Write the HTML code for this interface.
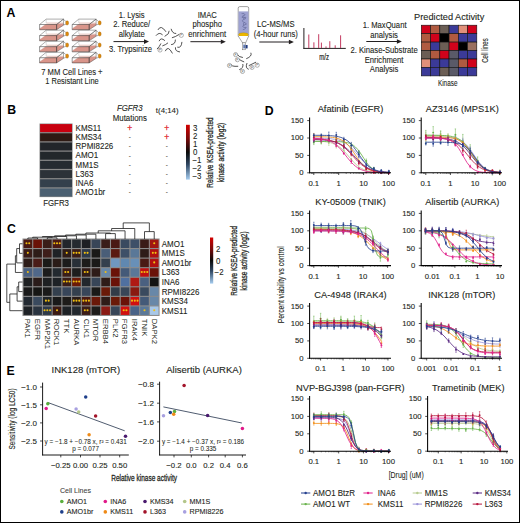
<!DOCTYPE html>
<html><head><meta charset="utf-8"><title>Figure</title>
<style>
html,body{margin:0;padding:0;background:#fff;}
body{width:520px;height:523px;overflow:hidden;font-family:"Liberation Sans", sans-serif;}
svg{display:block;}
text{font-family:"Liberation Sans", sans-serif;}
</style></head><body>
<svg width="520" height="523" viewBox="0 0 520 523" font-family='&quot;Liberation Sans&quot;, sans-serif' fill="#231f20">
<rect x="0.5" y="0.5" width="519" height="522" fill="#fff" stroke="#000" stroke-width="1"/>
<text x="6.60" y="16.80" font-size="12.3" fill="#000" font-weight="bold">A</text>
<text x="7.30" y="114.30" font-size="12.3" fill="#000" font-weight="bold">B</text>
<text x="6.90" y="233.10" font-size="12.3" fill="#000" font-weight="bold">C</text>
<text x="264.80" y="114.50" font-size="12.3" fill="#000" font-weight="bold">D</text>
<text x="6.40" y="374.60" font-size="12.3" fill="#000" font-weight="bold">E</text>
<defs><g id="flask"><path d="M0.3,4.0 L6.0,0 L23.9,-1.0 L23.9,0.7 L17,5.2 L0,5.2 Z" fill="#d9958a"/><path d="M0.3,4.0 L6.0,0 L17,0" fill="none" stroke="#c98074" stroke-width="0.3"/><path d="M6.8,-1.4 L23.6,-1.4" stroke="#c98074" stroke-width="0.5"/><path d="M0,0 L6.6,-5.4 L23.9,-5.4 L17,0 Z M17,0 L23.9,-5.4 L23.9,0.7 L17,5.2 Z" fill="none" stroke="#4a4a4a" stroke-width="0.45" stroke-linejoin="round"/><path d="M0,0 V5.2 H17 V0" fill="none" stroke="#333" stroke-width="0.5"/><path d="M0,0 H17" fill="none" stroke="#666" stroke-width="0.35"/><path d="M6.6,-5.4 V-1.4" stroke="#999" stroke-width="0.35"/><path d="M23.9,-5.0 L26.3,-3.1 M23.9,0.4 L26.3,-0.2" stroke="#4a4a4a" stroke-width="0.45"/><ellipse cx="27.5" cy="-1.6" rx="1.5" ry="2.1" fill="#dd8a0c" stroke="#9a5a00" stroke-width="0.35"/></g></defs>
<use href="#flask" x="39.60" y="24.50"/>
<use href="#flask" x="39.60" y="35.57"/>
<use href="#flask" x="39.60" y="46.64"/>
<use href="#flask" x="39.60" y="57.71"/>
<use href="#flask" x="72.20" y="24.50"/>
<use href="#flask" x="72.20" y="35.57"/>
<use href="#flask" x="72.20" y="46.64"/>
<use href="#flask" x="72.20" y="57.71"/>
<text x="71.90" y="75.10" font-size="8.66" textLength="61.40" lengthAdjust="spacingAndGlyphs" stroke="#231f20" stroke-width="0.1" text-anchor="middle">7 MM Cell Lines +</text>
<text x="72.00" y="84.20" font-size="8.66" textLength="53.40" lengthAdjust="spacingAndGlyphs" stroke="#231f20" stroke-width="0.1" text-anchor="middle">1 Resistant Line</text>
<text x="131.70" y="17.60" font-size="8.43" textLength="25.68" lengthAdjust="spacingAndGlyphs" stroke="#231f20" stroke-width="0.1" text-anchor="middle">1. Lysis</text>
<text x="131.70" y="27.20" font-size="8.43" textLength="37.04" lengthAdjust="spacingAndGlyphs" stroke="#231f20" stroke-width="0.1" text-anchor="middle">2. Reduce/</text>
<text x="131.70" y="36.70" font-size="8.43" textLength="25.97" lengthAdjust="spacingAndGlyphs" stroke="#231f20" stroke-width="0.1" text-anchor="middle">alkylate</text>
<line x1="113.50" y1="41.60" x2="145.00" y2="41.60" stroke="#231f20" stroke-width="1.0" />
<path d="M144.00,39.30 L149.00,41.60 L144.00,43.90 Z" fill="#231f20"/>
<text x="130.60" y="51.60" font-size="8.43" textLength="43.00" lengthAdjust="spacingAndGlyphs" stroke="#231f20" stroke-width="0.1" text-anchor="middle">3. Trypsinize</text>
<path d="M158.10,29.60 Q160.78,24.18 165.80,31.50 M156.20,35.40 Q159.12,31.62 162.30,34.60 M165.00,36.20 Q169.70,33.96 169.20,31.20 M171.20,29.20 Q172.46,33.82 175.80,33.50 M172.30,37.70 Q175.16,37.06 178.80,34.60 M159.20,40.80 Q160.86,36.96 164.60,40.40 M162.70,45.80 Q165.72,44.84 167.70,43.10 M171.50,44.60 Q175.40,44.38 175.40,40.00 M177.70,47.30 Q181.36,48.44 181.90,42.30 M157.30,48.80 Q159.44,46.82 160.80,43.80 M165.40,50.80 Q167.94,44.80 172.30,53.10 M175.40,47.70 Q174.90,51.36 179.60,51.90" fill="none" stroke="#333" stroke-width="0.85" stroke-linecap="round"/>
<circle cx="181.3" cy="35.3" r="2.1" fill="#fff" stroke="#666" stroke-width="0.5"/>
<text x="181.3" y="36.4" font-size="3.1" text-anchor="middle" fill="#666">P</text>
<circle cx="160.0" cy="50.0" r="2.1" fill="#fff" stroke="#666" stroke-width="0.5"/>
<text x="160.0" y="51.1" font-size="3.1" text-anchor="middle" fill="#666">P</text>
<text x="207.30" y="17.80" font-size="8.43" textLength="19.15" lengthAdjust="spacingAndGlyphs" stroke="#231f20" stroke-width="0.1" text-anchor="middle">IMAC</text>
<text x="207.30" y="27.30" font-size="8.43" textLength="29.39" lengthAdjust="spacingAndGlyphs" stroke="#231f20" stroke-width="0.1" text-anchor="middle">phospho</text>
<text x="207.30" y="36.80" font-size="8.43" textLength="37.89" lengthAdjust="spacingAndGlyphs" stroke="#231f20" stroke-width="0.1" text-anchor="middle">enrichment</text>
<line x1="190.40" y1="41.70" x2="221.80" y2="41.70" stroke="#231f20" stroke-width="1.0" />
<path d="M220.80,39.40 L225.80,41.70 L220.80,44.00 Z" fill="#231f20"/>
<path d="M238.2,36.4 V8.2 q0,-1.6 1.6,-1.6 h7.3 q1.6,0 1.6,1.6 V36.4" fill="#fff" stroke="#555" stroke-width="0.55"/>
<rect x="238.5" y="11.4" width="10.0" height="22.6" fill="#9ea2d1"/>
<path d="M241.6,13.6 q3.2,-0.6 3.6,1.4 q-3.5,0.6 -3.2,2.4 q2.2,1 3.8,-0.2 q0.6,1.8 -2.6,2.6 q-2,0.8 0.2,2.4 q2.6,0.4 3,2 q-2.8,0.6 -3.8,2.2 q1,1.6 3.6,1 q-0.4,1.8 -3.4,2.4 M243.6,16.2 q1.6,1.6 -0.4,3.2 M244.2,22.6 q-1.8,1.2 -0.2,2.8" fill="none" stroke="#565c8c" stroke-width="0.55"/>
<ellipse cx="243.45" cy="34.7" rx="4.9" ry="1.9" fill="#ecb800" stroke="#a88000" stroke-width="0.35"/>
<path d="M238.2,36.0 L242.6,42.9 L245.6,42.9 L248.7,36.0" fill="#fff" stroke="#555" stroke-width="0.5"/>
<rect x="242.6" y="42.9" width="3.0" height="6.9" fill="#fff" stroke="#555" stroke-width="0.45"/>
<rect x="245.6" y="45.0" width="2.0" height="3.4" fill="#1f3a80"/>
<rect x="243.4" y="44.6" width="1.4" height="3.8" fill="#3a5aa0"/>
<path d="M237.10,54.20 Q238.50,57.28 242.50,57.50 M251.00,53.10 Q252.44,56.24 246.60,58.60 M238.80,59.00 Q240.52,60.66 243.80,61.80 M230.80,64.40 Q230.92,66.78 237.80,66.30 M242.90,64.40 Q243.72,68.04 239.60,69.60 M246.90,63.40 Q244.92,68.12 248.40,69.20 M249.10,65.50 Q253.44,63.38 255.70,62.30" fill="none" stroke="#333" stroke-width="0.85" stroke-linecap="round"/>
<circle cx="235.6" cy="54.6" r="2.1" fill="#fff" stroke="#666" stroke-width="0.5"/>
<text x="235.6" y="55.7" font-size="3.1" text-anchor="middle" fill="#666">P</text>
<circle cx="237.4" cy="59.7" r="2.1" fill="#fff" stroke="#666" stroke-width="0.5"/>
<text x="237.4" y="60.800000000000004" font-size="3.1" text-anchor="middle" fill="#666">P</text>
<circle cx="229.5" cy="65.5" r="2.1" fill="#fff" stroke="#666" stroke-width="0.5"/>
<text x="229.5" y="66.6" font-size="3.1" text-anchor="middle" fill="#666">P</text>
<circle cx="242.5" cy="71.4" r="2.1" fill="#fff" stroke="#666" stroke-width="0.5"/>
<text x="242.5" y="72.5" font-size="3.1" text-anchor="middle" fill="#666">P</text>
<circle cx="252.0" cy="67.4" r="2.1" fill="#fff" stroke="#666" stroke-width="0.5"/>
<text x="252.0" y="68.5" font-size="3.1" text-anchor="middle" fill="#666">P</text>
<circle cx="257.2" cy="65.2" r="2.1" fill="#fff" stroke="#666" stroke-width="0.5"/>
<text x="257.2" y="66.3" font-size="3.1" text-anchor="middle" fill="#666">P</text>
<text x="275.80" y="27.30" font-size="8.43" textLength="37.45" lengthAdjust="spacingAndGlyphs" stroke="#231f20" stroke-width="0.1" text-anchor="middle">LC-MS/MS</text>
<text x="275.80" y="37.20" font-size="8.43" textLength="44.27" lengthAdjust="spacingAndGlyphs" stroke="#231f20" stroke-width="0.1" text-anchor="middle">(4-hour runs)</text>
<line x1="259.30" y1="42.00" x2="289.90" y2="42.00" stroke="#231f20" stroke-width="1.0" />
<path d="M288.90,39.70 L293.90,42.00 L288.90,44.30 Z" fill="#231f20"/>
<line x1="303.90" y1="28.00" x2="303.90" y2="48.80" stroke="#231f20" stroke-width="1.0" />
<line x1="303.40" y1="48.40" x2="345.80" y2="48.40" stroke="#231f20" stroke-width="1.0" />
<line x1="308.80" y1="34.50" x2="308.80" y2="48.00" stroke="#c43c62" stroke-width="1.0" />
<line x1="313.90" y1="42.30" x2="313.90" y2="48.00" stroke="#c43c62" stroke-width="1.0" />
<line x1="318.70" y1="34.20" x2="318.70" y2="48.00" stroke="#c43c62" stroke-width="1.0" />
<line x1="321.40" y1="42.60" x2="321.40" y2="48.00" stroke="#c43c62" stroke-width="1.0" />
<line x1="326.00" y1="46.40" x2="326.00" y2="48.00" stroke="#c43c62" stroke-width="1.0" />
<line x1="329.80" y1="41.20" x2="329.80" y2="48.00" stroke="#c43c62" stroke-width="1.0" />
<line x1="335.20" y1="45.30" x2="335.20" y2="48.00" stroke="#c43c62" stroke-width="1.0" />
<line x1="340.60" y1="35.30" x2="340.60" y2="48.00" stroke="#c43c62" stroke-width="1.0" />
<text x="324.20" y="59.50" font-size="8.3" text-anchor="middle" textLength="9.8" lengthAdjust="spacingAndGlyphs" stroke="#231f20" stroke-width="0.2">m/z</text>
<text x="384.60" y="28.20" font-size="8.43" textLength="43.85" lengthAdjust="spacingAndGlyphs" stroke="#231f20" stroke-width="0.1" text-anchor="middle">1. MaxQuant</text>
<text x="384.10" y="37.70" font-size="8.43" textLength="27.67" lengthAdjust="spacingAndGlyphs" stroke="#231f20" stroke-width="0.1" text-anchor="middle">analysis</text>
<line x1="366.30" y1="41.50" x2="397.90" y2="41.50" stroke="#231f20" stroke-width="1.0" />
<path d="M396.90,39.20 L401.90,41.50 L396.90,43.80 Z" fill="#231f20"/>
<text x="384.10" y="53.30" font-size="8.43" textLength="67.27" lengthAdjust="spacingAndGlyphs" stroke="#231f20" stroke-width="0.1" text-anchor="middle">2. Kinase-Substrate</text>
<text x="384.10" y="62.80" font-size="8.43" textLength="38.74" lengthAdjust="spacingAndGlyphs" stroke="#231f20" stroke-width="0.1" text-anchor="middle">Enrichment</text>
<text x="384.10" y="72.30" font-size="8.43" textLength="28.52" lengthAdjust="spacingAndGlyphs" stroke="#231f20" stroke-width="0.1" text-anchor="middle">Analysis</text>
<text x="449.20" y="20.20" font-size="8.75" textLength="70.13" lengthAdjust="spacingAndGlyphs" stroke="#231f20" stroke-width="0.1" text-anchor="middle">Predicted Activity</text>
<rect x="421.30" y="25.20" width="9.25" height="8.45" fill="#d0021b" stroke="#111" stroke-width="0.6"/>
<rect x="430.55" y="25.20" width="9.25" height="8.45" fill="#b05a40" stroke="#111" stroke-width="0.6"/>
<rect x="439.80" y="25.20" width="9.25" height="8.45" fill="#6b5e55" stroke="#111" stroke-width="0.6"/>
<rect x="449.05" y="25.20" width="9.25" height="8.45" fill="#3b3a98" stroke="#111" stroke-width="0.6"/>
<rect x="458.30" y="25.20" width="9.25" height="8.45" fill="#e0907a" stroke="#111" stroke-width="0.6"/>
<rect x="467.55" y="25.20" width="9.25" height="8.45" fill="#d0021b" stroke="#111" stroke-width="0.6"/>
<rect x="421.30" y="33.65" width="9.25" height="8.45" fill="#b05a40" stroke="#111" stroke-width="0.6"/>
<rect x="430.55" y="33.65" width="9.25" height="8.45" fill="#d0021b" stroke="#111" stroke-width="0.6"/>
<rect x="439.80" y="33.65" width="9.25" height="8.45" fill="#000" stroke="#111" stroke-width="0.6"/>
<rect x="449.05" y="33.65" width="9.25" height="8.45" fill="#b05a40" stroke="#111" stroke-width="0.6"/>
<rect x="458.30" y="33.65" width="9.25" height="8.45" fill="#3b3a98" stroke="#111" stroke-width="0.6"/>
<rect x="467.55" y="33.65" width="9.25" height="8.45" fill="#3b3a98" stroke="#111" stroke-width="0.6"/>
<rect x="421.30" y="42.10" width="9.25" height="8.45" fill="#b05a40" stroke="#111" stroke-width="0.6"/>
<rect x="430.55" y="42.10" width="9.25" height="8.45" fill="#3b3a98" stroke="#111" stroke-width="0.6"/>
<rect x="439.80" y="42.10" width="9.25" height="8.45" fill="#6b5e55" stroke="#111" stroke-width="0.6"/>
<rect x="449.05" y="42.10" width="9.25" height="8.45" fill="#d0021b" stroke="#111" stroke-width="0.6"/>
<rect x="458.30" y="42.10" width="9.25" height="8.45" fill="#000" stroke="#111" stroke-width="0.6"/>
<rect x="467.55" y="42.10" width="9.25" height="8.45" fill="#9a7060" stroke="#111" stroke-width="0.6"/>
<rect x="421.30" y="50.55" width="9.25" height="8.45" fill="#6b5e55" stroke="#111" stroke-width="0.6"/>
<rect x="430.55" y="50.55" width="9.25" height="8.45" fill="#b05a40" stroke="#111" stroke-width="0.6"/>
<rect x="439.80" y="50.55" width="9.25" height="8.45" fill="#d0021b" stroke="#111" stroke-width="0.6"/>
<rect x="449.05" y="50.55" width="9.25" height="8.45" fill="#5a5a68" stroke="#111" stroke-width="0.6"/>
<rect x="458.30" y="50.55" width="9.25" height="8.45" fill="#3b3a98" stroke="#111" stroke-width="0.6"/>
<rect x="467.55" y="50.55" width="9.25" height="8.45" fill="#3b3a98" stroke="#111" stroke-width="0.6"/>
<rect x="421.30" y="59.00" width="9.25" height="8.45" fill="#e0907a" stroke="#111" stroke-width="0.6"/>
<rect x="430.55" y="59.00" width="9.25" height="8.45" fill="#3b3a98" stroke="#111" stroke-width="0.6"/>
<rect x="439.80" y="59.00" width="9.25" height="8.45" fill="#3b3a98" stroke="#111" stroke-width="0.6"/>
<rect x="449.05" y="59.00" width="9.25" height="8.45" fill="#5a5a68" stroke="#111" stroke-width="0.6"/>
<rect x="458.30" y="59.00" width="9.25" height="8.45" fill="#b05a40" stroke="#111" stroke-width="0.6"/>
<rect x="467.55" y="59.00" width="9.25" height="8.45" fill="#d0021b" stroke="#111" stroke-width="0.6"/>
<rect x="421.30" y="67.45" width="9.25" height="8.45" fill="#3b3a98" stroke="#111" stroke-width="0.6"/>
<rect x="430.55" y="67.45" width="9.25" height="8.45" fill="#3b3a98" stroke="#111" stroke-width="0.6"/>
<rect x="439.80" y="67.45" width="9.25" height="8.45" fill="#6b5e55" stroke="#111" stroke-width="0.6"/>
<rect x="449.05" y="67.45" width="9.25" height="8.45" fill="#5a5a68" stroke="#111" stroke-width="0.6"/>
<rect x="458.30" y="67.45" width="9.25" height="8.45" fill="#3b3a98" stroke="#111" stroke-width="0.6"/>
<rect x="467.55" y="67.45" width="9.25" height="8.45" fill="#3b3a98" stroke="#111" stroke-width="0.6"/>
<text x="447.70" y="86.00" font-size="9.0" text-anchor="middle" textLength="19.5" lengthAdjust="spacingAndGlyphs" stroke="#231f20" stroke-width="0.1">Kinase</text>
<text x="487.60" y="50.50" font-size="9.0" text-anchor="middle" textLength="24.5" lengthAdjust="spacingAndGlyphs" stroke="#231f20" stroke-width="0.1" transform="rotate(-90 487.60 50.50)">Cell lines</text>
<rect x="39.50" y="123.50" width="33.10" height="73.60" fill="#8a8a8a" />
<rect x="40.10" y="124.10" width="31.90" height="8.00" fill="#c8000f" />
<rect x="40.10" y="133.30" width="31.90" height="8.00" fill="#2e1a14" />
<rect x="40.10" y="142.50" width="31.90" height="8.00" fill="#22252a" />
<rect x="40.10" y="151.70" width="31.90" height="8.00" fill="#22272b" />
<rect x="40.10" y="160.90" width="31.90" height="8.00" fill="#252b31" />
<rect x="40.10" y="170.10" width="31.90" height="8.00" fill="#2c3238" />
<rect x="40.10" y="179.30" width="31.90" height="8.00" fill="#34404c" />
<rect x="40.10" y="188.50" width="31.90" height="8.00" fill="#4b6072" />
<text x="75.60" y="130.80" font-size="8.61" textLength="25.54" lengthAdjust="spacingAndGlyphs" stroke="#231f20" stroke-width="0.1">KMS11</text>
<text x="129.80" y="130.70" font-size="8.49" stroke="#e0202a" stroke-width="0.25" text-anchor="middle" fill="#e0202a">+</text>
<text x="166.80" y="130.70" font-size="8.49" stroke="#e0202a" stroke-width="0.25" text-anchor="middle" fill="#e0202a">+</text>
<text x="75.60" y="140.00" font-size="8.61" textLength="26.14" lengthAdjust="spacingAndGlyphs" stroke="#231f20" stroke-width="0.1">KMS34</text>
<text x="129.80" y="139.20" font-size="6.71" textLength="2.07" lengthAdjust="spacingAndGlyphs" stroke="#333" stroke-width="0.1" text-anchor="middle" fill="#333">-</text>
<text x="166.80" y="139.90" font-size="8.49" stroke="#e0202a" stroke-width="0.25" text-anchor="middle" fill="#e0202a">+</text>
<text x="75.60" y="149.20" font-size="8.61" textLength="37.65" lengthAdjust="spacingAndGlyphs" stroke="#231f20" stroke-width="0.1">RPMI8226</text>
<text x="129.80" y="148.40" font-size="6.71" textLength="2.07" lengthAdjust="spacingAndGlyphs" stroke="#333" stroke-width="0.1" text-anchor="middle" fill="#333">-</text>
<text x="166.80" y="148.40" font-size="6.71" textLength="2.07" lengthAdjust="spacingAndGlyphs" stroke="#333" stroke-width="0.1" text-anchor="middle" fill="#333">-</text>
<text x="75.60" y="158.40" font-size="8.61" textLength="22.59" lengthAdjust="spacingAndGlyphs" stroke="#231f20" stroke-width="0.1">AMO1</text>
<text x="129.80" y="157.60" font-size="6.71" textLength="2.07" lengthAdjust="spacingAndGlyphs" stroke="#333" stroke-width="0.1" text-anchor="middle" fill="#333">-</text>
<text x="166.80" y="157.60" font-size="6.71" textLength="2.07" lengthAdjust="spacingAndGlyphs" stroke="#333" stroke-width="0.1" text-anchor="middle" fill="#333">-</text>
<text x="75.60" y="167.60" font-size="8.61" textLength="23.03" lengthAdjust="spacingAndGlyphs" stroke="#231f20" stroke-width="0.1">MM1S</text>
<text x="129.80" y="166.80" font-size="6.71" textLength="2.07" lengthAdjust="spacingAndGlyphs" stroke="#333" stroke-width="0.1" text-anchor="middle" fill="#333">-</text>
<text x="166.80" y="166.80" font-size="6.71" textLength="2.07" lengthAdjust="spacingAndGlyphs" stroke="#333" stroke-width="0.1" text-anchor="middle" fill="#333">-</text>
<text x="75.60" y="176.80" font-size="8.61" textLength="17.73" lengthAdjust="spacingAndGlyphs" stroke="#231f20" stroke-width="0.1">L363</text>
<text x="129.80" y="176.00" font-size="6.71" textLength="2.07" lengthAdjust="spacingAndGlyphs" stroke="#333" stroke-width="0.1" text-anchor="middle" fill="#333">-</text>
<text x="166.80" y="176.00" font-size="6.71" textLength="2.07" lengthAdjust="spacingAndGlyphs" stroke="#333" stroke-width="0.1" text-anchor="middle" fill="#333">-</text>
<text x="75.60" y="186.00" font-size="8.61" textLength="17.72" lengthAdjust="spacingAndGlyphs" stroke="#231f20" stroke-width="0.1">INA6</text>
<text x="129.80" y="185.20" font-size="6.71" textLength="2.07" lengthAdjust="spacingAndGlyphs" stroke="#333" stroke-width="0.1" text-anchor="middle" fill="#333">-</text>
<text x="166.80" y="185.20" font-size="6.71" textLength="2.07" lengthAdjust="spacingAndGlyphs" stroke="#333" stroke-width="0.1" text-anchor="middle" fill="#333">-</text>
<text x="75.60" y="195.20" font-size="8.61" textLength="29.67" lengthAdjust="spacingAndGlyphs" stroke="#231f20" stroke-width="0.1">AMO1br</text>
<text x="129.80" y="194.40" font-size="6.71" textLength="2.07" lengthAdjust="spacingAndGlyphs" stroke="#333" stroke-width="0.1" text-anchor="middle" fill="#333">-</text>
<text x="166.80" y="194.40" font-size="6.71" textLength="2.07" lengthAdjust="spacingAndGlyphs" stroke="#333" stroke-width="0.1" text-anchor="middle" fill="#333">-</text>
<text x="56.10" y="206.40" font-size="8.50" textLength="25.80" lengthAdjust="spacingAndGlyphs" stroke="#231f20" stroke-width="0.1" text-anchor="middle">FGFR3</text>
<text x="129.80" y="111.00" font-size="8.50" textLength="25.80" lengthAdjust="spacingAndGlyphs" stroke="#231f20" stroke-width="0.1" text-anchor="middle" font-style="italic">FGFR3</text>
<text x="129.80" y="120.60" font-size="8.50" textLength="34.12" lengthAdjust="spacingAndGlyphs" stroke="#231f20" stroke-width="0.1" text-anchor="middle">Mutations</text>
<text x="167.20" y="113.40" font-size="7.48" textLength="22.74" lengthAdjust="spacingAndGlyphs" stroke="#231f20" stroke-width="0.1" text-anchor="middle">t(4;14)</text>
<defs><linearGradient id="cb" x1="0" y1="0" x2="0" y2="1"><stop offset="0" stop-color="#d40000"/><stop offset="0.25" stop-color="#7a0a0a"/><stop offset="0.5" stop-color="#0a0a0a"/><stop offset="0.72" stop-color="#2e4560"/><stop offset="1" stop-color="#a6cdf0"/></linearGradient></defs>
<rect x="186.00" y="124.80" width="3.80" height="54.80" fill="url(#cb)" />
<text x="193.00" y="131.30" font-size="8.50" textLength="4.38" lengthAdjust="spacingAndGlyphs" stroke="#231f20" stroke-width="0.1">3</text>
<text x="193.00" y="139.32" font-size="8.50" textLength="4.38" lengthAdjust="spacingAndGlyphs" stroke="#231f20" stroke-width="0.1">2</text>
<text x="193.00" y="147.34" font-size="8.50" textLength="4.38" lengthAdjust="spacingAndGlyphs" stroke="#231f20" stroke-width="0.1">1</text>
<text x="193.00" y="155.36" font-size="8.50" textLength="4.38" lengthAdjust="spacingAndGlyphs" stroke="#231f20" stroke-width="0.1">0</text>
<text x="192.40" y="163.38" font-size="8.50" textLength="8.97" lengthAdjust="spacingAndGlyphs" stroke="#231f20" stroke-width="0.1">&#8722;1</text>
<text x="192.40" y="171.40" font-size="8.50" textLength="8.97" lengthAdjust="spacingAndGlyphs" stroke="#231f20" stroke-width="0.1">&#8722;2</text>
<text x="192.40" y="179.42" font-size="8.50" textLength="8.97" lengthAdjust="spacingAndGlyphs" stroke="#231f20" stroke-width="0.1">&#8722;3</text>
<text x="212.60" y="152.50" font-size="8.6" text-anchor="middle" textLength="70.3" lengthAdjust="spacingAndGlyphs" stroke="#231f20" stroke-width="0.28" transform="rotate(-90 212.60 152.50)">Relative KSEA-predicted</text>
<text x="223.60" y="152.50" font-size="8.6" text-anchor="middle" textLength="59.5" lengthAdjust="spacingAndGlyphs" stroke="#231f20" stroke-width="0.28" transform="rotate(-90 223.60 152.50)">kinase activity (log2)</text>
<rect x="22.50" y="238.50" width="137.08" height="77.48" fill="#8c8c8c" />
<rect x="23.55" y="239.55" width="8.62" height="8.46" fill="#4a1a14" />
<circle cx="26.48" cy="243.28" r="1.05" fill="#f0be10"/>
<circle cx="29.23" cy="243.28" r="1.05" fill="#f0be10"/>
<rect x="33.27" y="239.55" width="8.62" height="8.46" fill="#6a1208" />
<rect x="42.99" y="239.55" width="8.62" height="8.46" fill="#3a1e18" />
<rect x="52.71" y="239.55" width="8.62" height="8.46" fill="#4a1a14" />
<circle cx="54.27" cy="243.28" r="1.05" fill="#f0be10"/>
<circle cx="57.02" cy="243.28" r="1.05" fill="#f0be10"/>
<circle cx="59.77" cy="243.28" r="1.05" fill="#f0be10"/>
<rect x="62.43" y="239.55" width="8.62" height="8.46" fill="#22262c" />
<rect x="72.15" y="239.55" width="8.62" height="8.46" fill="#252a30" />
<rect x="81.87" y="239.55" width="8.62" height="8.46" fill="#1e2024" />
<rect x="91.59" y="239.55" width="8.62" height="8.46" fill="#384658" />
<rect x="101.31" y="239.55" width="8.62" height="8.46" fill="#3a1e18" />
<rect x="111.03" y="239.55" width="8.62" height="8.46" fill="#4a1a14" />
<rect x="120.75" y="239.55" width="8.62" height="8.46" fill="#3a4a60" />
<rect x="130.47" y="239.55" width="8.62" height="8.46" fill="#3e5068" />
<rect x="140.19" y="239.55" width="8.62" height="8.46" fill="#3a1c18" />
<rect x="149.91" y="239.55" width="8.62" height="8.46" fill="#a01810" />
<circle cx="154.22" cy="243.28" r="1.05" fill="#f0be10"/>
<rect x="23.55" y="249.11" width="8.62" height="8.46" fill="#3a1c18" />
<circle cx="27.86" cy="252.84" r="1.05" fill="#f0be10"/>
<rect x="33.27" y="249.11" width="8.62" height="8.46" fill="#2e1c18" />
<rect x="42.99" y="249.11" width="8.62" height="8.46" fill="#3e1e1a" />
<rect x="52.71" y="249.11" width="8.62" height="8.46" fill="#1f2226" />
<rect x="62.43" y="249.11" width="8.62" height="8.46" fill="#2e1c18" />
<circle cx="66.74" cy="252.84" r="1.05" fill="#f0be10"/>
<rect x="72.15" y="249.11" width="8.62" height="8.46" fill="#3a1e18" />
<circle cx="73.71" cy="252.84" r="1.05" fill="#f0be10"/>
<circle cx="76.46" cy="252.84" r="1.05" fill="#f0be10"/>
<circle cx="79.21" cy="252.84" r="1.05" fill="#f0be10"/>
<rect x="81.87" y="249.11" width="8.62" height="8.46" fill="#2e3a4a" />
<circle cx="84.81" cy="252.84" r="1.05" fill="#f0be10"/>
<circle cx="87.56" cy="252.84" r="1.05" fill="#f0be10"/>
<rect x="91.59" y="249.11" width="8.62" height="8.46" fill="#1a1a18" />
<rect x="101.31" y="249.11" width="8.62" height="8.46" fill="#4a5e78" />
<rect x="111.03" y="249.11" width="8.62" height="8.46" fill="#5a1a10" />
<rect x="120.75" y="249.11" width="8.62" height="8.46" fill="#3e5068" />
<rect x="130.47" y="249.11" width="8.62" height="8.46" fill="#5a7898" />
<rect x="140.19" y="249.11" width="8.62" height="8.46" fill="#2e1c18" />
<rect x="149.91" y="249.11" width="8.62" height="8.46" fill="#b01010" />
<circle cx="152.85" cy="252.84" r="1.05" fill="#f0be10"/>
<circle cx="155.60" cy="252.84" r="1.05" fill="#f0be10"/>
<rect x="23.55" y="258.67" width="8.62" height="8.46" fill="#2e1c18" />
<rect x="33.27" y="258.67" width="8.62" height="8.46" fill="#4a1c18" />
<rect x="42.99" y="258.67" width="8.62" height="8.46" fill="#1a1a18" />
<rect x="52.71" y="258.67" width="8.62" height="8.46" fill="#2a1c18" />
<rect x="62.43" y="258.67" width="8.62" height="8.46" fill="#1c1c1c" />
<rect x="72.15" y="258.67" width="8.62" height="8.46" fill="#283038" />
<rect x="81.87" y="258.67" width="8.62" height="8.46" fill="#1c1c1a" />
<rect x="91.59" y="258.67" width="8.62" height="8.46" fill="#1a1a18" />
<rect x="101.31" y="258.67" width="8.62" height="8.46" fill="#34404e" />
<rect x="111.03" y="258.67" width="8.62" height="8.46" fill="#7098c0" />
<rect x="120.75" y="258.67" width="8.62" height="8.46" fill="#6088b0" />
<rect x="130.47" y="258.67" width="8.62" height="8.46" fill="#6890b8" />
<rect x="140.19" y="258.67" width="8.62" height="8.46" fill="#4a1a14" />
<rect x="149.91" y="258.67" width="8.62" height="8.46" fill="#b01010" />
<circle cx="154.22" cy="262.40" r="1.05" fill="#f0be10"/>
<rect x="23.55" y="268.23" width="8.62" height="8.46" fill="#4a6080" />
<circle cx="27.86" cy="271.96" r="1.05" fill="#f0be10"/>
<rect x="33.27" y="268.23" width="8.62" height="8.46" fill="#50688a" />
<rect x="42.99" y="268.23" width="8.62" height="8.46" fill="#1c1c1c" />
<rect x="52.71" y="268.23" width="8.62" height="8.46" fill="#232a30" />
<rect x="62.43" y="268.23" width="8.62" height="8.46" fill="#3a1e18" />
<circle cx="65.37" cy="271.96" r="1.05" fill="#f0be10"/>
<circle cx="68.12" cy="271.96" r="1.05" fill="#f0be10"/>
<rect x="72.15" y="268.23" width="8.62" height="8.46" fill="#1e1e1e" />
<rect x="81.87" y="268.23" width="8.62" height="8.46" fill="#321c18" />
<circle cx="84.81" cy="271.96" r="1.05" fill="#f0be10"/>
<circle cx="87.56" cy="271.96" r="1.05" fill="#f0be10"/>
<rect x="91.59" y="268.23" width="8.62" height="8.46" fill="#2e1c18" />
<rect x="101.31" y="268.23" width="8.62" height="8.46" fill="#6888a8" />
<circle cx="105.62" cy="271.96" r="1.05" fill="#f0be10"/>
<rect x="111.03" y="268.23" width="8.62" height="8.46" fill="#6a1208" />
<rect x="120.75" y="268.23" width="8.62" height="8.46" fill="#445a78" />
<rect x="130.47" y="268.23" width="8.62" height="8.46" fill="#5a7898" />
<rect x="140.19" y="268.23" width="8.62" height="8.46" fill="#c01010" />
<circle cx="141.75" cy="271.96" r="1.05" fill="#f0be10"/>
<circle cx="144.50" cy="271.96" r="1.05" fill="#f0be10"/>
<circle cx="147.25" cy="271.96" r="1.05" fill="#f0be10"/>
<rect x="149.91" y="268.23" width="8.62" height="8.46" fill="#6a1208" />
<rect x="23.55" y="277.79" width="8.62" height="8.46" fill="#1e2022" />
<rect x="33.27" y="277.79" width="8.62" height="8.46" fill="#2a1c1a" />
<rect x="42.99" y="277.79" width="8.62" height="8.46" fill="#1e2022" />
<rect x="52.71" y="277.79" width="8.62" height="8.46" fill="#1e2226" />
<rect x="62.43" y="277.79" width="8.62" height="8.46" fill="#3a1e18" />
<circle cx="63.99" cy="281.52" r="1.05" fill="#f0be10"/>
<circle cx="66.74" cy="281.52" r="1.05" fill="#f0be10"/>
<circle cx="69.49" cy="281.52" r="1.05" fill="#f0be10"/>
<rect x="72.15" y="277.79" width="8.62" height="8.46" fill="#6a1a08" />
<circle cx="73.71" cy="281.52" r="1.05" fill="#f0be10"/>
<circle cx="76.46" cy="281.52" r="1.05" fill="#f0be10"/>
<circle cx="79.21" cy="281.52" r="1.05" fill="#f0be10"/>
<rect x="81.87" y="277.79" width="8.62" height="8.46" fill="#22262c" />
<rect x="91.59" y="277.79" width="8.62" height="8.46" fill="#384658" />
<rect x="101.31" y="277.79" width="8.62" height="8.46" fill="#2e1c18" />
<rect x="111.03" y="277.79" width="8.62" height="8.46" fill="#6a1208" />
<rect x="120.75" y="277.79" width="8.62" height="8.46" fill="#5070a0" />
<rect x="130.47" y="277.79" width="8.62" height="8.46" fill="#b01a14" />
<rect x="140.19" y="277.79" width="8.62" height="8.46" fill="#4a6080" />
<rect x="149.91" y="277.79" width="8.62" height="8.46" fill="#141412" />
<rect x="23.55" y="287.35" width="8.62" height="8.46" fill="#1a1a1a" />
<rect x="33.27" y="287.35" width="8.62" height="8.46" fill="#161614" />
<rect x="42.99" y="287.35" width="8.62" height="8.46" fill="#1a1a1a" />
<rect x="52.71" y="287.35" width="8.62" height="8.46" fill="#34404e" />
<rect x="62.43" y="287.35" width="8.62" height="8.46" fill="#38465a" />
<rect x="72.15" y="287.35" width="8.62" height="8.46" fill="#34404e" />
<rect x="81.87" y="287.35" width="8.62" height="8.46" fill="#38465a" />
<rect x="91.59" y="287.35" width="8.62" height="8.46" fill="#1a1a18" />
<rect x="101.31" y="287.35" width="8.62" height="8.46" fill="#6a1a08" />
<rect x="111.03" y="287.35" width="8.62" height="8.46" fill="#323c48" />
<rect x="120.75" y="287.35" width="8.62" height="8.46" fill="#384658" />
<rect x="130.47" y="287.35" width="8.62" height="8.46" fill="#8a1a10" />
<rect x="140.19" y="287.35" width="8.62" height="8.46" fill="#3a4a5e" />
<rect x="149.91" y="287.35" width="8.62" height="8.46" fill="#6888a8" />
<rect x="23.55" y="296.91" width="8.62" height="8.46" fill="#232a32" />
<rect x="33.27" y="296.91" width="8.62" height="8.46" fill="#3a4a5e" />
<rect x="42.99" y="296.91" width="8.62" height="8.46" fill="#202428" />
<circle cx="45.92" cy="300.64" r="1.05" fill="#f0be10"/>
<circle cx="48.67" cy="300.64" r="1.05" fill="#f0be10"/>
<rect x="52.71" y="296.91" width="8.62" height="8.46" fill="#1a1a1a" />
<rect x="62.43" y="296.91" width="8.62" height="8.46" fill="#1e1c1a" />
<rect x="72.15" y="296.91" width="8.62" height="8.46" fill="#2a1c18" />
<circle cx="73.71" cy="300.64" r="1.05" fill="#f0be10"/>
<circle cx="76.46" cy="300.64" r="1.05" fill="#f0be10"/>
<circle cx="79.21" cy="300.64" r="1.05" fill="#f0be10"/>
<rect x="81.87" y="296.91" width="8.62" height="8.46" fill="#4a1a14" />
<circle cx="83.43" cy="300.64" r="1.05" fill="#f0be10"/>
<circle cx="86.18" cy="300.64" r="1.05" fill="#f0be10"/>
<circle cx="88.93" cy="300.64" r="1.05" fill="#f0be10"/>
<rect x="91.59" y="296.91" width="8.62" height="8.46" fill="#6a1808" />
<rect x="101.31" y="296.91" width="8.62" height="8.46" fill="#2e1c18" />
<rect x="111.03" y="296.91" width="8.62" height="8.46" fill="#6a1a08" />
<rect x="120.75" y="296.91" width="8.62" height="8.46" fill="#6a1208" />
<rect x="130.47" y="296.91" width="8.62" height="8.46" fill="#d01010" />
<circle cx="132.03" cy="300.64" r="1.05" fill="#f0be10"/>
<circle cx="134.78" cy="300.64" r="1.05" fill="#f0be10"/>
<circle cx="137.53" cy="300.64" r="1.05" fill="#f0be10"/>
<rect x="140.19" y="296.91" width="8.62" height="8.46" fill="#445a78" />
<rect x="149.91" y="296.91" width="8.62" height="8.46" fill="#6888a8" />
<rect x="23.55" y="306.47" width="8.62" height="8.46" fill="#1e2226" />
<rect x="33.27" y="306.47" width="8.62" height="8.46" fill="#2a3440" />
<rect x="42.99" y="306.47" width="8.62" height="8.46" fill="#2e3a4a" />
<circle cx="44.55" cy="310.20" r="1.05" fill="#f0be10"/>
<circle cx="47.30" cy="310.20" r="1.05" fill="#f0be10"/>
<circle cx="50.05" cy="310.20" r="1.05" fill="#f0be10"/>
<rect x="52.71" y="306.47" width="8.62" height="8.46" fill="#3a1a14" />
<circle cx="57.02" cy="310.20" r="1.05" fill="#f0be10"/>
<rect x="62.43" y="306.47" width="8.62" height="8.46" fill="#1e2226" />
<rect x="72.15" y="306.47" width="8.62" height="8.46" fill="#22282e" />
<rect x="81.87" y="306.47" width="8.62" height="8.46" fill="#3a1c18" />
<circle cx="84.81" cy="310.20" r="1.05" fill="#f0be10"/>
<circle cx="87.56" cy="310.20" r="1.05" fill="#f0be10"/>
<rect x="91.59" y="306.47" width="8.62" height="8.46" fill="#1e1c1a" />
<rect x="101.31" y="306.47" width="8.62" height="8.46" fill="#8a1a14" />
<rect x="111.03" y="306.47" width="8.62" height="8.46" fill="#384658" />
<rect x="120.75" y="306.47" width="8.62" height="8.46" fill="#d01010" />
<circle cx="123.69" cy="310.20" r="1.05" fill="#f0be10"/>
<circle cx="126.44" cy="310.20" r="1.05" fill="#f0be10"/>
<rect x="130.47" y="306.47" width="8.62" height="8.46" fill="#4a6488" />
<rect x="140.19" y="306.47" width="8.62" height="8.46" fill="#5a7898" />
<circle cx="144.50" cy="310.20" r="1.05" fill="#f0be10"/>
<rect x="149.91" y="306.47" width="8.62" height="8.46" fill="#a8c8e8" />
<circle cx="154.22" cy="310.20" r="1.05" fill="#f0be10"/>
<text x="161.80" y="246.78" font-size="8.61" textLength="22.59" lengthAdjust="spacingAndGlyphs" stroke="#231f20" stroke-width="0.1">AMO1</text>
<text x="161.80" y="256.34" font-size="8.61" textLength="23.03" lengthAdjust="spacingAndGlyphs" stroke="#231f20" stroke-width="0.1">MM1S</text>
<text x="161.80" y="265.90" font-size="8.61" textLength="29.67" lengthAdjust="spacingAndGlyphs" stroke="#231f20" stroke-width="0.1">AMO1br</text>
<text x="161.80" y="275.46" font-size="8.61" textLength="17.73" lengthAdjust="spacingAndGlyphs" stroke="#231f20" stroke-width="0.1">L363</text>
<text x="161.80" y="285.02" font-size="8.61" textLength="17.72" lengthAdjust="spacingAndGlyphs" stroke="#231f20" stroke-width="0.1">INA6</text>
<text x="161.80" y="294.58" font-size="8.61" textLength="37.65" lengthAdjust="spacingAndGlyphs" stroke="#231f20" stroke-width="0.1">RPMI8226</text>
<text x="161.80" y="304.14" font-size="8.61" textLength="26.14" lengthAdjust="spacingAndGlyphs" stroke="#231f20" stroke-width="0.1">KMS34</text>
<text x="161.80" y="313.70" font-size="8.61" textLength="25.54" lengthAdjust="spacingAndGlyphs" stroke="#231f20" stroke-width="0.1">KMS11</text>
<text x="25.26" y="318.80" font-size="7.7" transform="rotate(90 25.26 318.80)">PAK1</text>
<text x="34.98" y="318.80" font-size="7.7" transform="rotate(90 34.98 318.80)">EGFR</text>
<text x="44.70" y="318.80" font-size="7.7" transform="rotate(90 44.70 318.80)">MAP2K1</text>
<text x="54.42" y="318.80" font-size="7.7" transform="rotate(90 54.42 318.80)">ROCK1</text>
<text x="64.14" y="318.80" font-size="7.7" transform="rotate(90 64.14 318.80)">TTK</text>
<text x="73.86" y="318.80" font-size="7.7" transform="rotate(90 73.86 318.80)">AURKA</text>
<text x="83.58" y="318.80" font-size="7.7" transform="rotate(90 83.58 318.80)">CLK1</text>
<text x="93.30" y="318.80" font-size="7.7" transform="rotate(90 93.30 318.80)">MTOR</text>
<text x="103.02" y="318.80" font-size="7.7" transform="rotate(90 103.02 318.80)">ERBB4</text>
<text x="112.74" y="318.80" font-size="7.7" transform="rotate(90 112.74 318.80)">PLK2</text>
<text x="122.46" y="318.80" font-size="7.7" transform="rotate(90 122.46 318.80)">FGFR3</text>
<text x="132.18" y="318.80" font-size="7.7" transform="rotate(90 132.18 318.80)">IRAK4</text>
<text x="141.90" y="318.80" font-size="7.7" transform="rotate(90 141.90 318.80)">TNIK</text>
<text x="151.62" y="318.80" font-size="7.7" transform="rotate(90 151.62 318.80)">DAPK2</text>
<path d="M27.86,239.00 V238.00 H37.58 V239.00 M47.30,239.00 V237.80 H57.02 V239.00 M32.72,238.00 V237.20 H52.16 V237.80 M42.44,237.20 V236.50 H66.74 V239.00 M54.59,236.50 V235.80 H76.46 V239.00 M65.53,235.80 V235.00 H86.18 V239.00 M75.85,235.00 V234.20 H95.90 V239.00 M105.62,239.00 V233.60 H115.34 V239.00 M85.88,234.20 V233.00 H110.48 V233.60 M98.18,233.00 V230.80 H125.06 V239.00 M111.62,230.80 V228.50 H134.78 V239.00 M144.50,239.00 V231.60 H154.22 V239.00 M123.20,228.50 V222.90 H149.36 V231.60" fill="none" stroke="#111" stroke-width="0.75"/>
<path d="M22.50,243.78 H19.50 V253.34 H22.50 M19.50,248.56 H16.70 V262.90 H22.50 M16.70,255.73 H15.40 V272.46 H22.50 M22.50,282.02 H18.70 V291.58 H22.50 M18.70,286.80 H17.10 V301.14 H22.50 M17.10,293.97 H9.80 V310.70 H22.50 M15.40,264.09 H6.80 V302.33 H9.80" fill="none" stroke="#111" stroke-width="0.75"/>
<defs><linearGradient id="cc" x1="0" y1="0" x2="0" y2="1"><stop offset="0" stop-color="#d40000"/><stop offset="0.25" stop-color="#7a0a0a"/><stop offset="0.5" stop-color="#0a0a0a"/><stop offset="0.72" stop-color="#2e4560"/><stop offset="1" stop-color="#a6cdf0"/></linearGradient></defs>
<rect x="210.00" y="237.50" width="3.20" height="46.10" fill="url(#cc)" />
<text x="216.00" y="251.90" font-size="8.50" textLength="4.38" lengthAdjust="spacingAndGlyphs" stroke="#231f20" stroke-width="0.1">2</text>
<text x="216.00" y="263.50" font-size="8.50" textLength="4.38" lengthAdjust="spacingAndGlyphs" stroke="#231f20" stroke-width="0.1">0</text>
<text x="214.60" y="274.60" font-size="8.50" textLength="8.97" lengthAdjust="spacingAndGlyphs" stroke="#231f20" stroke-width="0.1">&#8722;2</text>
<text x="236.60" y="260.90" font-size="8.6" text-anchor="middle" textLength="69.7" lengthAdjust="spacingAndGlyphs" stroke="#231f20" stroke-width="0.28" transform="rotate(-90 236.60 260.90)">Relative KSEA-predicted</text>
<text x="246.80" y="260.90" font-size="8.6" text-anchor="middle" textLength="59.0" lengthAdjust="spacingAndGlyphs" stroke="#231f20" stroke-width="0.28" transform="rotate(-90 246.80 260.90)">kinase activity (log2)</text>
<polyline points="313.8,138.1 315.9,138.1 318.0,138.1 320.0,138.2 322.1,138.2 324.2,138.3 326.3,138.4 328.4,138.6 330.5,138.7 332.5,139.0 334.6,139.3 336.7,139.7 338.8,140.2 340.9,140.9 342.9,141.8 345.0,142.9 347.1,144.2 349.2,145.9 351.3,147.8 353.4,149.9 355.4,152.3 357.5,154.7 359.6,157.2 361.7,159.7 363.8,161.9 365.9,164.0 367.9,165.7 370.0,167.2 372.1,168.4 374.2,169.4 376.3,170.2 378.3,170.8 380.4,171.3 382.5,171.7 384.6,171.9 386.7,172.2 388.8,172.3" fill="none" stroke="#9a93d8" stroke-width="0.85"/>
<circle cx="313.8" cy="138.7" r="0.95" fill="#9a93d8"/>
<circle cx="321.3" cy="137.7" r="0.95" fill="#9a93d8"/>
<circle cx="328.8" cy="138.5" r="0.95" fill="#9a93d8"/>
<circle cx="336.3" cy="141.2" r="0.95" fill="#9a93d8"/>
<circle cx="343.8" cy="143.8" r="0.95" fill="#9a93d8"/>
<circle cx="351.3" cy="149.3" r="0.95" fill="#9a93d8"/>
<circle cx="358.8" cy="156.5" r="0.95" fill="#9a93d8"/>
<circle cx="366.3" cy="165.7" r="0.95" fill="#9a93d8"/>
<circle cx="373.8" cy="168.8" r="0.95" fill="#9a93d8"/>
<circle cx="381.3" cy="171.2" r="0.95" fill="#9a93d8"/>
<circle cx="388.8" cy="170.7" r="0.95" fill="#9a93d8"/>
<path d="M313.8,137.8V139.6M313.1,137.8h1.4M313.1,139.6h1.4M321.3,136.9V138.5M320.6,136.9h1.4M320.6,138.5h1.4M328.8,137.2V139.7M328.1,137.2h1.4M328.1,139.7h1.4M336.3,139.7V142.6M335.6,139.7h1.4M335.6,142.6h1.4M343.8,142.5V145.1M343.1,142.5h1.4M343.1,145.1h1.4M351.3,148.4V150.1M350.6,148.4h1.4M350.6,150.1h1.4M358.8,154.7V158.4M358.1,154.7h1.4M358.1,158.4h1.4M366.3,164.6V166.7M365.6,164.6h1.4M365.6,166.7h1.4M373.8,168.1V169.5M373.1,168.1h1.4M373.1,169.5h1.4M381.3,170.7V171.6M380.6,170.7h1.4M380.6,171.6h1.4M388.8,170.4V170.9M388.1,170.4h1.4M388.1,170.9h1.4" stroke="#9a93d8" stroke-width="0.5" fill="none"/>
<polyline points="313.8,141.0 315.9,141.0 318.0,141.1 320.0,141.2 322.1,141.4 324.2,141.6 326.3,141.9 328.4,142.2 330.5,142.7 332.5,143.3 334.6,144.2 336.7,145.2 338.8,146.5 340.9,148.1 342.9,150.0 345.0,152.2 347.1,154.5 349.2,157.0 351.3,159.4 353.4,161.7 355.4,163.9 357.5,165.7 359.6,167.3 361.7,168.5 363.8,169.6 365.9,170.3 367.9,171.0 370.0,171.4 372.1,171.8 374.2,172.0 376.3,172.2 378.3,172.4 380.4,172.5 382.5,172.6 384.6,172.6 386.7,172.7 388.8,172.7" fill="none" stroke="#b7cb8f" stroke-width="0.85"/>
<circle cx="313.8" cy="139.7" r="0.95" fill="#b7cb8f"/>
<circle cx="321.3" cy="142.5" r="0.95" fill="#b7cb8f"/>
<circle cx="328.8" cy="143.0" r="0.95" fill="#b7cb8f"/>
<circle cx="336.3" cy="146.1" r="0.95" fill="#b7cb8f"/>
<circle cx="343.8" cy="150.4" r="0.95" fill="#b7cb8f"/>
<circle cx="351.3" cy="159.3" r="0.95" fill="#b7cb8f"/>
<circle cx="358.8" cy="168.2" r="0.95" fill="#b7cb8f"/>
<circle cx="366.3" cy="169.9" r="0.95" fill="#b7cb8f"/>
<circle cx="373.8" cy="172.6" r="0.95" fill="#b7cb8f"/>
<circle cx="381.3" cy="172.7" r="0.95" fill="#b7cb8f"/>
<circle cx="388.8" cy="171.7" r="0.95" fill="#b7cb8f"/>
<path d="M313.8,138.2V141.2M313.1,138.2h1.4M313.1,141.2h1.4M321.3,141.4V143.7M320.6,141.4h1.4M320.6,143.7h1.4M328.8,140.5V145.4M328.1,140.5h1.4M328.1,145.4h1.4M336.3,144.1V148.1M335.6,144.1h1.4M335.6,148.1h1.4M343.8,148.7V152.0M343.1,148.7h1.4M343.1,152.0h1.4M351.3,158.2V160.3M350.6,158.2h1.4M350.6,160.3h1.4M358.8,167.7V168.7M358.1,167.7h1.4M358.1,168.7h1.4M366.3,169.2V170.5M365.6,169.2h1.4M365.6,170.5h1.4M373.8,171.9V173.4M373.1,171.9h1.4M373.1,173.4h1.4M381.3,172.2V173.2M380.6,172.2h1.4M380.6,173.2h1.4M388.8,170.9V172.5M388.1,170.9h1.4M388.1,172.5h1.4" stroke="#b7cb8f" stroke-width="0.5" fill="none"/>
<polyline points="313.8,141.5 315.9,141.5 318.0,141.5 320.0,141.5 322.1,141.5 324.2,141.5 326.3,141.5 328.4,141.5 330.5,141.5 332.5,141.5 334.6,141.6 336.7,141.6 338.8,141.7 340.9,141.8 342.9,142.0 345.0,142.3 347.1,142.7 349.2,143.2 351.3,144.1 353.4,145.3 355.4,147.0 357.5,149.2 359.6,151.9 361.7,155.0 363.8,158.3 365.9,161.5 367.9,164.3 370.0,166.7 372.1,168.5 374.2,169.9 376.3,170.8 378.3,171.5 380.4,171.9 382.5,172.2 384.6,172.4 386.7,172.5 388.8,172.6" fill="none" stroke="#69b34c" stroke-width="0.85"/>
<circle cx="313.8" cy="142.6" r="0.95" fill="#69b34c"/>
<circle cx="321.3" cy="141.4" r="0.95" fill="#69b34c"/>
<circle cx="328.8" cy="140.6" r="0.95" fill="#69b34c"/>
<circle cx="336.3" cy="139.6" r="0.95" fill="#69b34c"/>
<circle cx="343.8" cy="142.4" r="0.95" fill="#69b34c"/>
<circle cx="351.3" cy="145.6" r="0.95" fill="#69b34c"/>
<circle cx="358.8" cy="152.7" r="0.95" fill="#69b34c"/>
<circle cx="366.3" cy="161.0" r="0.95" fill="#69b34c"/>
<circle cx="373.8" cy="168.1" r="0.95" fill="#69b34c"/>
<circle cx="381.3" cy="171.2" r="0.95" fill="#69b34c"/>
<circle cx="388.8" cy="172.3" r="0.95" fill="#69b34c"/>
<path d="M313.8,140.5V144.6M313.1,140.5h1.4M313.1,144.6h1.4M321.3,138.8V143.9M320.6,138.8h1.4M320.6,143.9h1.4M328.8,139.1V142.0M328.1,139.1h1.4M328.1,142.0h1.4M336.3,138.4V140.8M335.6,138.4h1.4M335.6,140.8h1.4M343.8,140.1V144.8M343.1,140.1h1.4M343.1,144.8h1.4M351.3,143.7V147.4M350.6,143.7h1.4M350.6,147.4h1.4M358.8,150.5V154.8M358.1,150.5h1.4M358.1,154.8h1.4M366.3,159.0V163.0M365.6,159.0h1.4M365.6,163.0h1.4M373.8,167.5V168.6M373.1,167.5h1.4M373.1,168.6h1.4M381.3,170.5V172.0M380.6,170.5h1.4M380.6,172.0h1.4M388.8,171.7V172.9M388.1,171.7h1.4M388.1,172.9h1.4" stroke="#69b34c" stroke-width="0.5" fill="none"/>
<polyline points="313.8,136.6 315.9,136.7 318.0,136.7 320.0,136.7 322.1,136.8 324.2,136.8 326.3,136.9 328.4,137.0 330.5,137.2 332.5,137.4 334.6,137.7 336.7,138.2 338.8,138.8 340.9,139.7 342.9,140.8 345.0,142.2 347.1,144.1 349.2,146.3 351.3,149.0 353.4,152.0 355.4,155.1 357.5,158.2 359.6,161.1 361.7,163.6 363.8,165.8 365.9,167.5 367.9,168.9 370.0,170.0 372.1,170.7 374.2,171.3 376.3,171.7 378.3,172.0 380.4,172.3 382.5,172.4 384.6,172.5 386.7,172.6 388.8,172.7" fill="none" stroke="#f2911e" stroke-width="0.85"/>
<circle cx="313.8" cy="135.5" r="0.95" fill="#f2911e"/>
<circle cx="321.3" cy="136.8" r="0.95" fill="#f2911e"/>
<circle cx="328.8" cy="138.6" r="0.95" fill="#f2911e"/>
<circle cx="336.3" cy="137.6" r="0.95" fill="#f2911e"/>
<circle cx="343.8" cy="140.2" r="0.95" fill="#f2911e"/>
<circle cx="351.3" cy="149.4" r="0.95" fill="#f2911e"/>
<circle cx="358.8" cy="161.6" r="0.95" fill="#f2911e"/>
<circle cx="366.3" cy="169.0" r="0.95" fill="#f2911e"/>
<circle cx="373.8" cy="172.8" r="0.95" fill="#f2911e"/>
<circle cx="381.3" cy="173.1" r="0.95" fill="#f2911e"/>
<circle cx="388.8" cy="173.0" r="0.95" fill="#f2911e"/>
<path d="M313.8,133.4V137.5M313.1,133.4h1.4M313.1,137.5h1.4M321.3,135.2V138.5M320.6,135.2h1.4M320.6,138.5h1.4M328.8,136.9V140.3M328.1,136.9h1.4M328.1,140.3h1.4M336.3,135.5V139.7M335.6,135.5h1.4M335.6,139.7h1.4M343.8,139.1V141.3M343.1,139.1h1.4M343.1,141.3h1.4M351.3,147.8V151.0M350.6,147.8h1.4M350.6,151.0h1.4M358.8,160.2V162.9M358.1,160.2h1.4M358.1,162.9h1.4M366.3,168.7V169.3M365.6,168.7h1.4M365.6,169.3h1.4M373.8,172.1V173.4M373.1,172.1h1.4M373.1,173.4h1.4M381.3,172.8V173.5M380.6,172.8h1.4M380.6,173.5h1.4M388.8,172.4V173.7M388.1,172.4h1.4M388.1,173.7h1.4" stroke="#f2911e" stroke-width="0.5" fill="none"/>
<polyline points="313.8,139.6 315.9,139.6 318.0,139.7 320.0,139.8 322.1,139.9 324.2,140.1 326.3,140.3 328.4,140.5 330.5,140.9 332.5,141.3 334.6,141.8 336.7,142.5 338.8,143.4 340.9,144.4 342.9,145.7 345.0,147.2 347.1,148.9 349.2,150.8 351.3,153.0 353.4,155.2 355.4,157.4 357.5,159.6 359.6,161.7 361.7,163.6 363.8,165.3 365.9,166.7 367.9,168.0 370.0,169.0 372.1,169.8 374.2,170.5 376.3,171.0 378.3,171.4 380.4,171.7 382.5,172.0 384.6,172.2 386.7,172.3 388.8,172.4" fill="none" stroke="#5b2b84" stroke-width="0.85"/>
<circle cx="313.8" cy="140.7" r="0.95" fill="#5b2b84"/>
<circle cx="321.3" cy="139.7" r="0.95" fill="#5b2b84"/>
<circle cx="328.8" cy="139.7" r="0.95" fill="#5b2b84"/>
<circle cx="336.3" cy="143.0" r="0.95" fill="#5b2b84"/>
<circle cx="343.8" cy="146.7" r="0.95" fill="#5b2b84"/>
<circle cx="351.3" cy="151.7" r="0.95" fill="#5b2b84"/>
<circle cx="358.8" cy="161.8" r="0.95" fill="#5b2b84"/>
<circle cx="366.3" cy="167.7" r="0.95" fill="#5b2b84"/>
<circle cx="373.8" cy="170.1" r="0.95" fill="#5b2b84"/>
<circle cx="381.3" cy="173.1" r="0.95" fill="#5b2b84"/>
<circle cx="388.8" cy="172.8" r="0.95" fill="#5b2b84"/>
<path d="M313.8,139.4V142.1M313.1,139.4h1.4M313.1,142.1h1.4M321.3,137.8V141.6M320.6,137.8h1.4M320.6,141.6h1.4M328.8,137.8V141.6M328.1,137.8h1.4M328.1,141.6h1.4M336.3,141.7V144.3M335.6,141.7h1.4M335.6,144.3h1.4M343.8,144.7V148.6M343.1,144.7h1.4M343.1,148.6h1.4M351.3,150.7V152.6M350.6,150.7h1.4M350.6,152.6h1.4M358.8,160.7V162.8M358.1,160.7h1.4M358.1,162.8h1.4M366.3,167.3V168.2M365.6,167.3h1.4M365.6,168.2h1.4M373.8,169.7V170.5M373.1,169.7h1.4M373.1,170.5h1.4M381.3,172.7V173.6M380.6,172.7h1.4M380.6,173.6h1.4M388.8,172.3V173.3M388.1,172.3h1.4M388.1,173.3h1.4" stroke="#5b2b84" stroke-width="0.5" fill="none"/>
<polyline points="313.8,138.9 315.9,139.0 318.0,139.1 320.0,139.2 322.1,139.3 324.2,139.5 326.3,139.8 328.4,140.1 330.5,140.5 332.5,141.1 334.6,141.7 336.7,142.6 338.8,143.6 340.9,144.9 342.9,146.3 345.0,148.0 347.1,150.0 349.2,152.1 351.3,154.3 353.4,156.6 355.4,158.9 357.5,161.1 359.6,163.0 361.7,164.8 363.8,166.3 365.9,167.6 367.9,168.7 370.0,169.6 372.1,170.3 374.2,170.8 376.3,171.3 378.3,171.6 380.4,171.9 382.5,172.1 384.6,172.3 386.7,172.4 388.8,172.5" fill="none" stroke="#b8183f" stroke-width="0.85"/>
<circle cx="313.8" cy="137.7" r="0.95" fill="#b8183f"/>
<circle cx="321.3" cy="139.2" r="0.95" fill="#b8183f"/>
<circle cx="328.8" cy="139.7" r="0.95" fill="#b8183f"/>
<circle cx="336.3" cy="141.3" r="0.95" fill="#b8183f"/>
<circle cx="343.8" cy="145.9" r="0.95" fill="#b8183f"/>
<circle cx="351.3" cy="154.6" r="0.95" fill="#b8183f"/>
<circle cx="358.8" cy="163.4" r="0.95" fill="#b8183f"/>
<circle cx="366.3" cy="169.1" r="0.95" fill="#b8183f"/>
<circle cx="373.8" cy="171.6" r="0.95" fill="#b8183f"/>
<circle cx="381.3" cy="172.4" r="0.95" fill="#b8183f"/>
<circle cx="388.8" cy="173.1" r="0.95" fill="#b8183f"/>
<path d="M313.8,136.0V139.3M313.1,136.0h1.4M313.1,139.3h1.4M321.3,137.7V140.8M320.6,137.7h1.4M320.6,140.8h1.4M328.8,138.9V140.5M328.1,138.9h1.4M328.1,140.5h1.4M336.3,139.5V143.1M335.6,139.5h1.4M335.6,143.1h1.4M343.8,144.1V147.8M343.1,144.1h1.4M343.1,147.8h1.4M351.3,153.4V155.9M350.6,153.4h1.4M350.6,155.9h1.4M358.8,161.8V165.0M358.1,161.8h1.4M358.1,165.0h1.4M366.3,168.8V169.4M365.6,168.8h1.4M365.6,169.4h1.4M373.8,171.2V171.9M373.1,171.2h1.4M373.1,171.9h1.4M381.3,172.2V172.7M380.6,172.2h1.4M380.6,172.7h1.4M388.8,172.8V173.5M388.1,172.8h1.4M388.1,173.5h1.4" stroke="#b8183f" stroke-width="0.5" fill="none"/>
<polyline points="313.8,138.3 315.9,138.4 318.0,138.6 320.0,138.8 322.1,139.0 324.2,139.4 326.3,139.9 328.4,140.5 330.5,141.3 332.5,142.4 334.6,143.7 336.7,145.3 338.8,147.3 340.9,149.5 342.9,152.0 345.0,154.6 347.1,157.3 349.2,159.9 351.3,162.3 353.4,164.4 355.4,166.2 357.5,167.7 359.6,168.9 361.7,169.8 363.8,170.6 365.9,171.1 367.9,171.6 370.0,171.9 372.1,172.1 374.2,172.3 376.3,172.4 378.3,172.5 380.4,172.6 382.5,172.7 384.6,172.7 386.7,172.7 388.8,172.7" fill="none" stroke="#e1258c" stroke-width="0.85"/>
<circle cx="313.8" cy="139.4" r="0.95" fill="#e1258c"/>
<circle cx="321.3" cy="140.2" r="0.95" fill="#e1258c"/>
<circle cx="328.8" cy="140.3" r="0.95" fill="#e1258c"/>
<circle cx="336.3" cy="145.7" r="0.95" fill="#e1258c"/>
<circle cx="343.8" cy="153.4" r="0.95" fill="#e1258c"/>
<circle cx="351.3" cy="161.3" r="0.95" fill="#e1258c"/>
<circle cx="358.8" cy="168.5" r="0.95" fill="#e1258c"/>
<circle cx="366.3" cy="172.4" r="0.95" fill="#e1258c"/>
<circle cx="373.8" cy="172.7" r="0.95" fill="#e1258c"/>
<circle cx="381.3" cy="171.7" r="0.95" fill="#e1258c"/>
<circle cx="388.8" cy="173.1" r="0.95" fill="#e1258c"/>
<path d="M313.8,138.2V140.6M313.1,138.2h1.4M313.1,140.6h1.4M321.3,138.3V142.2M320.6,138.3h1.4M320.6,142.2h1.4M328.8,139.4V141.3M328.1,139.4h1.4M328.1,141.3h1.4M336.3,144.5V146.9M335.6,144.5h1.4M335.6,146.9h1.4M343.8,152.5V154.3M343.1,152.5h1.4M343.1,154.3h1.4M351.3,159.2V163.4M350.6,159.2h1.4M350.6,163.4h1.4M358.8,168.0V169.0M358.1,168.0h1.4M358.1,169.0h1.4M366.3,172.1V172.7M365.6,172.1h1.4M365.6,172.7h1.4M373.8,172.3V173.1M373.1,172.3h1.4M373.1,173.1h1.4M381.3,171.4V172.0M380.6,171.4h1.4M380.6,172.0h1.4M388.8,172.4V173.9M388.1,172.4h1.4M388.1,173.9h1.4" stroke="#e1258c" stroke-width="0.5" fill="none"/>
<polyline points="313.8,135.2 315.9,135.3 318.0,135.3 320.0,135.3 322.1,135.3 324.2,135.4 326.3,135.4 328.4,135.5 330.5,135.7 332.5,135.8 334.6,136.1 336.7,136.4 338.8,136.8 340.9,137.4 342.9,138.2 345.0,139.2 347.1,140.5 349.2,142.2 351.3,144.2 353.4,146.7 355.4,149.4 357.5,152.4 359.6,155.5 361.7,158.5 363.8,161.2 365.9,163.7 367.9,165.8 370.0,167.4 372.1,168.8 374.2,169.8 376.3,170.6 378.3,171.2 380.4,171.6 382.5,171.9 384.6,172.2 386.7,172.3 388.8,172.5" fill="none" stroke="#26418f" stroke-width="0.85"/>
<circle cx="313.8" cy="135.2" r="0.95" fill="#26418f"/>
<circle cx="321.3" cy="135.2" r="0.95" fill="#26418f"/>
<circle cx="328.8" cy="135.5" r="0.95" fill="#26418f"/>
<circle cx="336.3" cy="135.0" r="0.95" fill="#26418f"/>
<circle cx="343.8" cy="139.4" r="0.95" fill="#26418f"/>
<circle cx="351.3" cy="145.4" r="0.95" fill="#26418f"/>
<circle cx="358.8" cy="154.1" r="0.95" fill="#26418f"/>
<circle cx="366.3" cy="164.7" r="0.95" fill="#26418f"/>
<circle cx="373.8" cy="168.5" r="0.95" fill="#26418f"/>
<circle cx="381.3" cy="170.5" r="0.95" fill="#26418f"/>
<circle cx="388.8" cy="171.4" r="0.95" fill="#26418f"/>
<path d="M313.8,133.6V136.7M313.1,133.6h1.4M313.1,136.7h1.4M321.3,133.9V136.5M320.6,133.9h1.4M320.6,136.5h1.4M328.8,132.0V138.9M328.1,132.0h1.4M328.1,138.9h1.4M336.3,132.3V137.8M335.6,132.3h1.4M335.6,137.8h1.4M343.8,137.3V141.4M343.1,137.3h1.4M343.1,141.4h1.4M351.3,142.4V148.4M350.6,142.4h1.4M350.6,148.4h1.4M358.8,151.2V157.1M358.1,151.2h1.4M358.1,157.1h1.4M366.3,163.0V166.4M365.6,163.0h1.4M365.6,166.4h1.4M373.8,167.3V169.7M373.1,167.3h1.4M373.1,169.7h1.4M381.3,169.5V171.6M380.6,169.5h1.4M380.6,171.6h1.4M388.8,170.4V172.4M388.1,170.4h1.4M388.1,172.4h1.4" stroke="#26418f" stroke-width="0.5" fill="none"/>
<line x1="309.60" y1="117.60" x2="309.60" y2="173.30" stroke="#000" stroke-width="1.05" />
<line x1="309.10" y1="172.80" x2="391.00" y2="172.80" stroke="#000" stroke-width="1.05" />
<line x1="307.20" y1="172.80" x2="309.60" y2="172.80" stroke="#000" stroke-width="0.7" />
<text x="303.60" y="175.20" font-size="7.76" stroke="#231f20" stroke-width="0.1" text-anchor="end">0</text>
<line x1="307.20" y1="155.40" x2="309.60" y2="155.40" stroke="#000" stroke-width="0.7" />
<text x="303.60" y="157.80" font-size="7.76" stroke="#231f20" stroke-width="0.1" text-anchor="end">50</text>
<line x1="307.20" y1="138.00" x2="309.60" y2="138.00" stroke="#000" stroke-width="0.7" />
<text x="303.60" y="140.40" font-size="7.76" stroke="#231f20" stroke-width="0.1" text-anchor="end">100</text>
<line x1="307.20" y1="120.60" x2="309.60" y2="120.60" stroke="#000" stroke-width="0.7" />
<text x="303.60" y="123.00" font-size="7.76" stroke="#231f20" stroke-width="0.1" text-anchor="end">150</text>
<line x1="313.80" y1="172.80" x2="313.80" y2="175.00" stroke="#000" stroke-width="0.7" />
<text x="313.80" y="185.70" font-size="7.76" stroke="#231f20" stroke-width="0.1" text-anchor="middle">0.1</text>
<line x1="338.70" y1="172.80" x2="338.70" y2="175.00" stroke="#000" stroke-width="0.7" />
<text x="338.70" y="185.70" font-size="7.76" stroke="#231f20" stroke-width="0.1" text-anchor="middle">1</text>
<line x1="363.60" y1="172.80" x2="363.60" y2="175.00" stroke="#000" stroke-width="0.7" />
<text x="363.60" y="185.70" font-size="7.76" stroke="#231f20" stroke-width="0.1" text-anchor="middle">10</text>
<line x1="388.50" y1="172.80" x2="388.50" y2="175.00" stroke="#000" stroke-width="0.7" />
<text x="388.50" y="185.70" font-size="7.76" stroke="#231f20" stroke-width="0.1" text-anchor="middle">100</text>
<line x1="311.39" y1="172.80" x2="311.39" y2="174.00" stroke="#000" stroke-width="0.45" />
<line x1="312.66" y1="172.80" x2="312.66" y2="174.00" stroke="#000" stroke-width="0.45" />
<line x1="321.30" y1="172.80" x2="321.30" y2="174.00" stroke="#000" stroke-width="0.45" />
<line x1="325.68" y1="172.80" x2="325.68" y2="174.00" stroke="#000" stroke-width="0.45" />
<line x1="328.79" y1="172.80" x2="328.79" y2="174.00" stroke="#000" stroke-width="0.45" />
<line x1="331.20" y1="172.80" x2="331.20" y2="174.00" stroke="#000" stroke-width="0.45" />
<line x1="333.18" y1="172.80" x2="333.18" y2="174.00" stroke="#000" stroke-width="0.45" />
<line x1="334.84" y1="172.80" x2="334.84" y2="174.00" stroke="#000" stroke-width="0.45" />
<line x1="336.29" y1="172.80" x2="336.29" y2="174.00" stroke="#000" stroke-width="0.45" />
<line x1="337.56" y1="172.80" x2="337.56" y2="174.00" stroke="#000" stroke-width="0.45" />
<line x1="346.20" y1="172.80" x2="346.20" y2="174.00" stroke="#000" stroke-width="0.45" />
<line x1="350.58" y1="172.80" x2="350.58" y2="174.00" stroke="#000" stroke-width="0.45" />
<line x1="353.69" y1="172.80" x2="353.69" y2="174.00" stroke="#000" stroke-width="0.45" />
<line x1="356.10" y1="172.80" x2="356.10" y2="174.00" stroke="#000" stroke-width="0.45" />
<line x1="358.08" y1="172.80" x2="358.08" y2="174.00" stroke="#000" stroke-width="0.45" />
<line x1="359.74" y1="172.80" x2="359.74" y2="174.00" stroke="#000" stroke-width="0.45" />
<line x1="361.19" y1="172.80" x2="361.19" y2="174.00" stroke="#000" stroke-width="0.45" />
<line x1="362.46" y1="172.80" x2="362.46" y2="174.00" stroke="#000" stroke-width="0.45" />
<line x1="371.10" y1="172.80" x2="371.10" y2="174.00" stroke="#000" stroke-width="0.45" />
<line x1="375.48" y1="172.80" x2="375.48" y2="174.00" stroke="#000" stroke-width="0.45" />
<line x1="378.59" y1="172.80" x2="378.59" y2="174.00" stroke="#000" stroke-width="0.45" />
<line x1="381.00" y1="172.80" x2="381.00" y2="174.00" stroke="#000" stroke-width="0.45" />
<line x1="382.98" y1="172.80" x2="382.98" y2="174.00" stroke="#000" stroke-width="0.45" />
<line x1="384.64" y1="172.80" x2="384.64" y2="174.00" stroke="#000" stroke-width="0.45" />
<line x1="386.09" y1="172.80" x2="386.09" y2="174.00" stroke="#000" stroke-width="0.45" />
<line x1="387.36" y1="172.80" x2="387.36" y2="174.00" stroke="#000" stroke-width="0.45" />
<text x="350.50" y="112.30" font-size="8.66" textLength="65.70" lengthAdjust="spacingAndGlyphs" stroke="#231f20" stroke-width="0.1" text-anchor="middle">Afatinib (EGFR)</text>
<polyline points="425.8,137.0 427.9,137.0 429.9,137.0 432.0,137.0 434.0,137.0 436.1,137.0 438.1,137.0 440.2,137.1 442.3,137.1 444.3,137.2 446.4,137.3 448.4,137.4 450.5,137.6 452.5,137.9 454.6,138.3 456.7,138.8 458.7,139.5 460.8,140.5 462.8,141.8 464.9,143.4 466.9,145.5 469.0,147.9 471.1,150.7 473.1,153.7 475.2,156.8 477.2,159.8 479.3,162.5 481.3,164.9 483.4,166.8 485.5,168.3 487.5,169.5 489.6,170.4 491.6,171.1 493.7,171.6 495.7,171.9 497.8,172.2 499.9,172.4" fill="none" stroke="#9a93d8" stroke-width="0.85"/>
<circle cx="425.8" cy="137.9" r="0.95" fill="#9a93d8"/>
<circle cx="433.2" cy="137.5" r="0.95" fill="#9a93d8"/>
<circle cx="440.6" cy="138.7" r="0.95" fill="#9a93d8"/>
<circle cx="448.0" cy="138.2" r="0.95" fill="#9a93d8"/>
<circle cx="455.4" cy="136.9" r="0.95" fill="#9a93d8"/>
<circle cx="462.8" cy="140.3" r="0.95" fill="#9a93d8"/>
<circle cx="470.2" cy="148.0" r="0.95" fill="#9a93d8"/>
<circle cx="477.6" cy="161.3" r="0.95" fill="#9a93d8"/>
<circle cx="485.0" cy="169.1" r="0.95" fill="#9a93d8"/>
<circle cx="492.4" cy="170.9" r="0.95" fill="#9a93d8"/>
<circle cx="499.9" cy="171.2" r="0.95" fill="#9a93d8"/>
<path d="M425.8,136.5V139.4M425.1,136.5h1.4M425.1,139.4h1.4M433.2,136.7V138.3M432.5,136.7h1.4M432.5,138.3h1.4M440.6,137.6V139.8M439.9,137.6h1.4M439.9,139.8h1.4M448.0,136.6V139.9M447.3,136.6h1.4M447.3,139.9h1.4M455.4,135.6V138.2M454.7,135.6h1.4M454.7,138.2h1.4M462.8,138.2V142.3M462.1,138.2h1.4M462.1,142.3h1.4M470.2,146.7V149.2M469.5,146.7h1.4M469.5,149.2h1.4M477.6,160.3V162.4M476.9,160.3h1.4M476.9,162.4h1.4M485.0,168.8V169.5M484.3,168.8h1.4M484.3,169.5h1.4M492.4,170.2V171.5M491.7,170.2h1.4M491.7,171.5h1.4M499.9,170.7V171.7M499.2,170.7h1.4M499.2,171.7h1.4" stroke="#9a93d8" stroke-width="0.5" fill="none"/>
<polyline points="425.8,135.3 427.9,135.3 429.9,135.3 432.0,135.3 434.0,135.4 436.1,135.4 438.1,135.5 440.2,135.6 442.3,135.7 444.3,135.9 446.4,136.1 448.4,136.4 450.5,136.8 452.5,137.4 454.6,138.1 456.7,139.0 458.7,140.2 460.8,141.7 462.8,143.6 464.9,145.7 466.9,148.2 469.0,151.0 471.1,153.8 473.1,156.7 475.2,159.4 477.2,162.0 479.3,164.2 481.3,166.1 483.4,167.6 485.5,168.8 487.5,169.8 489.6,170.5 491.6,171.1 493.7,171.5 495.7,171.9 497.8,172.1 499.9,172.3" fill="none" stroke="#b7cb8f" stroke-width="0.85"/>
<circle cx="425.8" cy="134.6" r="0.95" fill="#b7cb8f"/>
<circle cx="433.2" cy="137.1" r="0.95" fill="#b7cb8f"/>
<circle cx="440.6" cy="133.9" r="0.95" fill="#b7cb8f"/>
<circle cx="448.0" cy="135.3" r="0.95" fill="#b7cb8f"/>
<circle cx="455.4" cy="139.8" r="0.95" fill="#b7cb8f"/>
<circle cx="462.8" cy="144.3" r="0.95" fill="#b7cb8f"/>
<circle cx="470.2" cy="150.7" r="0.95" fill="#b7cb8f"/>
<circle cx="477.6" cy="162.8" r="0.95" fill="#b7cb8f"/>
<circle cx="485.0" cy="167.7" r="0.95" fill="#b7cb8f"/>
<circle cx="492.4" cy="172.9" r="0.95" fill="#b7cb8f"/>
<circle cx="499.9" cy="170.6" r="0.95" fill="#b7cb8f"/>
<path d="M425.8,132.2V137.0M425.1,132.2h1.4M425.1,137.0h1.4M433.2,134.9V139.2M432.5,134.9h1.4M432.5,139.2h1.4M440.6,131.5V136.3M439.9,131.5h1.4M439.9,136.3h1.4M448.0,133.5V137.1M447.3,133.5h1.4M447.3,137.1h1.4M455.4,137.4V142.2M454.7,137.4h1.4M454.7,142.2h1.4M462.8,141.8V146.7M462.1,141.8h1.4M462.1,146.7h1.4M470.2,149.0V152.4M469.5,149.0h1.4M469.5,152.4h1.4M477.6,160.2V165.5M476.9,160.2h1.4M476.9,165.5h1.4M485.0,167.2V168.1M484.3,167.2h1.4M484.3,168.1h1.4M492.4,172.4V173.3M491.7,172.4h1.4M491.7,173.3h1.4M499.9,169.8V171.5M499.2,169.8h1.4M499.2,171.5h1.4" stroke="#b7cb8f" stroke-width="0.5" fill="none"/>
<polyline points="425.8,135.2 427.9,135.2 429.9,135.2 432.0,135.3 434.0,135.3 436.1,135.3 438.1,135.3 440.2,135.4 442.3,135.5 444.3,135.6 446.4,135.7 448.4,135.9 450.5,136.2 452.5,136.6 454.6,137.1 456.7,137.9 458.7,138.9 460.8,140.2 462.8,141.9 464.9,144.0 466.9,146.5 469.0,149.5 471.1,152.6 473.1,155.9 475.2,159.0 477.2,161.9 479.3,164.4 481.3,166.4 483.4,168.0 485.5,169.3 487.5,170.3 489.6,171.0 491.6,171.5 493.7,171.9 495.7,172.1 497.8,172.3 499.9,172.5" fill="none" stroke="#69b34c" stroke-width="0.85"/>
<circle cx="425.8" cy="137.2" r="0.95" fill="#69b34c"/>
<circle cx="433.2" cy="132.6" r="0.95" fill="#69b34c"/>
<circle cx="440.6" cy="136.2" r="0.95" fill="#69b34c"/>
<circle cx="448.0" cy="137.9" r="0.95" fill="#69b34c"/>
<circle cx="455.4" cy="134.8" r="0.95" fill="#69b34c"/>
<circle cx="462.8" cy="141.7" r="0.95" fill="#69b34c"/>
<circle cx="470.2" cy="151.7" r="0.95" fill="#69b34c"/>
<circle cx="477.6" cy="160.6" r="0.95" fill="#69b34c"/>
<circle cx="485.0" cy="170.5" r="0.95" fill="#69b34c"/>
<circle cx="492.4" cy="173.1" r="0.95" fill="#69b34c"/>
<circle cx="499.9" cy="173.1" r="0.95" fill="#69b34c"/>
<path d="M425.8,130.4V144.0M425.1,130.4h1.4M425.1,144.0h1.4M433.2,126.6V138.5M432.5,126.6h1.4M432.5,138.5h1.4M440.6,130.8V141.7M439.9,130.8h1.4M439.9,141.7h1.4M448.0,135.2V140.7M447.3,135.2h1.4M447.3,140.7h1.4M455.4,128.9V140.7M454.7,128.9h1.4M454.7,140.7h1.4M462.8,134.4V149.1M462.1,134.4h1.4M462.1,149.1h1.4M470.2,144.7V158.7M469.5,144.7h1.4M469.5,158.7h1.4M477.6,156.9V164.3M476.9,156.9h1.4M476.9,164.3h1.4M485.0,169.0V171.9M484.3,169.0h1.4M484.3,171.9h1.4M492.4,171.1V175.1M491.7,171.1h1.4M491.7,175.1h1.4M499.9,171.5V174.8M499.2,171.5h1.4M499.2,174.8h1.4" stroke="#69b34c" stroke-width="0.5" fill="none"/>
<polyline points="425.8,137.0 427.9,137.0 429.9,137.0 432.0,137.0 434.0,137.0 436.1,137.0 438.1,137.1 440.2,137.1 442.3,137.2 444.3,137.3 446.4,137.4 448.4,137.6 450.5,137.8 452.5,138.1 454.6,138.6 456.7,139.2 458.7,140.1 460.8,141.2 462.8,142.7 464.9,144.6 466.9,146.9 469.0,149.6 471.1,152.5 473.1,155.6 475.2,158.7 477.2,161.5 479.3,164.0 481.3,166.1 483.4,167.8 485.5,169.1 487.5,170.1 489.6,170.9 491.6,171.4 493.7,171.8 495.7,172.1 497.8,172.3 499.9,172.4" fill="none" stroke="#f2911e" stroke-width="0.85"/>
<circle cx="425.8" cy="138.3" r="0.95" fill="#f2911e"/>
<circle cx="433.2" cy="137.5" r="0.95" fill="#f2911e"/>
<circle cx="440.6" cy="136.8" r="0.95" fill="#f2911e"/>
<circle cx="448.0" cy="137.8" r="0.95" fill="#f2911e"/>
<circle cx="455.4" cy="138.8" r="0.95" fill="#f2911e"/>
<circle cx="462.8" cy="142.7" r="0.95" fill="#f2911e"/>
<circle cx="470.2" cy="151.5" r="0.95" fill="#f2911e"/>
<circle cx="477.6" cy="163.8" r="0.95" fill="#f2911e"/>
<circle cx="485.0" cy="170.0" r="0.95" fill="#f2911e"/>
<circle cx="492.4" cy="170.8" r="0.95" fill="#f2911e"/>
<circle cx="499.9" cy="173.0" r="0.95" fill="#f2911e"/>
<path d="M425.8,136.3V140.2M425.1,136.3h1.4M425.1,140.2h1.4M433.2,136.2V138.9M432.5,136.2h1.4M432.5,138.9h1.4M440.6,134.9V138.8M439.9,134.9h1.4M439.9,138.8h1.4M448.0,135.8V139.8M447.3,135.8h1.4M447.3,139.8h1.4M455.4,137.4V140.3M454.7,137.4h1.4M454.7,140.3h1.4M462.8,141.9V143.4M462.1,141.9h1.4M462.1,143.4h1.4M470.2,150.6V152.5M469.5,150.6h1.4M469.5,152.5h1.4M477.6,161.9V165.6M476.9,161.9h1.4M476.9,165.6h1.4M485.0,169.5V170.5M484.3,169.5h1.4M484.3,170.5h1.4M492.4,170.3V171.3M491.7,170.3h1.4M491.7,171.3h1.4M499.9,172.5V173.5M499.2,172.5h1.4M499.2,173.5h1.4" stroke="#f2911e" stroke-width="0.5" fill="none"/>
<polyline points="425.8,138.0 427.9,138.1 429.9,138.1 432.0,138.1 434.0,138.1 436.1,138.2 438.1,138.2 440.2,138.3 442.3,138.5 444.3,138.6 446.4,138.8 448.4,139.1 450.5,139.5 452.5,140.0 454.6,140.7 456.7,141.5 458.7,142.7 460.8,144.0 462.8,145.7 464.9,147.7 466.9,150.0 469.0,152.6 471.1,155.2 473.1,157.9 475.2,160.4 477.2,162.8 479.3,164.8 481.3,166.6 483.4,168.0 485.5,169.1 487.5,170.0 489.6,170.7 491.6,171.2 493.7,171.6 495.7,171.9 497.8,172.2 499.9,172.3" fill="none" stroke="#5b2b84" stroke-width="0.85"/>
<circle cx="425.8" cy="137.8" r="0.95" fill="#5b2b84"/>
<circle cx="433.2" cy="139.5" r="0.95" fill="#5b2b84"/>
<circle cx="440.6" cy="139.2" r="0.95" fill="#5b2b84"/>
<circle cx="448.0" cy="138.1" r="0.95" fill="#5b2b84"/>
<circle cx="455.4" cy="140.8" r="0.95" fill="#5b2b84"/>
<circle cx="462.8" cy="144.3" r="0.95" fill="#5b2b84"/>
<circle cx="470.2" cy="153.8" r="0.95" fill="#5b2b84"/>
<circle cx="477.6" cy="163.2" r="0.95" fill="#5b2b84"/>
<circle cx="485.0" cy="169.1" r="0.95" fill="#5b2b84"/>
<circle cx="492.4" cy="171.5" r="0.95" fill="#5b2b84"/>
<circle cx="499.9" cy="171.6" r="0.95" fill="#5b2b84"/>
<path d="M425.8,136.1V139.6M425.1,136.1h1.4M425.1,139.6h1.4M433.2,138.0V141.0M432.5,138.0h1.4M432.5,141.0h1.4M440.6,138.1V140.3M439.9,138.1h1.4M439.9,140.3h1.4M448.0,136.7V139.5M447.3,136.7h1.4M447.3,139.5h1.4M455.4,139.0V142.5M454.7,139.0h1.4M454.7,142.5h1.4M462.8,143.0V145.6M462.1,143.0h1.4M462.1,145.6h1.4M470.2,152.3V155.2M469.5,152.3h1.4M469.5,155.2h1.4M477.6,161.5V164.8M476.9,161.5h1.4M476.9,164.8h1.4M485.0,168.6V169.6M484.3,168.6h1.4M484.3,169.6h1.4M492.4,170.8V172.2M491.7,170.8h1.4M491.7,172.2h1.4M499.9,171.0V172.3M499.2,171.0h1.4M499.2,172.3h1.4" stroke="#5b2b84" stroke-width="0.5" fill="none"/>
<polyline points="425.8,137.4 427.9,137.4 429.9,137.5 432.0,137.5 434.0,137.6 436.1,137.7 438.1,137.9 440.2,138.0 442.3,138.3 444.3,138.6 446.4,139.0 448.4,139.6 450.5,140.3 452.5,141.1 454.6,142.2 456.7,143.6 458.7,145.2 460.8,147.1 462.8,149.3 464.9,151.7 466.9,154.2 469.0,156.8 471.1,159.3 473.1,161.6 475.2,163.7 477.2,165.5 479.3,167.0 481.3,168.3 483.4,169.3 485.5,170.1 487.5,170.8 489.6,171.2 491.6,171.6 493.7,171.9 495.7,172.1 497.8,172.3 499.9,172.4" fill="none" stroke="#b8183f" stroke-width="0.85"/>
<circle cx="425.8" cy="135.9" r="0.95" fill="#b8183f"/>
<circle cx="433.2" cy="137.4" r="0.95" fill="#b8183f"/>
<circle cx="440.6" cy="136.9" r="0.95" fill="#b8183f"/>
<circle cx="448.0" cy="140.8" r="0.95" fill="#b8183f"/>
<circle cx="455.4" cy="144.2" r="0.95" fill="#b8183f"/>
<circle cx="462.8" cy="150.8" r="0.95" fill="#b8183f"/>
<circle cx="470.2" cy="157.3" r="0.95" fill="#b8183f"/>
<circle cx="477.6" cy="167.0" r="0.95" fill="#b8183f"/>
<circle cx="485.0" cy="169.4" r="0.95" fill="#b8183f"/>
<circle cx="492.4" cy="170.4" r="0.95" fill="#b8183f"/>
<circle cx="499.9" cy="173.1" r="0.95" fill="#b8183f"/>
<path d="M425.8,134.8V136.9M425.1,134.8h1.4M425.1,136.9h1.4M433.2,135.4V139.4M432.5,135.4h1.4M432.5,139.4h1.4M440.6,136.0V137.8M439.9,136.0h1.4M439.9,137.8h1.4M448.0,139.4V142.1M447.3,139.4h1.4M447.3,142.1h1.4M455.4,143.2V145.3M454.7,143.2h1.4M454.7,145.3h1.4M462.8,149.2V152.4M462.1,149.2h1.4M462.1,152.4h1.4M470.2,155.4V159.3M469.5,155.4h1.4M469.5,159.3h1.4M477.6,165.3V168.7M476.9,165.3h1.4M476.9,168.7h1.4M485.0,169.1V169.7M484.3,169.1h1.4M484.3,169.7h1.4M492.4,169.7V171.1M491.7,169.7h1.4M491.7,171.1h1.4M499.9,172.4V173.9M499.2,172.4h1.4M499.2,173.9h1.4" stroke="#b8183f" stroke-width="0.5" fill="none"/>
<polyline points="425.8,138.0 427.9,138.0 429.9,138.0 432.0,138.1 434.0,138.1 436.1,138.1 438.1,138.2 440.2,138.3 442.3,138.5 444.3,138.8 446.4,139.1 448.4,139.7 450.5,140.5 452.5,141.7 454.6,143.4 456.7,145.6 458.7,148.4 460.8,151.8 462.8,155.4 464.9,159.0 466.9,162.4 469.0,165.2 471.1,167.4 473.1,169.1 475.2,170.3 477.2,171.1 479.3,171.7 481.3,172.0 483.4,172.3 485.5,172.5 487.5,172.6 489.6,172.7 491.6,172.7 493.7,172.7 495.7,172.8 497.8,172.8 499.9,172.8" fill="none" stroke="#e1258c" stroke-width="0.85"/>
<circle cx="425.8" cy="138.3" r="0.95" fill="#e1258c"/>
<circle cx="433.2" cy="136.7" r="0.95" fill="#e1258c"/>
<circle cx="440.6" cy="139.3" r="0.95" fill="#e1258c"/>
<circle cx="448.0" cy="139.5" r="0.95" fill="#e1258c"/>
<circle cx="455.4" cy="145.1" r="0.95" fill="#e1258c"/>
<circle cx="462.8" cy="154.8" r="0.95" fill="#e1258c"/>
<circle cx="470.2" cy="166.4" r="0.95" fill="#e1258c"/>
<circle cx="477.6" cy="172.6" r="0.95" fill="#e1258c"/>
<circle cx="485.0" cy="172.1" r="0.95" fill="#e1258c"/>
<circle cx="492.4" cy="173.1" r="0.95" fill="#e1258c"/>
<circle cx="499.9" cy="172.0" r="0.95" fill="#e1258c"/>
<path d="M425.8,136.9V139.7M425.1,136.9h1.4M425.1,139.7h1.4M433.2,134.9V138.6M432.5,134.9h1.4M432.5,138.6h1.4M440.6,138.0V140.6M439.9,138.0h1.4M439.9,140.6h1.4M448.0,138.3V140.7M447.3,138.3h1.4M447.3,140.7h1.4M455.4,143.9V146.2M454.7,143.9h1.4M454.7,146.2h1.4M462.8,154.0V155.5M462.1,154.0h1.4M462.1,155.5h1.4M470.2,165.1V167.8M469.5,165.1h1.4M469.5,167.8h1.4M477.6,172.2V173.0M476.9,172.2h1.4M476.9,173.0h1.4M485.0,171.6V172.6M484.3,171.6h1.4M484.3,172.6h1.4M492.4,172.4V173.9M491.7,172.4h1.4M491.7,173.9h1.4M499.9,171.3V172.7M499.2,171.3h1.4M499.2,172.7h1.4" stroke="#e1258c" stroke-width="0.5" fill="none"/>
<polyline points="425.8,142.2 427.9,142.2 429.9,142.2 432.0,142.2 434.0,142.2 436.1,142.2 438.1,142.2 440.2,142.2 442.3,142.2 444.3,142.3 446.4,142.3 448.4,142.4 450.5,142.5 452.5,142.6 454.6,142.8 456.7,143.1 458.7,143.6 460.8,144.2 462.8,145.0 464.9,146.2 466.9,147.7 469.0,149.7 471.1,152.1 473.1,154.8 475.2,157.7 477.2,160.6 479.3,163.3 481.3,165.6 483.4,167.5 485.5,169.0 487.5,170.1 489.6,170.9 491.6,171.5 493.7,171.9 495.7,172.2 497.8,172.4 499.9,172.5" fill="none" stroke="#26418f" stroke-width="0.85"/>
<circle cx="425.8" cy="143.6" r="0.95" fill="#26418f"/>
<circle cx="433.2" cy="143.8" r="0.95" fill="#26418f"/>
<circle cx="440.6" cy="143.0" r="0.95" fill="#26418f"/>
<circle cx="448.0" cy="142.6" r="0.95" fill="#26418f"/>
<circle cx="455.4" cy="141.8" r="0.95" fill="#26418f"/>
<circle cx="462.8" cy="146.2" r="0.95" fill="#26418f"/>
<circle cx="470.2" cy="150.8" r="0.95" fill="#26418f"/>
<circle cx="477.6" cy="162.6" r="0.95" fill="#26418f"/>
<circle cx="485.0" cy="168.1" r="0.95" fill="#26418f"/>
<circle cx="492.4" cy="173.1" r="0.95" fill="#26418f"/>
<circle cx="499.9" cy="172.0" r="0.95" fill="#26418f"/>
<path d="M425.8,142.1V145.0M425.1,142.1h1.4M425.1,145.0h1.4M433.2,141.4V146.2M432.5,141.4h1.4M432.5,146.2h1.4M440.6,141.8V144.2M439.9,141.8h1.4M439.9,144.2h1.4M448.0,140.0V145.3M447.3,140.0h1.4M447.3,145.3h1.4M455.4,140.4V143.3M454.7,140.4h1.4M454.7,143.3h1.4M462.8,143.6V148.9M462.1,143.6h1.4M462.1,148.9h1.4M470.2,148.6V153.1M469.5,148.6h1.4M469.5,153.1h1.4M477.6,161.5V163.7M476.9,161.5h1.4M476.9,163.7h1.4M485.0,167.5V168.7M484.3,167.5h1.4M484.3,168.7h1.4M492.4,172.2V174.1M491.7,172.2h1.4M491.7,174.1h1.4M499.9,171.2V172.9M499.2,171.2h1.4M499.2,172.9h1.4" stroke="#26418f" stroke-width="0.5" fill="none"/>
<line x1="421.20" y1="117.60" x2="421.20" y2="173.30" stroke="#000" stroke-width="1.05" />
<line x1="420.70" y1="172.80" x2="502.00" y2="172.80" stroke="#000" stroke-width="1.05" />
<line x1="418.80" y1="172.80" x2="421.20" y2="172.80" stroke="#000" stroke-width="0.7" />
<text x="415.20" y="175.20" font-size="7.76" stroke="#231f20" stroke-width="0.1" text-anchor="end">0</text>
<line x1="418.80" y1="155.40" x2="421.20" y2="155.40" stroke="#000" stroke-width="0.7" />
<text x="415.20" y="157.80" font-size="7.76" stroke="#231f20" stroke-width="0.1" text-anchor="end">50</text>
<line x1="418.80" y1="138.00" x2="421.20" y2="138.00" stroke="#000" stroke-width="0.7" />
<text x="415.20" y="140.40" font-size="7.76" stroke="#231f20" stroke-width="0.1" text-anchor="end">100</text>
<line x1="418.80" y1="120.60" x2="421.20" y2="120.60" stroke="#000" stroke-width="0.7" />
<text x="415.20" y="123.00" font-size="7.76" stroke="#231f20" stroke-width="0.1" text-anchor="end">150</text>
<line x1="425.80" y1="172.80" x2="425.80" y2="175.00" stroke="#000" stroke-width="0.7" />
<text x="425.80" y="185.70" font-size="7.76" stroke="#231f20" stroke-width="0.1" text-anchor="middle">0.1</text>
<line x1="450.40" y1="172.80" x2="450.40" y2="175.00" stroke="#000" stroke-width="0.7" />
<text x="450.40" y="185.70" font-size="7.76" stroke="#231f20" stroke-width="0.1" text-anchor="middle">1</text>
<line x1="475.00" y1="172.80" x2="475.00" y2="175.00" stroke="#000" stroke-width="0.7" />
<text x="475.00" y="185.70" font-size="7.76" stroke="#231f20" stroke-width="0.1" text-anchor="middle">10</text>
<line x1="499.60" y1="172.80" x2="499.60" y2="175.00" stroke="#000" stroke-width="0.7" />
<text x="499.60" y="185.70" font-size="7.76" stroke="#231f20" stroke-width="0.1" text-anchor="middle">100</text>
<line x1="423.42" y1="172.80" x2="423.42" y2="174.00" stroke="#000" stroke-width="0.45" />
<line x1="424.67" y1="172.80" x2="424.67" y2="174.00" stroke="#000" stroke-width="0.45" />
<line x1="433.21" y1="172.80" x2="433.21" y2="174.00" stroke="#000" stroke-width="0.45" />
<line x1="437.54" y1="172.80" x2="437.54" y2="174.00" stroke="#000" stroke-width="0.45" />
<line x1="440.61" y1="172.80" x2="440.61" y2="174.00" stroke="#000" stroke-width="0.45" />
<line x1="442.99" y1="172.80" x2="442.99" y2="174.00" stroke="#000" stroke-width="0.45" />
<line x1="444.94" y1="172.80" x2="444.94" y2="174.00" stroke="#000" stroke-width="0.45" />
<line x1="446.59" y1="172.80" x2="446.59" y2="174.00" stroke="#000" stroke-width="0.45" />
<line x1="448.02" y1="172.80" x2="448.02" y2="174.00" stroke="#000" stroke-width="0.45" />
<line x1="449.27" y1="172.80" x2="449.27" y2="174.00" stroke="#000" stroke-width="0.45" />
<line x1="457.81" y1="172.80" x2="457.81" y2="174.00" stroke="#000" stroke-width="0.45" />
<line x1="462.14" y1="172.80" x2="462.14" y2="174.00" stroke="#000" stroke-width="0.45" />
<line x1="465.21" y1="172.80" x2="465.21" y2="174.00" stroke="#000" stroke-width="0.45" />
<line x1="467.59" y1="172.80" x2="467.59" y2="174.00" stroke="#000" stroke-width="0.45" />
<line x1="469.54" y1="172.80" x2="469.54" y2="174.00" stroke="#000" stroke-width="0.45" />
<line x1="471.19" y1="172.80" x2="471.19" y2="174.00" stroke="#000" stroke-width="0.45" />
<line x1="472.62" y1="172.80" x2="472.62" y2="174.00" stroke="#000" stroke-width="0.45" />
<line x1="473.87" y1="172.80" x2="473.87" y2="174.00" stroke="#000" stroke-width="0.45" />
<line x1="482.41" y1="172.80" x2="482.41" y2="174.00" stroke="#000" stroke-width="0.45" />
<line x1="486.74" y1="172.80" x2="486.74" y2="174.00" stroke="#000" stroke-width="0.45" />
<line x1="489.81" y1="172.80" x2="489.81" y2="174.00" stroke="#000" stroke-width="0.45" />
<line x1="492.19" y1="172.80" x2="492.19" y2="174.00" stroke="#000" stroke-width="0.45" />
<line x1="494.14" y1="172.80" x2="494.14" y2="174.00" stroke="#000" stroke-width="0.45" />
<line x1="495.79" y1="172.80" x2="495.79" y2="174.00" stroke="#000" stroke-width="0.45" />
<line x1="497.22" y1="172.80" x2="497.22" y2="174.00" stroke="#000" stroke-width="0.45" />
<line x1="498.47" y1="172.80" x2="498.47" y2="174.00" stroke="#000" stroke-width="0.45" />
<text x="462.30" y="112.30" font-size="8.66" textLength="72.95" lengthAdjust="spacingAndGlyphs" stroke="#231f20" stroke-width="0.1" text-anchor="middle">AZ3146 (MPS1K)</text>
<polyline points="313.8,229.1 315.9,229.1 317.9,229.1 320.0,229.1 322.0,229.1 324.1,229.1 326.1,229.1 328.2,229.1 330.3,229.1 332.3,229.2 334.4,229.2 336.4,229.2 338.5,229.3 340.5,229.3 342.6,229.4 344.7,229.5 346.7,229.6 348.8,229.8 350.8,230.0 352.9,230.3 354.9,230.6 357.0,231.0 359.1,231.5 361.1,232.1 363.2,232.8 365.2,233.7 367.3,234.7 369.3,235.9 371.4,237.3 373.5,238.7 375.5,240.3 377.6,241.9 379.6,243.5 381.7,245.1 383.7,246.6 385.8,248.0 387.9,249.2" fill="none" stroke="#9a93d8" stroke-width="0.85"/>
<circle cx="313.8" cy="230.5" r="0.95" fill="#9a93d8"/>
<circle cx="321.2" cy="230.6" r="0.95" fill="#9a93d8"/>
<circle cx="328.6" cy="229.3" r="0.95" fill="#9a93d8"/>
<circle cx="336.0" cy="229.0" r="0.95" fill="#9a93d8"/>
<circle cx="343.4" cy="230.3" r="0.95" fill="#9a93d8"/>
<circle cx="350.8" cy="229.9" r="0.95" fill="#9a93d8"/>
<circle cx="358.2" cy="232.6" r="0.95" fill="#9a93d8"/>
<circle cx="365.6" cy="235.5" r="0.95" fill="#9a93d8"/>
<circle cx="373.0" cy="239.1" r="0.95" fill="#9a93d8"/>
<circle cx="380.4" cy="243.3" r="0.95" fill="#9a93d8"/>
<circle cx="387.9" cy="249.2" r="0.95" fill="#9a93d8"/>
<path d="M313.8,228.6V232.4M313.1,228.6h1.4M313.1,232.4h1.4M321.2,228.7V232.5M320.5,228.7h1.4M320.5,232.5h1.4M328.6,228.1V230.5M327.9,228.1h1.4M327.9,230.5h1.4M336.0,227.0V231.0M335.3,227.0h1.4M335.3,231.0h1.4M343.4,229.4V231.2M342.7,229.4h1.4M342.7,231.2h1.4M350.8,228.9V231.0M350.1,228.9h1.4M350.1,231.0h1.4M358.2,231.7V233.6M357.5,231.7h1.4M357.5,233.6h1.4M365.6,234.5V236.5M364.9,234.5h1.4M364.9,236.5h1.4M373.0,237.9V240.2M372.3,237.9h1.4M372.3,240.2h1.4M380.4,242.2V244.4M379.7,242.2h1.4M379.7,244.4h1.4M387.9,248.2V250.2M387.2,248.2h1.4M387.2,250.2h1.4" stroke="#9a93d8" stroke-width="0.5" fill="none"/>
<polyline points="313.8,227.3 315.9,227.3 317.9,227.3 320.0,227.3 322.0,227.3 324.1,227.3 326.1,227.4 328.2,227.4 330.3,227.4 332.3,227.4 334.4,227.4 336.4,227.4 338.5,227.5 340.5,227.5 342.6,227.6 344.7,227.7 346.7,227.9 348.8,228.0 350.8,228.3 352.9,228.6 354.9,228.9 357.0,229.5 359.1,230.1 361.1,230.9 363.2,231.9 365.2,233.1 367.3,234.6 369.3,236.2 371.4,238.0 373.5,240.0 375.5,242.0 377.6,244.0 379.6,245.8 381.7,247.5 383.7,249.0 385.8,250.3 387.9,251.3" fill="none" stroke="#b7cb8f" stroke-width="0.85"/>
<circle cx="313.8" cy="227.9" r="0.95" fill="#b7cb8f"/>
<circle cx="321.2" cy="228.2" r="0.95" fill="#b7cb8f"/>
<circle cx="328.6" cy="226.6" r="0.95" fill="#b7cb8f"/>
<circle cx="336.0" cy="228.5" r="0.95" fill="#b7cb8f"/>
<circle cx="343.4" cy="226.1" r="0.95" fill="#b7cb8f"/>
<circle cx="350.8" cy="227.1" r="0.95" fill="#b7cb8f"/>
<circle cx="358.2" cy="229.8" r="0.95" fill="#b7cb8f"/>
<circle cx="365.6" cy="233.8" r="0.95" fill="#b7cb8f"/>
<circle cx="373.0" cy="238.9" r="0.95" fill="#b7cb8f"/>
<circle cx="380.4" cy="247.1" r="0.95" fill="#b7cb8f"/>
<circle cx="387.9" cy="250.6" r="0.95" fill="#b7cb8f"/>
<path d="M313.8,226.9V228.9M313.1,226.9h1.4M313.1,228.9h1.4M321.2,227.2V229.2M320.5,227.2h1.4M320.5,229.2h1.4M328.6,224.6V228.5M327.9,224.6h1.4M327.9,228.5h1.4M336.0,226.7V230.4M335.3,226.7h1.4M335.3,230.4h1.4M343.4,225.0V227.3M342.7,225.0h1.4M342.7,227.3h1.4M350.8,225.4V228.9M350.1,225.4h1.4M350.1,228.9h1.4M358.2,227.3V232.3M357.5,227.3h1.4M357.5,232.3h1.4M365.6,231.9V235.7M364.9,231.9h1.4M364.9,235.7h1.4M373.0,236.2V241.7M372.3,236.2h1.4M372.3,241.7h1.4M380.4,244.6V249.6M379.7,244.6h1.4M379.7,249.6h1.4M387.9,248.5V252.8M387.2,248.5h1.4M387.2,252.8h1.4" stroke="#b7cb8f" stroke-width="0.5" fill="none"/>
<polyline points="313.8,228.0 315.9,228.0 317.9,228.0 320.0,228.0 322.0,228.0 324.1,228.0 326.1,228.0 328.2,228.0 330.3,228.0 332.3,228.0 334.4,228.0 336.4,228.0 338.5,228.0 340.5,228.0 342.6,228.0 344.7,228.0 346.7,228.0 348.8,228.0 350.8,228.0 352.9,228.0 354.9,228.0 357.0,228.0 359.1,228.0 361.1,228.0 363.2,228.0 365.2,228.0 367.3,228.1 369.3,228.6 371.4,230.9 373.5,239.2 375.5,250.6 377.6,255.5 379.6,256.6 381.7,256.9 383.7,256.9 385.8,256.9 387.9,256.9" fill="none" stroke="#69b34c" stroke-width="0.85"/>
<circle cx="313.8" cy="228.4" r="0.95" fill="#69b34c"/>
<circle cx="321.2" cy="229.9" r="0.95" fill="#69b34c"/>
<circle cx="328.6" cy="229.8" r="0.95" fill="#69b34c"/>
<circle cx="336.0" cy="229.0" r="0.95" fill="#69b34c"/>
<circle cx="343.4" cy="229.8" r="0.95" fill="#69b34c"/>
<circle cx="350.8" cy="226.5" r="0.95" fill="#69b34c"/>
<circle cx="358.2" cy="228.9" r="0.95" fill="#69b34c"/>
<circle cx="365.6" cy="228.9" r="0.95" fill="#69b34c"/>
<circle cx="373.0" cy="238.4" r="0.95" fill="#69b34c"/>
<circle cx="380.4" cy="257.8" r="0.95" fill="#69b34c"/>
<circle cx="387.9" cy="254.9" r="0.95" fill="#69b34c"/>
<path d="M313.8,226.4V230.4M313.1,226.4h1.4M313.1,230.4h1.4M321.2,228.4V231.4M320.5,228.4h1.4M320.5,231.4h1.4M328.6,226.9V232.7M327.9,226.9h1.4M327.9,232.7h1.4M336.0,227.4V230.6M335.3,227.4h1.4M335.3,230.6h1.4M343.4,226.6V232.9M342.7,226.6h1.4M342.7,232.9h1.4M350.8,223.7V229.2M350.1,223.7h1.4M350.1,229.2h1.4M358.2,227.2V230.7M357.5,227.2h1.4M357.5,230.7h1.4M365.6,226.6V231.2M364.9,226.6h1.4M364.9,231.2h1.4M373.0,236.1V240.6M372.3,236.1h1.4M372.3,240.6h1.4M380.4,254.4V261.2M379.7,254.4h1.4M379.7,261.2h1.4M387.9,252.5V257.4M387.2,252.5h1.4M387.2,257.4h1.4" stroke="#69b34c" stroke-width="0.5" fill="none"/>
<polyline points="313.8,229.1 315.9,229.1 317.9,229.1 320.0,229.2 322.0,229.2 324.1,229.2 326.1,229.3 328.2,229.3 330.3,229.4 332.3,229.4 334.4,229.5 336.4,229.7 338.5,229.8 340.5,230.0 342.6,230.3 344.7,230.5 346.7,230.9 348.8,231.4 350.8,231.9 352.9,232.6 354.9,233.4 357.0,234.4 359.1,235.5 361.1,236.8 363.2,238.3 365.2,240.0 367.3,241.9 369.3,243.8 371.4,245.9 373.5,248.0 375.5,250.1 377.6,252.1 379.6,254.0 381.7,255.8 383.7,257.3 385.8,258.7 387.9,259.9" fill="none" stroke="#f2911e" stroke-width="0.85"/>
<circle cx="313.8" cy="230.0" r="0.95" fill="#f2911e"/>
<circle cx="321.2" cy="229.8" r="0.95" fill="#f2911e"/>
<circle cx="328.6" cy="231.1" r="0.95" fill="#f2911e"/>
<circle cx="336.0" cy="229.7" r="0.95" fill="#f2911e"/>
<circle cx="343.4" cy="231.4" r="0.95" fill="#f2911e"/>
<circle cx="350.8" cy="233.6" r="0.95" fill="#f2911e"/>
<circle cx="358.2" cy="236.4" r="0.95" fill="#f2911e"/>
<circle cx="365.6" cy="242.0" r="0.95" fill="#f2911e"/>
<circle cx="373.0" cy="248.3" r="0.95" fill="#f2911e"/>
<circle cx="380.4" cy="254.4" r="0.95" fill="#f2911e"/>
<circle cx="387.9" cy="259.0" r="0.95" fill="#f2911e"/>
<path d="M313.8,228.0V232.0M313.1,228.0h1.4M313.1,232.0h1.4M321.2,228.6V231.0M320.5,228.6h1.4M320.5,231.0h1.4M328.6,229.8V232.3M327.9,229.8h1.4M327.9,232.3h1.4M336.0,228.3V231.1M335.3,228.3h1.4M335.3,231.1h1.4M343.4,230.0V232.8M342.7,230.0h1.4M342.7,232.8h1.4M350.8,232.6V234.7M350.1,232.6h1.4M350.1,234.7h1.4M358.2,235.2V237.7M357.5,235.2h1.4M357.5,237.7h1.4M365.6,241.2V242.7M364.9,241.2h1.4M364.9,242.7h1.4M373.0,247.2V249.3M372.3,247.2h1.4M372.3,249.3h1.4M380.4,253.0V255.9M379.7,253.0h1.4M379.7,255.9h1.4M387.9,257.4V260.7M387.2,257.4h1.4M387.2,260.7h1.4" stroke="#f2911e" stroke-width="0.5" fill="none"/>
<polyline points="313.8,230.8 315.9,230.8 317.9,230.8 320.0,230.8 322.0,230.8 324.1,230.8 326.1,230.8 328.2,230.8 330.3,230.8 332.3,230.9 334.4,230.9 336.4,230.9 338.5,230.9 340.5,231.0 342.6,231.1 344.7,231.2 346.7,231.3 348.8,231.4 350.8,231.6 352.9,231.9 354.9,232.2 357.0,232.7 359.1,233.2 361.1,233.9 363.2,234.8 365.2,235.9 367.3,237.1 369.3,238.6 371.4,240.2 373.5,241.9 375.5,243.6 377.6,245.4 379.6,247.0 381.7,248.5 383.7,249.8 385.8,250.9 387.9,251.8" fill="none" stroke="#5b2b84" stroke-width="0.85"/>
<circle cx="313.8" cy="230.2" r="0.95" fill="#5b2b84"/>
<circle cx="321.2" cy="231.1" r="0.95" fill="#5b2b84"/>
<circle cx="328.6" cy="229.5" r="0.95" fill="#5b2b84"/>
<circle cx="336.0" cy="230.3" r="0.95" fill="#5b2b84"/>
<circle cx="343.4" cy="232.4" r="0.95" fill="#5b2b84"/>
<circle cx="350.8" cy="230.5" r="0.95" fill="#5b2b84"/>
<circle cx="358.2" cy="232.3" r="0.95" fill="#5b2b84"/>
<circle cx="365.6" cy="237.1" r="0.95" fill="#5b2b84"/>
<circle cx="373.0" cy="241.5" r="0.95" fill="#5b2b84"/>
<circle cx="380.4" cy="246.8" r="0.95" fill="#5b2b84"/>
<circle cx="387.9" cy="251.6" r="0.95" fill="#5b2b84"/>
<path d="M313.8,228.3V232.1M313.1,228.3h1.4M313.1,232.1h1.4M321.2,229.9V232.3M320.5,229.9h1.4M320.5,232.3h1.4M328.6,228.6V230.4M327.9,228.6h1.4M327.9,230.4h1.4M336.0,228.7V231.9M335.3,228.7h1.4M335.3,231.9h1.4M343.4,230.5V234.2M342.7,230.5h1.4M342.7,234.2h1.4M350.8,228.9V232.1M350.1,228.9h1.4M350.1,232.1h1.4M358.2,230.5V234.2M357.5,230.5h1.4M357.5,234.2h1.4M365.6,235.7V238.6M364.9,235.7h1.4M364.9,238.6h1.4M373.0,239.7V243.4M372.3,239.7h1.4M372.3,243.4h1.4M380.4,244.9V248.6M379.7,244.9h1.4M379.7,248.6h1.4M387.9,249.6V253.5M387.2,249.6h1.4M387.2,253.5h1.4" stroke="#5b2b84" stroke-width="0.5" fill="none"/>
<polyline points="313.8,229.8 315.9,229.8 317.9,229.8 320.0,229.8 322.0,229.8 324.1,229.8 326.1,229.8 328.2,229.8 330.3,229.8 332.3,229.8 334.4,229.9 336.4,229.9 338.5,230.0 340.5,230.0 342.6,230.1 344.7,230.2 346.7,230.4 348.8,230.6 350.8,230.9 352.9,231.2 354.9,231.7 357.0,232.3 359.1,233.0 361.1,233.9 363.2,235.0 365.2,236.3 367.3,237.8 369.3,239.4 371.4,241.2 373.5,243.1 375.5,244.9 377.6,246.6 379.6,248.1 381.7,249.5 383.7,250.7 385.8,251.6 387.9,252.4" fill="none" stroke="#b8183f" stroke-width="0.85"/>
<circle cx="313.8" cy="229.3" r="0.95" fill="#b8183f"/>
<circle cx="321.2" cy="230.5" r="0.95" fill="#b8183f"/>
<circle cx="328.6" cy="230.8" r="0.95" fill="#b8183f"/>
<circle cx="336.0" cy="231.0" r="0.95" fill="#b8183f"/>
<circle cx="343.4" cy="230.0" r="0.95" fill="#b8183f"/>
<circle cx="350.8" cy="230.5" r="0.95" fill="#b8183f"/>
<circle cx="358.2" cy="232.7" r="0.95" fill="#b8183f"/>
<circle cx="365.6" cy="235.7" r="0.95" fill="#b8183f"/>
<circle cx="373.0" cy="242.7" r="0.95" fill="#b8183f"/>
<circle cx="380.4" cy="248.3" r="0.95" fill="#b8183f"/>
<circle cx="387.9" cy="251.8" r="0.95" fill="#b8183f"/>
<path d="M313.8,227.0V231.5M313.1,227.0h1.4M313.1,231.5h1.4M321.2,229.5V231.6M320.5,229.5h1.4M320.5,231.6h1.4M328.6,229.2V232.5M327.9,229.2h1.4M327.9,232.5h1.4M336.0,228.5V233.5M335.3,228.5h1.4M335.3,233.5h1.4M343.4,227.9V232.1M342.7,227.9h1.4M342.7,232.1h1.4M350.8,228.3V232.7M350.1,228.3h1.4M350.1,232.7h1.4M358.2,231.7V233.7M357.5,231.7h1.4M357.5,233.7h1.4M365.6,233.4V238.1M364.9,233.4h1.4M364.9,238.1h1.4M373.0,240.7V244.6M372.3,240.7h1.4M372.3,244.6h1.4M380.4,247.2V249.3M379.7,247.2h1.4M379.7,249.3h1.4M387.9,250.3V253.2M387.2,250.3h1.4M387.2,253.2h1.4" stroke="#b8183f" stroke-width="0.5" fill="none"/>
<polyline points="313.8,230.8 315.9,230.8 317.9,230.8 320.0,230.8 322.0,230.8 324.1,230.9 326.1,230.9 328.2,230.9 330.3,230.9 332.3,231.0 334.4,231.0 336.4,231.1 338.5,231.1 340.5,231.2 342.6,231.4 344.7,231.5 346.7,231.7 348.8,232.0 350.8,232.3 352.9,232.7 354.9,233.2 357.0,233.8 359.1,234.6 361.1,235.5 363.2,236.6 365.2,237.9 367.3,239.4 369.3,241.2 371.4,243.1 373.5,245.1 375.5,247.3 377.6,249.5 379.6,251.6 381.7,253.6 383.7,255.5 385.8,257.2 387.9,258.7" fill="none" stroke="#e1258c" stroke-width="0.85"/>
<circle cx="313.8" cy="232.0" r="0.95" fill="#e1258c"/>
<circle cx="321.2" cy="230.2" r="0.95" fill="#e1258c"/>
<circle cx="328.6" cy="230.2" r="0.95" fill="#e1258c"/>
<circle cx="336.0" cy="231.1" r="0.95" fill="#e1258c"/>
<circle cx="343.4" cy="231.5" r="0.95" fill="#e1258c"/>
<circle cx="350.8" cy="231.5" r="0.95" fill="#e1258c"/>
<circle cx="358.2" cy="233.8" r="0.95" fill="#e1258c"/>
<circle cx="365.6" cy="239.2" r="0.95" fill="#e1258c"/>
<circle cx="373.0" cy="244.0" r="0.95" fill="#e1258c"/>
<circle cx="380.4" cy="252.2" r="0.95" fill="#e1258c"/>
<circle cx="387.9" cy="259.9" r="0.95" fill="#e1258c"/>
<path d="M313.8,230.5V233.5M313.1,230.5h1.4M313.1,233.5h1.4M321.2,228.9V231.5M320.5,228.9h1.4M320.5,231.5h1.4M328.6,227.5V233.0M327.9,227.5h1.4M327.9,233.0h1.4M336.0,229.4V232.7M335.3,229.4h1.4M335.3,232.7h1.4M343.4,229.3V233.7M342.7,229.3h1.4M342.7,233.7h1.4M350.8,229.5V233.6M350.1,229.5h1.4M350.1,233.6h1.4M358.2,232.7V235.0M357.5,232.7h1.4M357.5,235.0h1.4M365.6,237.8V240.6M364.9,237.8h1.4M364.9,240.6h1.4M373.0,242.5V245.6M372.3,242.5h1.4M372.3,245.6h1.4M380.4,251.2V253.2M379.7,251.2h1.4M379.7,253.2h1.4M387.9,258.5V261.4M387.2,258.5h1.4M387.2,261.4h1.4" stroke="#e1258c" stroke-width="0.5" fill="none"/>
<polyline points="313.8,225.6 315.9,225.6 317.9,225.6 320.0,225.6 322.0,225.6 324.1,225.6 326.1,225.6 328.2,225.6 330.3,225.6 332.3,225.6 334.4,225.6 336.4,225.6 338.5,225.6 340.5,225.6 342.6,225.6 344.7,225.6 346.7,225.6 348.8,225.6 350.8,225.6 352.9,225.7 354.9,225.9 357.0,226.5 359.1,227.8 361.1,230.8 363.2,235.8 365.2,241.8 367.3,246.5 369.3,249.0 371.4,250.2 373.5,250.7 375.5,250.9 377.6,250.9 379.6,251.0 381.7,251.0 383.7,251.0 385.8,251.0 387.9,251.0" fill="none" stroke="#26418f" stroke-width="0.85"/>
<circle cx="313.8" cy="225.0" r="0.95" fill="#26418f"/>
<circle cx="321.2" cy="225.0" r="0.95" fill="#26418f"/>
<circle cx="328.6" cy="225.5" r="0.95" fill="#26418f"/>
<circle cx="336.0" cy="225.7" r="0.95" fill="#26418f"/>
<circle cx="343.4" cy="224.2" r="0.95" fill="#26418f"/>
<circle cx="350.8" cy="224.0" r="0.95" fill="#26418f"/>
<circle cx="358.2" cy="228.8" r="0.95" fill="#26418f"/>
<circle cx="365.6" cy="241.8" r="0.95" fill="#26418f"/>
<circle cx="373.0" cy="250.8" r="0.95" fill="#26418f"/>
<circle cx="380.4" cy="252.0" r="0.95" fill="#26418f"/>
<circle cx="387.9" cy="252.0" r="0.95" fill="#26418f"/>
<path d="M313.8,222.2V227.8M313.1,222.2h1.4M313.1,227.8h1.4M321.2,223.1V226.8M320.5,223.1h1.4M320.5,226.8h1.4M328.6,223.3V227.8M327.9,223.3h1.4M327.9,227.8h1.4M336.0,224.2V227.2M335.3,224.2h1.4M335.3,227.2h1.4M343.4,222.5V225.9M342.7,222.5h1.4M342.7,225.9h1.4M350.8,220.6V227.3M350.1,220.6h1.4M350.1,227.3h1.4M358.2,226.6V231.1M357.5,226.6h1.4M357.5,231.1h1.4M365.6,238.4V245.2M364.9,238.4h1.4M364.9,245.2h1.4M373.0,249.0V252.6M372.3,249.0h1.4M372.3,252.6h1.4M380.4,248.6V255.3M379.7,248.6h1.4M379.7,255.3h1.4M387.9,249.5V254.5M387.2,249.5h1.4M387.2,254.5h1.4" stroke="#26418f" stroke-width="0.5" fill="none"/>
<line x1="309.60" y1="210.40" x2="309.60" y2="266.10" stroke="#000" stroke-width="1.05" />
<line x1="309.10" y1="265.60" x2="391.00" y2="265.60" stroke="#000" stroke-width="1.05" />
<line x1="307.20" y1="265.60" x2="309.60" y2="265.60" stroke="#000" stroke-width="0.7" />
<text x="303.60" y="268.00" font-size="7.76" stroke="#231f20" stroke-width="0.1" text-anchor="end">0</text>
<line x1="307.20" y1="248.20" x2="309.60" y2="248.20" stroke="#000" stroke-width="0.7" />
<text x="303.60" y="250.60" font-size="7.76" stroke="#231f20" stroke-width="0.1" text-anchor="end">50</text>
<line x1="307.20" y1="230.80" x2="309.60" y2="230.80" stroke="#000" stroke-width="0.7" />
<text x="303.60" y="233.20" font-size="7.76" stroke="#231f20" stroke-width="0.1" text-anchor="end">100</text>
<line x1="307.20" y1="213.40" x2="309.60" y2="213.40" stroke="#000" stroke-width="0.7" />
<text x="303.60" y="215.80" font-size="7.76" stroke="#231f20" stroke-width="0.1" text-anchor="end">150</text>
<line x1="313.80" y1="265.60" x2="313.80" y2="267.80" stroke="#000" stroke-width="0.7" />
<text x="313.80" y="278.50" font-size="7.76" stroke="#231f20" stroke-width="0.1" text-anchor="middle">0.1</text>
<line x1="338.40" y1="265.60" x2="338.40" y2="267.80" stroke="#000" stroke-width="0.7" />
<text x="338.40" y="278.50" font-size="7.76" stroke="#231f20" stroke-width="0.1" text-anchor="middle">1</text>
<line x1="363.00" y1="265.60" x2="363.00" y2="267.80" stroke="#000" stroke-width="0.7" />
<text x="363.00" y="278.50" font-size="7.76" stroke="#231f20" stroke-width="0.1" text-anchor="middle">10</text>
<line x1="387.60" y1="265.60" x2="387.60" y2="267.80" stroke="#000" stroke-width="0.7" />
<text x="387.60" y="278.50" font-size="7.76" stroke="#231f20" stroke-width="0.1" text-anchor="middle">100</text>
<line x1="311.42" y1="265.60" x2="311.42" y2="266.80" stroke="#000" stroke-width="0.45" />
<line x1="312.67" y1="265.60" x2="312.67" y2="266.80" stroke="#000" stroke-width="0.45" />
<line x1="321.21" y1="265.60" x2="321.21" y2="266.80" stroke="#000" stroke-width="0.45" />
<line x1="325.54" y1="265.60" x2="325.54" y2="266.80" stroke="#000" stroke-width="0.45" />
<line x1="328.61" y1="265.60" x2="328.61" y2="266.80" stroke="#000" stroke-width="0.45" />
<line x1="330.99" y1="265.60" x2="330.99" y2="266.80" stroke="#000" stroke-width="0.45" />
<line x1="332.94" y1="265.60" x2="332.94" y2="266.80" stroke="#000" stroke-width="0.45" />
<line x1="334.59" y1="265.60" x2="334.59" y2="266.80" stroke="#000" stroke-width="0.45" />
<line x1="336.02" y1="265.60" x2="336.02" y2="266.80" stroke="#000" stroke-width="0.45" />
<line x1="337.27" y1="265.60" x2="337.27" y2="266.80" stroke="#000" stroke-width="0.45" />
<line x1="345.81" y1="265.60" x2="345.81" y2="266.80" stroke="#000" stroke-width="0.45" />
<line x1="350.14" y1="265.60" x2="350.14" y2="266.80" stroke="#000" stroke-width="0.45" />
<line x1="353.21" y1="265.60" x2="353.21" y2="266.80" stroke="#000" stroke-width="0.45" />
<line x1="355.59" y1="265.60" x2="355.59" y2="266.80" stroke="#000" stroke-width="0.45" />
<line x1="357.54" y1="265.60" x2="357.54" y2="266.80" stroke="#000" stroke-width="0.45" />
<line x1="359.19" y1="265.60" x2="359.19" y2="266.80" stroke="#000" stroke-width="0.45" />
<line x1="360.62" y1="265.60" x2="360.62" y2="266.80" stroke="#000" stroke-width="0.45" />
<line x1="361.87" y1="265.60" x2="361.87" y2="266.80" stroke="#000" stroke-width="0.45" />
<line x1="370.41" y1="265.60" x2="370.41" y2="266.80" stroke="#000" stroke-width="0.45" />
<line x1="374.74" y1="265.60" x2="374.74" y2="266.80" stroke="#000" stroke-width="0.45" />
<line x1="377.81" y1="265.60" x2="377.81" y2="266.80" stroke="#000" stroke-width="0.45" />
<line x1="380.19" y1="265.60" x2="380.19" y2="266.80" stroke="#000" stroke-width="0.45" />
<line x1="382.14" y1="265.60" x2="382.14" y2="266.80" stroke="#000" stroke-width="0.45" />
<line x1="383.79" y1="265.60" x2="383.79" y2="266.80" stroke="#000" stroke-width="0.45" />
<line x1="385.22" y1="265.60" x2="385.22" y2="266.80" stroke="#000" stroke-width="0.45" />
<line x1="386.47" y1="265.60" x2="386.47" y2="266.80" stroke="#000" stroke-width="0.45" />
<text x="350.50" y="205.10" font-size="8.66" textLength="70.55" lengthAdjust="spacingAndGlyphs" stroke="#231f20" stroke-width="0.1" text-anchor="middle">KY-05009 (TNIK)</text>
<polyline points="425.5,231.9 427.4,231.9 429.3,231.9 431.2,231.9 433.1,231.9 434.9,231.9 436.8,231.9 438.7,232.0 440.6,232.0 442.5,232.0 444.4,232.0 446.3,232.1 448.2,232.1 450.1,232.2 452.0,232.3 453.8,232.3 455.7,232.4 457.6,232.5 459.5,232.7 461.4,232.8 463.3,233.0 465.2,233.2 467.1,233.4 469.0,233.6 470.9,233.8 472.7,234.1 474.6,234.4 476.5,234.7 478.4,234.9 480.3,235.2 482.2,235.5 484.1,235.8 486.0,236.0 487.9,236.2 489.7,236.4 491.6,236.6 493.5,236.8" fill="none" stroke="#b7cb8f" stroke-width="0.85"/>
<circle cx="425.5" cy="232.9" r="0.95" fill="#b7cb8f"/>
<circle cx="432.3" cy="230.6" r="0.95" fill="#b7cb8f"/>
<circle cx="439.1" cy="231.1" r="0.95" fill="#b7cb8f"/>
<circle cx="445.9" cy="231.0" r="0.95" fill="#b7cb8f"/>
<circle cx="452.7" cy="233.0" r="0.95" fill="#b7cb8f"/>
<circle cx="459.5" cy="232.7" r="0.95" fill="#b7cb8f"/>
<circle cx="466.3" cy="234.7" r="0.95" fill="#b7cb8f"/>
<circle cx="473.1" cy="234.3" r="0.95" fill="#b7cb8f"/>
<circle cx="479.9" cy="236.2" r="0.95" fill="#b7cb8f"/>
<circle cx="486.7" cy="236.6" r="0.95" fill="#b7cb8f"/>
<circle cx="493.5" cy="238.2" r="0.95" fill="#b7cb8f"/>
<path d="M425.5,231.4V234.3M424.8,231.4h1.4M424.8,234.3h1.4M432.3,229.7V231.6M431.6,229.7h1.4M431.6,231.6h1.4M439.1,229.6V232.5M438.4,229.6h1.4M438.4,232.5h1.4M445.9,229.3V232.7M445.2,229.3h1.4M445.2,232.7h1.4M452.7,231.1V235.0M452.0,231.1h1.4M452.0,235.0h1.4M459.5,231.9V233.5M458.8,231.9h1.4M458.8,233.5h1.4M466.3,233.3V236.1M465.6,233.3h1.4M465.6,236.1h1.4M473.1,233.1V235.4M472.4,233.1h1.4M472.4,235.4h1.4M479.9,235.0V237.4M479.2,235.0h1.4M479.2,237.4h1.4M486.7,234.7V238.5M486.0,234.7h1.4M486.0,238.5h1.4M493.5,236.4V239.9M492.8,236.4h1.4M492.8,239.9h1.4" stroke="#b7cb8f" stroke-width="0.5" fill="none"/>
<polyline points="425.5,230.8 427.4,230.8 429.3,230.8 431.2,230.8 433.1,230.8 434.9,230.8 436.8,230.9 438.7,230.9 440.6,230.9 442.5,230.9 444.4,230.9 446.3,231.0 448.2,231.0 450.1,231.1 452.0,231.2 453.8,231.3 455.7,231.4 457.6,231.5 459.5,231.7 461.4,231.9 463.3,232.1 465.2,232.4 467.1,232.7 469.0,233.1 470.9,233.5 472.7,233.9 474.6,234.4 476.5,234.9 478.4,235.4 480.3,235.9 482.2,236.4 484.1,236.8 486.0,237.2 487.9,237.6 489.7,237.9 491.6,238.2 493.5,238.4" fill="none" stroke="#9a93d8" stroke-width="0.85"/>
<circle cx="425.5" cy="229.9" r="0.95" fill="#9a93d8"/>
<circle cx="432.3" cy="229.6" r="0.95" fill="#9a93d8"/>
<circle cx="439.1" cy="229.8" r="0.95" fill="#9a93d8"/>
<circle cx="445.9" cy="231.3" r="0.95" fill="#9a93d8"/>
<circle cx="452.7" cy="229.8" r="0.95" fill="#9a93d8"/>
<circle cx="459.5" cy="232.1" r="0.95" fill="#9a93d8"/>
<circle cx="466.3" cy="233.2" r="0.95" fill="#9a93d8"/>
<circle cx="473.1" cy="235.1" r="0.95" fill="#9a93d8"/>
<circle cx="479.9" cy="236.4" r="0.95" fill="#9a93d8"/>
<circle cx="486.7" cy="238.1" r="0.95" fill="#9a93d8"/>
<circle cx="493.5" cy="238.4" r="0.95" fill="#9a93d8"/>
<path d="M425.5,229.0V230.8M424.8,229.0h1.4M424.8,230.8h1.4M432.3,227.9V231.3M431.6,227.9h1.4M431.6,231.3h1.4M439.1,228.6V230.9M438.4,228.6h1.4M438.4,230.9h1.4M445.9,230.1V232.6M445.2,230.1h1.4M445.2,232.6h1.4M452.7,228.3V231.3M452.0,228.3h1.4M452.0,231.3h1.4M459.5,230.7V233.4M458.8,230.7h1.4M458.8,233.4h1.4M466.3,232.4V234.0M465.6,232.4h1.4M465.6,234.0h1.4M473.1,233.3V237.0M472.4,233.3h1.4M472.4,237.0h1.4M479.9,234.4V238.4M479.2,234.4h1.4M479.2,238.4h1.4M486.7,237.0V239.2M486.0,237.0h1.4M486.0,239.2h1.4M493.5,237.4V239.4M492.8,237.4h1.4M492.8,239.4h1.4" stroke="#9a93d8" stroke-width="0.5" fill="none"/>
<polyline points="425.5,230.8 427.4,230.8 429.3,230.8 431.2,230.8 433.1,230.9 434.9,230.9 436.8,230.9 438.7,230.9 440.6,231.0 442.5,231.0 444.4,231.1 446.3,231.2 448.2,231.3 450.1,231.5 452.0,231.7 453.8,232.0 455.7,232.3 457.6,232.7 459.5,233.3 461.4,233.9 463.3,234.6 465.2,235.4 467.1,236.2 469.0,237.1 470.9,238.0 472.7,238.8 474.6,239.5 476.5,240.2 478.4,240.8 480.3,241.3 482.2,241.6 484.1,241.9 486.0,242.2 487.9,242.4 489.7,242.5 491.6,242.6 493.5,242.7" fill="none" stroke="#5b2b84" stroke-width="0.85"/>
<circle cx="425.5" cy="231.3" r="0.95" fill="#5b2b84"/>
<circle cx="432.3" cy="229.5" r="0.95" fill="#5b2b84"/>
<circle cx="439.1" cy="230.5" r="0.95" fill="#5b2b84"/>
<circle cx="445.9" cy="229.6" r="0.95" fill="#5b2b84"/>
<circle cx="452.7" cy="231.0" r="0.95" fill="#5b2b84"/>
<circle cx="459.5" cy="232.5" r="0.95" fill="#5b2b84"/>
<circle cx="466.3" cy="235.0" r="0.95" fill="#5b2b84"/>
<circle cx="473.1" cy="239.7" r="0.95" fill="#5b2b84"/>
<circle cx="479.9" cy="239.7" r="0.95" fill="#5b2b84"/>
<circle cx="486.7" cy="242.4" r="0.95" fill="#5b2b84"/>
<circle cx="493.5" cy="243.4" r="0.95" fill="#5b2b84"/>
<path d="M425.5,228.6V234.0M424.8,228.6h1.4M424.8,234.0h1.4M432.3,227.1V232.0M431.6,227.1h1.4M431.6,232.0h1.4M439.1,227.9V233.1M438.4,227.9h1.4M438.4,233.1h1.4M445.9,227.7V231.6M445.2,227.7h1.4M445.2,231.6h1.4M452.7,230.0V232.1M452.0,230.0h1.4M452.0,232.1h1.4M459.5,230.7V234.2M458.8,230.7h1.4M458.8,234.2h1.4M466.3,232.9V237.1M465.6,232.9h1.4M465.6,237.1h1.4M473.1,238.6V240.8M472.4,238.6h1.4M472.4,240.8h1.4M479.9,238.5V240.9M479.2,238.5h1.4M479.2,240.9h1.4M486.7,240.8V244.0M486.0,240.8h1.4M486.0,244.0h1.4M493.5,241.1V245.7M492.8,241.1h1.4M492.8,245.7h1.4" stroke="#5b2b84" stroke-width="0.5" fill="none"/>
<polyline points="425.5,230.8 427.4,230.8 429.3,230.8 431.2,230.8 433.1,230.8 434.9,230.8 436.8,230.9 438.7,230.9 440.6,230.9 442.5,230.9 444.4,231.0 446.3,231.0 448.2,231.1 450.1,231.2 452.0,231.3 453.8,231.5 455.7,231.7 457.6,231.9 459.5,232.3 461.4,232.7 463.3,233.2 465.2,233.9 467.1,234.7 469.0,235.7 470.9,236.8 472.7,238.2 474.6,239.7 476.5,241.3 478.4,243.0 480.3,244.8 482.2,246.5 484.1,248.1 486.0,249.6 487.9,251.0 489.7,252.1 491.6,253.1 493.5,253.9" fill="none" stroke="#b8183f" stroke-width="0.85"/>
<circle cx="425.5" cy="229.2" r="0.95" fill="#b8183f"/>
<circle cx="432.3" cy="230.3" r="0.95" fill="#b8183f"/>
<circle cx="439.1" cy="230.7" r="0.95" fill="#b8183f"/>
<circle cx="445.9" cy="232.2" r="0.95" fill="#b8183f"/>
<circle cx="452.7" cy="232.4" r="0.95" fill="#b8183f"/>
<circle cx="459.5" cy="232.3" r="0.95" fill="#b8183f"/>
<circle cx="466.3" cy="232.9" r="0.95" fill="#b8183f"/>
<circle cx="473.1" cy="238.6" r="0.95" fill="#b8183f"/>
<circle cx="479.9" cy="245.5" r="0.95" fill="#b8183f"/>
<circle cx="486.7" cy="250.7" r="0.95" fill="#b8183f"/>
<circle cx="493.5" cy="254.8" r="0.95" fill="#b8183f"/>
<path d="M425.5,227.7V230.6M424.8,227.7h1.4M424.8,230.6h1.4M432.3,228.8V231.8M431.6,228.8h1.4M431.6,231.8h1.4M439.1,229.0V232.4M438.4,229.0h1.4M438.4,232.4h1.4M445.9,230.9V233.4M445.2,230.9h1.4M445.2,233.4h1.4M452.7,229.8V235.0M452.0,229.8h1.4M452.0,235.0h1.4M459.5,230.9V233.6M458.8,230.9h1.4M458.8,233.6h1.4M466.3,230.2V235.7M465.6,230.2h1.4M465.6,235.7h1.4M473.1,237.4V239.9M472.4,237.4h1.4M472.4,239.9h1.4M479.9,244.4V246.6M479.2,244.4h1.4M479.2,246.6h1.4M486.7,249.6V251.9M486.0,249.6h1.4M486.0,251.9h1.4M493.5,253.3V256.2M492.8,253.3h1.4M492.8,256.2h1.4" stroke="#b8183f" stroke-width="0.5" fill="none"/>
<polyline points="425.5,230.9 427.4,230.9 429.3,230.9 431.2,230.9 433.1,231.0 434.9,231.0 436.8,231.1 438.7,231.2 440.6,231.3 442.5,231.4 444.4,231.6 446.3,231.8 448.2,232.1 450.1,232.4 452.0,232.8 453.8,233.4 455.7,234.0 457.6,234.9 459.5,235.8 461.4,237.0 463.3,238.3 465.2,239.9 467.1,241.6 469.0,243.5 470.9,245.5 472.7,247.6 474.6,249.7 476.5,251.6 478.4,253.5 480.3,255.2 482.2,256.7 484.1,258.0 486.0,259.1 487.9,260.0 489.7,260.8 491.6,261.4 493.5,261.9" fill="none" stroke="#f2911e" stroke-width="0.85"/>
<circle cx="425.5" cy="230.7" r="0.95" fill="#f2911e"/>
<circle cx="432.3" cy="230.3" r="0.95" fill="#f2911e"/>
<circle cx="439.1" cy="231.4" r="0.95" fill="#f2911e"/>
<circle cx="445.9" cy="232.1" r="0.95" fill="#f2911e"/>
<circle cx="452.7" cy="234.3" r="0.95" fill="#f2911e"/>
<circle cx="459.5" cy="234.5" r="0.95" fill="#f2911e"/>
<circle cx="466.3" cy="240.9" r="0.95" fill="#f2911e"/>
<circle cx="473.1" cy="247.0" r="0.95" fill="#f2911e"/>
<circle cx="479.9" cy="255.5" r="0.95" fill="#f2911e"/>
<circle cx="486.7" cy="259.8" r="0.95" fill="#f2911e"/>
<circle cx="493.5" cy="260.7" r="0.95" fill="#f2911e"/>
<path d="M425.5,228.7V232.6M424.8,228.7h1.4M424.8,232.6h1.4M432.3,229.0V231.6M431.6,229.0h1.4M431.6,231.6h1.4M439.1,230.0V232.9M438.4,230.0h1.4M438.4,232.9h1.4M445.9,230.9V233.3M445.2,230.9h1.4M445.2,233.3h1.4M452.7,233.2V235.4M452.0,233.2h1.4M452.0,235.4h1.4M459.5,233.6V235.4M458.8,233.6h1.4M458.8,235.4h1.4M466.3,239.3V242.5M465.6,239.3h1.4M465.6,242.5h1.4M473.1,246.0V248.0M472.4,246.0h1.4M472.4,248.0h1.4M479.9,254.4V256.6M479.2,254.4h1.4M479.2,256.6h1.4M486.7,258.4V261.1M486.0,258.4h1.4M486.0,261.1h1.4M493.5,260.0V261.3M492.8,260.0h1.4M492.8,261.3h1.4" stroke="#f2911e" stroke-width="0.5" fill="none"/>
<polyline points="425.5,230.8 427.4,230.8 429.3,230.8 431.2,230.8 433.1,230.8 434.9,230.8 436.8,230.8 438.7,230.9 440.6,231.0 442.5,231.4 444.4,232.6 446.3,235.6 448.2,240.6 450.1,245.5 452.0,248.3 453.8,249.4 455.7,249.8 457.6,249.9 459.5,249.9 461.4,249.9 463.3,249.9 465.2,249.9 467.1,249.9 469.0,249.9 470.9,249.9 472.7,249.9 474.6,249.9 476.5,249.9 478.4,249.9 480.3,249.9 482.2,249.9 484.1,249.9 486.0,249.9 487.9,249.9 489.7,249.9 491.6,249.9 493.5,249.9" fill="none" stroke="#f2911e" stroke-width="0.85"/>
<circle cx="425.5" cy="230.0" r="0.95" fill="#f2911e"/>
<circle cx="432.3" cy="231.8" r="0.95" fill="#f2911e"/>
<circle cx="439.1" cy="230.1" r="0.95" fill="#f2911e"/>
<circle cx="445.9" cy="234.6" r="0.95" fill="#f2911e"/>
<circle cx="452.7" cy="249.1" r="0.95" fill="#f2911e"/>
<circle cx="459.5" cy="249.2" r="0.95" fill="#f2911e"/>
<circle cx="466.3" cy="249.0" r="0.95" fill="#f2911e"/>
<circle cx="473.1" cy="250.8" r="0.95" fill="#f2911e"/>
<circle cx="479.9" cy="249.9" r="0.95" fill="#f2911e"/>
<circle cx="486.7" cy="249.0" r="0.95" fill="#f2911e"/>
<circle cx="493.5" cy="249.6" r="0.95" fill="#f2911e"/>
<path d="M425.5,229.5V230.5M424.8,229.5h1.4M424.8,230.5h1.4M432.3,230.6V232.9M431.6,230.6h1.4M431.6,232.9h1.4M439.1,229.1V231.0M438.4,229.1h1.4M438.4,231.0h1.4M445.9,234.1V235.1M445.2,234.1h1.4M445.2,235.1h1.4M452.7,247.8V250.4M452.0,247.8h1.4M452.0,250.4h1.4M459.5,248.0V250.5M458.8,248.0h1.4M458.8,250.5h1.4M466.3,248.2V249.7M465.6,248.2h1.4M465.6,249.7h1.4M473.1,250.1V251.4M472.4,250.1h1.4M472.4,251.4h1.4M479.9,248.8V251.0M479.2,248.8h1.4M479.2,251.0h1.4M486.7,247.9V250.2M486.0,247.9h1.4M486.0,250.2h1.4M493.5,248.5V250.8M492.8,248.5h1.4M492.8,250.8h1.4" stroke="#f2911e" stroke-width="0.5" fill="none"/>
<polyline points="425.5,231.1 427.4,231.2 429.3,231.4 431.2,231.6 433.1,231.9 434.9,232.2 436.8,232.7 438.7,233.4 440.6,234.2 442.5,235.3 444.4,236.6 446.3,238.2 448.2,240.2 450.1,242.4 452.0,244.8 453.8,247.3 455.7,249.8 457.6,252.2 459.5,254.4 461.4,256.4 463.3,258.0 465.2,259.3 467.1,260.4 469.0,261.3 470.9,261.9 472.7,262.4 474.6,262.8 476.5,263.1 478.4,263.3 480.3,263.4 482.2,263.5 484.1,263.6 486.0,263.7 487.9,263.7 489.7,263.8 491.6,263.8 493.5,263.8" fill="none" stroke="#69b34c" stroke-width="0.85"/>
<circle cx="425.5" cy="231.3" r="0.95" fill="#69b34c"/>
<circle cx="432.3" cy="233.4" r="0.95" fill="#69b34c"/>
<circle cx="439.1" cy="234.5" r="0.95" fill="#69b34c"/>
<circle cx="445.9" cy="237.4" r="0.95" fill="#69b34c"/>
<circle cx="452.7" cy="247.1" r="0.95" fill="#69b34c"/>
<circle cx="459.5" cy="254.0" r="0.95" fill="#69b34c"/>
<circle cx="466.3" cy="261.4" r="0.95" fill="#69b34c"/>
<circle cx="473.1" cy="262.4" r="0.95" fill="#69b34c"/>
<circle cx="479.9" cy="263.8" r="0.95" fill="#69b34c"/>
<circle cx="486.7" cy="263.4" r="0.95" fill="#69b34c"/>
<circle cx="493.5" cy="264.5" r="0.95" fill="#69b34c"/>
<path d="M425.5,228.8V233.7M424.8,228.8h1.4M424.8,233.7h1.4M432.3,230.4V236.3M431.6,230.4h1.4M431.6,236.3h1.4M439.1,231.2V237.8M438.4,231.2h1.4M438.4,237.8h1.4M445.9,235.5V239.3M445.2,235.5h1.4M445.2,239.3h1.4M452.7,245.3V248.9M452.0,245.3h1.4M452.0,248.9h1.4M459.5,251.2V256.8M458.8,251.2h1.4M458.8,256.8h1.4M466.3,260.9V261.9M465.6,260.9h1.4M465.6,261.9h1.4M473.1,261.5V263.3M472.4,261.5h1.4M472.4,263.3h1.4M479.9,263.2V264.4M479.2,263.2h1.4M479.2,264.4h1.4M486.7,262.9V263.8M486.0,262.9h1.4M486.0,263.8h1.4M493.5,263.7V265.3M492.8,263.7h1.4M492.8,265.3h1.4" stroke="#69b34c" stroke-width="0.5" fill="none"/>
<polyline points="425.5,231.6 427.4,231.7 429.3,232.0 431.2,232.3 433.1,232.6 434.9,233.1 436.8,233.6 438.7,234.3 440.6,235.1 442.5,236.0 444.4,237.1 446.3,238.4 448.2,239.9 450.1,241.5 452.0,243.3 453.8,245.2 455.7,247.2 457.6,249.2 459.5,251.2 461.4,253.1 463.3,254.9 465.2,256.5 467.1,258.0 469.0,259.3 470.9,260.4 472.7,261.3 474.6,262.1 476.5,262.8 478.4,263.3 480.3,263.8 482.2,264.1 484.1,264.4 486.0,264.7 487.9,264.8 489.7,265.0 491.6,265.1 493.5,265.2" fill="none" stroke="#e1258c" stroke-width="0.85"/>
<circle cx="425.5" cy="230.3" r="0.95" fill="#e1258c"/>
<circle cx="432.3" cy="231.4" r="0.95" fill="#e1258c"/>
<circle cx="439.1" cy="235.2" r="0.95" fill="#e1258c"/>
<circle cx="445.9" cy="236.9" r="0.95" fill="#e1258c"/>
<circle cx="452.7" cy="244.6" r="0.95" fill="#e1258c"/>
<circle cx="459.5" cy="251.2" r="0.95" fill="#e1258c"/>
<circle cx="466.3" cy="257.6" r="0.95" fill="#e1258c"/>
<circle cx="473.1" cy="261.0" r="0.95" fill="#e1258c"/>
<circle cx="479.9" cy="264.4" r="0.95" fill="#e1258c"/>
<circle cx="486.7" cy="265.2" r="0.95" fill="#e1258c"/>
<circle cx="493.5" cy="264.7" r="0.95" fill="#e1258c"/>
<path d="M425.5,228.7V231.9M424.8,228.7h1.4M424.8,231.9h1.4M432.3,230.0V232.8M431.6,230.0h1.4M431.6,232.8h1.4M439.1,234.1V236.2M438.4,234.1h1.4M438.4,236.2h1.4M445.9,235.2V238.6M445.2,235.2h1.4M445.2,238.6h1.4M452.7,243.8V245.3M452.0,243.8h1.4M452.0,245.3h1.4M459.5,249.5V252.8M458.8,249.5h1.4M458.8,252.8h1.4M466.3,256.5V258.7M465.6,256.5h1.4M465.6,258.7h1.4M473.1,260.3V261.7M472.4,260.3h1.4M472.4,261.7h1.4M479.9,264.2V264.7M479.2,264.2h1.4M479.2,264.7h1.4M486.7,264.7V265.6M486.0,264.7h1.4M486.0,265.6h1.4M493.5,264.4V265.1M492.8,264.4h1.4M492.8,265.1h1.4" stroke="#e1258c" stroke-width="0.5" fill="none"/>
<polyline points="425.5,232.0 427.4,232.4 429.3,233.1 431.2,234.2 433.1,236.0 434.9,238.6 436.8,241.8 438.7,245.5 440.6,248.9 442.5,251.7 444.4,253.7 446.3,255.0 448.2,255.8 450.1,256.3 452.0,256.5 453.8,256.7 455.7,256.8 457.6,256.8 459.5,256.9 461.4,256.9 463.3,256.9 465.2,256.9 467.1,256.9 469.0,256.9 470.9,256.9 472.7,256.9 474.6,256.9 476.5,256.9 478.4,256.9 480.3,256.9 482.2,256.9 484.1,256.9 486.0,256.9 487.9,256.9 489.7,256.9 491.6,256.9 493.5,256.9" fill="none" stroke="#e1258c" stroke-width="0.85"/>
<circle cx="425.5" cy="231.2" r="0.95" fill="#e1258c"/>
<circle cx="432.3" cy="235.2" r="0.95" fill="#e1258c"/>
<circle cx="439.1" cy="244.9" r="0.95" fill="#e1258c"/>
<circle cx="445.9" cy="253.9" r="0.95" fill="#e1258c"/>
<circle cx="452.7" cy="257.4" r="0.95" fill="#e1258c"/>
<circle cx="459.5" cy="257.4" r="0.95" fill="#e1258c"/>
<circle cx="466.3" cy="256.9" r="0.95" fill="#e1258c"/>
<circle cx="473.1" cy="257.7" r="0.95" fill="#e1258c"/>
<circle cx="479.9" cy="256.4" r="0.95" fill="#e1258c"/>
<circle cx="486.7" cy="257.9" r="0.95" fill="#e1258c"/>
<circle cx="493.5" cy="257.7" r="0.95" fill="#e1258c"/>
<path d="M425.5,229.5V232.9M424.8,229.5h1.4M424.8,232.9h1.4M432.3,234.2V236.2M431.6,234.2h1.4M431.6,236.2h1.4M439.1,243.7V246.0M438.4,243.7h1.4M438.4,246.0h1.4M445.9,252.8V254.9M445.2,252.8h1.4M445.2,254.9h1.4M452.7,255.6V259.2M452.0,255.6h1.4M452.0,259.2h1.4M459.5,255.4V259.5M458.8,255.4h1.4M458.8,259.5h1.4M466.3,255.9V257.9M465.6,255.9h1.4M465.6,257.9h1.4M473.1,256.4V259.0M472.4,256.4h1.4M472.4,259.0h1.4M479.9,254.4V258.5M479.2,254.4h1.4M479.2,258.5h1.4M486.7,256.6V259.1M486.0,256.6h1.4M486.0,259.1h1.4M493.5,255.6V259.8M492.8,255.6h1.4M492.8,259.8h1.4" stroke="#e1258c" stroke-width="0.5" fill="none"/>
<polyline points="425.5,230.8 427.4,230.8 429.3,230.8 431.2,230.8 433.1,230.8 434.9,230.8 436.8,230.9 438.7,230.9 440.6,230.9 442.5,231.0 444.4,231.0 446.3,231.1 448.2,231.2 450.1,231.3 452.0,231.5 453.8,231.7 455.7,231.9 457.6,232.3 459.5,232.8 461.4,233.4 463.3,234.2 465.2,235.2 467.1,236.4 469.0,237.9 470.9,239.6 472.7,241.6 474.6,243.8 476.5,246.1 478.4,248.5 480.3,250.8 482.2,253.0 484.1,255.0 486.0,256.7 487.9,258.2 489.7,259.5 491.6,260.4 493.5,261.2" fill="none" stroke="#26418f" stroke-width="0.85"/>
<circle cx="425.5" cy="231.8" r="0.95" fill="#26418f"/>
<circle cx="432.3" cy="232.1" r="0.95" fill="#26418f"/>
<circle cx="439.1" cy="229.8" r="0.95" fill="#26418f"/>
<circle cx="445.9" cy="230.4" r="0.95" fill="#26418f"/>
<circle cx="452.7" cy="230.3" r="0.95" fill="#26418f"/>
<circle cx="459.5" cy="233.7" r="0.95" fill="#26418f"/>
<circle cx="466.3" cy="235.2" r="0.95" fill="#26418f"/>
<circle cx="473.1" cy="241.5" r="0.95" fill="#26418f"/>
<circle cx="479.9" cy="250.7" r="0.95" fill="#26418f"/>
<circle cx="486.7" cy="258.3" r="0.95" fill="#26418f"/>
<circle cx="493.5" cy="261.8" r="0.95" fill="#26418f"/>
<path d="M425.5,230.7V232.9M424.8,230.7h1.4M424.8,232.9h1.4M432.3,230.4V233.7M431.6,230.4h1.4M431.6,233.7h1.4M439.1,227.2V232.4M438.4,227.2h1.4M438.4,232.4h1.4M445.9,227.6V233.2M445.2,227.6h1.4M445.2,233.2h1.4M452.7,228.8V231.9M452.0,228.8h1.4M452.0,231.9h1.4M459.5,231.0V236.3M458.8,231.0h1.4M458.8,236.3h1.4M466.3,234.1V236.2M465.6,234.1h1.4M465.6,236.2h1.4M473.1,239.9V243.2M472.4,239.9h1.4M472.4,243.2h1.4M479.9,249.1V252.3M479.2,249.1h1.4M479.2,252.3h1.4M486.7,257.3V259.3M486.0,257.3h1.4M486.0,259.3h1.4M493.5,261.3V262.4M492.8,261.3h1.4M492.8,262.4h1.4" stroke="#26418f" stroke-width="0.5" fill="none"/>
<polyline points="425.5,230.8 427.4,230.8 429.3,230.8 431.2,230.8 433.1,230.8 434.9,230.8 436.8,230.8 438.7,230.9 440.6,231.5 442.5,233.5 444.4,238.8 446.3,244.7 448.2,247.3 450.1,248.0 452.0,248.2 453.8,248.2 455.7,248.2 457.6,248.2 459.5,248.2 461.4,248.2 463.3,248.2 465.2,248.2 467.1,248.2 469.0,248.2 470.9,248.2 472.7,248.2 474.6,248.2 476.5,248.2 478.4,248.2 480.3,248.2 482.2,248.2 484.1,248.2 486.0,248.2 487.9,248.2 489.7,248.2 491.6,248.2 493.5,248.2" fill="none" stroke="#26418f" stroke-width="0.85"/>
<circle cx="425.5" cy="229.5" r="0.95" fill="#26418f"/>
<circle cx="432.3" cy="229.5" r="0.95" fill="#26418f"/>
<circle cx="439.1" cy="231.4" r="0.95" fill="#26418f"/>
<circle cx="445.9" cy="242.9" r="0.95" fill="#26418f"/>
<circle cx="452.7" cy="249.4" r="0.95" fill="#26418f"/>
<circle cx="459.5" cy="248.6" r="0.95" fill="#26418f"/>
<circle cx="466.3" cy="249.1" r="0.95" fill="#26418f"/>
<circle cx="473.1" cy="247.1" r="0.95" fill="#26418f"/>
<circle cx="479.9" cy="248.4" r="0.95" fill="#26418f"/>
<circle cx="486.7" cy="247.5" r="0.95" fill="#26418f"/>
<circle cx="493.5" cy="249.5" r="0.95" fill="#26418f"/>
<path d="M425.5,228.3V230.7M424.8,228.3h1.4M424.8,230.7h1.4M432.3,228.2V230.9M431.6,228.2h1.4M431.6,230.9h1.4M439.1,228.9V233.9M438.4,228.9h1.4M438.4,233.9h1.4M445.9,241.1V244.6M445.2,241.1h1.4M445.2,244.6h1.4M452.7,247.6V251.3M452.0,247.6h1.4M452.0,251.3h1.4M459.5,245.9V251.2M458.8,245.9h1.4M458.8,251.2h1.4M466.3,247.4V250.7M465.6,247.4h1.4M465.6,250.7h1.4M473.1,246.1V248.1M472.4,246.1h1.4M472.4,248.1h1.4M479.9,246.0V250.9M479.2,246.0h1.4M479.2,250.9h1.4M486.7,246.4V248.5M486.0,246.4h1.4M486.0,248.5h1.4M493.5,248.4V250.6M492.8,248.4h1.4M492.8,250.6h1.4" stroke="#26418f" stroke-width="0.5" fill="none"/>
<line x1="421.20" y1="210.40" x2="421.20" y2="266.10" stroke="#000" stroke-width="1.05" />
<line x1="420.70" y1="265.60" x2="502.00" y2="265.60" stroke="#000" stroke-width="1.05" />
<line x1="418.80" y1="265.60" x2="421.20" y2="265.60" stroke="#000" stroke-width="0.7" />
<text x="415.20" y="268.00" font-size="7.76" stroke="#231f20" stroke-width="0.1" text-anchor="end">0</text>
<line x1="418.80" y1="248.20" x2="421.20" y2="248.20" stroke="#000" stroke-width="0.7" />
<text x="415.20" y="250.60" font-size="7.76" stroke="#231f20" stroke-width="0.1" text-anchor="end">50</text>
<line x1="418.80" y1="230.80" x2="421.20" y2="230.80" stroke="#000" stroke-width="0.7" />
<text x="415.20" y="233.20" font-size="7.76" stroke="#231f20" stroke-width="0.1" text-anchor="end">100</text>
<line x1="418.80" y1="213.40" x2="421.20" y2="213.40" stroke="#000" stroke-width="0.7" />
<text x="415.20" y="215.80" font-size="7.76" stroke="#231f20" stroke-width="0.1" text-anchor="end">150</text>
<line x1="432.30" y1="265.60" x2="432.30" y2="267.80" stroke="#000" stroke-width="0.7" />
<text x="432.30" y="278.50" font-size="7.76" stroke="#231f20" stroke-width="0.1" text-anchor="middle">0.01</text>
<line x1="454.90" y1="265.60" x2="454.90" y2="267.80" stroke="#000" stroke-width="0.7" />
<text x="454.90" y="278.50" font-size="7.76" stroke="#231f20" stroke-width="0.1" text-anchor="middle">0.1</text>
<line x1="477.50" y1="265.60" x2="477.50" y2="267.80" stroke="#000" stroke-width="0.7" />
<text x="477.50" y="278.50" font-size="7.76" stroke="#231f20" stroke-width="0.1" text-anchor="middle">1</text>
<line x1="500.10" y1="265.60" x2="500.10" y2="267.80" stroke="#000" stroke-width="0.7" />
<text x="500.10" y="278.50" font-size="7.76" stroke="#231f20" stroke-width="0.1" text-anchor="middle">10</text>
<line x1="423.31" y1="265.60" x2="423.31" y2="266.80" stroke="#000" stroke-width="0.45" />
<line x1="425.50" y1="265.60" x2="425.50" y2="266.80" stroke="#000" stroke-width="0.45" />
<line x1="427.29" y1="265.60" x2="427.29" y2="266.80" stroke="#000" stroke-width="0.45" />
<line x1="428.80" y1="265.60" x2="428.80" y2="266.80" stroke="#000" stroke-width="0.45" />
<line x1="430.11" y1="265.60" x2="430.11" y2="266.80" stroke="#000" stroke-width="0.45" />
<line x1="431.27" y1="265.60" x2="431.27" y2="266.80" stroke="#000" stroke-width="0.45" />
<line x1="439.10" y1="265.60" x2="439.10" y2="266.80" stroke="#000" stroke-width="0.45" />
<line x1="443.08" y1="265.60" x2="443.08" y2="266.80" stroke="#000" stroke-width="0.45" />
<line x1="445.91" y1="265.60" x2="445.91" y2="266.80" stroke="#000" stroke-width="0.45" />
<line x1="448.10" y1="265.60" x2="448.10" y2="266.80" stroke="#000" stroke-width="0.45" />
<line x1="449.89" y1="265.60" x2="449.89" y2="266.80" stroke="#000" stroke-width="0.45" />
<line x1="451.40" y1="265.60" x2="451.40" y2="266.80" stroke="#000" stroke-width="0.45" />
<line x1="452.71" y1="265.60" x2="452.71" y2="266.80" stroke="#000" stroke-width="0.45" />
<line x1="453.87" y1="265.60" x2="453.87" y2="266.80" stroke="#000" stroke-width="0.45" />
<line x1="461.70" y1="265.60" x2="461.70" y2="266.80" stroke="#000" stroke-width="0.45" />
<line x1="465.68" y1="265.60" x2="465.68" y2="266.80" stroke="#000" stroke-width="0.45" />
<line x1="468.51" y1="265.60" x2="468.51" y2="266.80" stroke="#000" stroke-width="0.45" />
<line x1="470.70" y1="265.60" x2="470.70" y2="266.80" stroke="#000" stroke-width="0.45" />
<line x1="472.49" y1="265.60" x2="472.49" y2="266.80" stroke="#000" stroke-width="0.45" />
<line x1="474.00" y1="265.60" x2="474.00" y2="266.80" stroke="#000" stroke-width="0.45" />
<line x1="475.31" y1="265.60" x2="475.31" y2="266.80" stroke="#000" stroke-width="0.45" />
<line x1="476.47" y1="265.60" x2="476.47" y2="266.80" stroke="#000" stroke-width="0.45" />
<line x1="484.30" y1="265.60" x2="484.30" y2="266.80" stroke="#000" stroke-width="0.45" />
<line x1="488.28" y1="265.60" x2="488.28" y2="266.80" stroke="#000" stroke-width="0.45" />
<line x1="491.11" y1="265.60" x2="491.11" y2="266.80" stroke="#000" stroke-width="0.45" />
<line x1="493.30" y1="265.60" x2="493.30" y2="266.80" stroke="#000" stroke-width="0.45" />
<line x1="495.09" y1="265.60" x2="495.09" y2="266.80" stroke="#000" stroke-width="0.45" />
<line x1="496.60" y1="265.60" x2="496.60" y2="266.80" stroke="#000" stroke-width="0.45" />
<line x1="497.91" y1="265.60" x2="497.91" y2="266.80" stroke="#000" stroke-width="0.45" />
<line x1="499.07" y1="265.60" x2="499.07" y2="266.80" stroke="#000" stroke-width="0.45" />
<text x="462.30" y="205.10" font-size="8.66" textLength="73.98" lengthAdjust="spacingAndGlyphs" stroke="#231f20" stroke-width="0.1" text-anchor="middle">Alisertib (AURKA)</text>
<polyline points="313.8,324.2 315.7,324.2 317.6,324.2 319.5,324.2 321.4,324.2 323.2,324.2 325.1,324.2 327.0,324.2 328.9,324.2 330.7,324.2 332.6,324.2 334.5,324.2 336.4,324.2 338.2,324.2 340.1,324.3 342.0,324.3 343.9,324.3 345.8,324.3 347.6,324.4 349.5,324.4 351.4,324.5 353.3,324.5 355.1,324.6 357.0,324.7 358.9,324.9 360.8,325.1 362.7,325.3 364.5,325.6 366.4,326.0 368.3,326.5 370.2,327.1 372.0,327.8 373.9,328.7 375.8,329.8 377.7,331.1 379.5,332.6 381.4,334.3" fill="none" stroke="#9a93d8" stroke-width="0.85"/>
<circle cx="313.8" cy="322.7" r="0.95" fill="#9a93d8"/>
<circle cx="320.6" cy="323.3" r="0.95" fill="#9a93d8"/>
<circle cx="327.4" cy="324.8" r="0.95" fill="#9a93d8"/>
<circle cx="334.1" cy="322.6" r="0.95" fill="#9a93d8"/>
<circle cx="340.9" cy="325.1" r="0.95" fill="#9a93d8"/>
<circle cx="347.6" cy="325.0" r="0.95" fill="#9a93d8"/>
<circle cx="354.4" cy="326.3" r="0.95" fill="#9a93d8"/>
<circle cx="361.1" cy="323.7" r="0.95" fill="#9a93d8"/>
<circle cx="367.9" cy="324.9" r="0.95" fill="#9a93d8"/>
<circle cx="374.7" cy="330.1" r="0.95" fill="#9a93d8"/>
<circle cx="381.4" cy="332.7" r="0.95" fill="#9a93d8"/>
<path d="M313.8,321.3V324.2M313.1,321.3h1.4M313.1,324.2h1.4M320.6,320.7V325.9M319.9,320.7h1.4M319.9,325.9h1.4M327.4,323.3V326.2M326.7,323.3h1.4M326.7,326.2h1.4M334.1,320.5V324.7M333.4,320.5h1.4M333.4,324.7h1.4M340.9,322.8V327.4M340.2,322.8h1.4M340.2,327.4h1.4M347.6,323.5V326.5M346.9,323.5h1.4M346.9,326.5h1.4M354.4,324.0V328.6M353.7,324.0h1.4M353.7,328.6h1.4M361.1,321.6V325.8M360.4,321.6h1.4M360.4,325.8h1.4M367.9,323.8V325.9M367.2,323.8h1.4M367.2,325.9h1.4M374.7,328.2V331.9M374.0,328.2h1.4M374.0,331.9h1.4M381.4,330.0V335.4M380.7,330.0h1.4M380.7,335.4h1.4" stroke="#9a93d8" stroke-width="0.5" fill="none"/>
<polyline points="313.8,321.8 315.7,321.8 317.6,321.8 319.5,321.8 321.4,321.8 323.2,321.8 325.1,321.8 327.0,321.8 328.9,321.8 330.7,321.8 332.6,321.8 334.5,321.8 336.4,321.8 338.2,321.8 340.1,321.8 342.0,321.8 343.9,321.8 345.8,321.9 347.6,321.9 349.5,321.9 351.4,322.0 353.3,322.1 355.1,322.2 357.0,322.3 358.9,322.5 360.8,322.7 362.7,323.0 364.5,323.4 366.4,323.9 368.3,324.6 370.2,325.4 372.0,326.5 373.9,327.8 375.8,329.4 377.7,331.3 379.5,333.4 381.4,335.8" fill="none" stroke="#b7cb8f" stroke-width="0.85"/>
<circle cx="313.8" cy="322.2" r="0.95" fill="#b7cb8f"/>
<circle cx="320.6" cy="322.1" r="0.95" fill="#b7cb8f"/>
<circle cx="327.4" cy="320.0" r="0.95" fill="#b7cb8f"/>
<circle cx="334.1" cy="320.5" r="0.95" fill="#b7cb8f"/>
<circle cx="340.9" cy="320.5" r="0.95" fill="#b7cb8f"/>
<circle cx="347.6" cy="321.4" r="0.95" fill="#b7cb8f"/>
<circle cx="354.4" cy="322.9" r="0.95" fill="#b7cb8f"/>
<circle cx="361.1" cy="321.6" r="0.95" fill="#b7cb8f"/>
<circle cx="367.9" cy="325.7" r="0.95" fill="#b7cb8f"/>
<circle cx="374.7" cy="329.4" r="0.95" fill="#b7cb8f"/>
<circle cx="381.4" cy="337.8" r="0.95" fill="#b7cb8f"/>
<path d="M313.8,320.4V324.0M313.1,320.4h1.4M313.1,324.0h1.4M320.6,319.7V324.4M319.9,319.7h1.4M319.9,324.4h1.4M327.4,318.3V321.6M326.7,318.3h1.4M326.7,321.6h1.4M334.1,317.6V323.4M333.4,317.6h1.4M333.4,323.4h1.4M340.9,317.5V323.4M340.2,317.5h1.4M340.2,323.4h1.4M347.6,319.5V323.4M346.9,319.5h1.4M346.9,323.4h1.4M354.4,320.8V324.9M353.7,320.8h1.4M353.7,324.9h1.4M361.1,320.2V323.0M360.4,320.2h1.4M360.4,323.0h1.4M367.9,322.8V328.6M367.2,322.8h1.4M367.2,328.6h1.4M374.7,328.1V330.8M374.0,328.1h1.4M374.0,330.8h1.4M381.4,335.3V340.2M380.7,335.3h1.4M380.7,340.2h1.4" stroke="#b7cb8f" stroke-width="0.5" fill="none"/>
<polyline points="313.8,320.7 315.7,320.7 317.6,320.7 319.5,320.7 321.4,320.7 323.2,320.7 325.1,320.7 327.0,320.7 328.9,320.7 330.7,320.7 332.6,320.7 334.5,320.7 336.4,320.7 338.2,320.7 340.1,320.8 342.0,320.8 343.9,320.8 345.8,320.8 347.6,320.8 349.5,320.9 351.4,320.9 353.3,321.0 355.1,321.1 357.0,321.3 358.9,321.4 360.8,321.7 362.7,322.0 364.5,322.4 366.4,322.9 368.3,323.6 370.2,324.5 372.0,325.6 373.9,326.9 375.8,328.5 377.7,330.5 379.5,332.7 381.4,335.2" fill="none" stroke="#69b34c" stroke-width="0.85"/>
<circle cx="313.8" cy="321.6" r="0.95" fill="#69b34c"/>
<circle cx="320.6" cy="318.8" r="0.95" fill="#69b34c"/>
<circle cx="327.4" cy="321.9" r="0.95" fill="#69b34c"/>
<circle cx="334.1" cy="322.7" r="0.95" fill="#69b34c"/>
<circle cx="340.9" cy="319.7" r="0.95" fill="#69b34c"/>
<circle cx="347.6" cy="322.1" r="0.95" fill="#69b34c"/>
<circle cx="354.4" cy="320.5" r="0.95" fill="#69b34c"/>
<circle cx="361.1" cy="320.5" r="0.95" fill="#69b34c"/>
<circle cx="367.9" cy="322.6" r="0.95" fill="#69b34c"/>
<circle cx="374.7" cy="325.9" r="0.95" fill="#69b34c"/>
<circle cx="381.4" cy="334.9" r="0.95" fill="#69b34c"/>
<path d="M313.8,316.1V327.1M313.1,316.1h1.4M313.1,327.1h1.4M320.6,313.3V324.4M319.9,313.3h1.4M319.9,324.4h1.4M327.4,319.6V324.1M326.7,319.6h1.4M326.7,324.1h1.4M334.1,318.9V326.5M333.4,318.9h1.4M333.4,326.5h1.4M340.9,316.2V323.3M340.2,316.2h1.4M340.2,323.3h1.4M347.6,318.7V325.6M346.9,318.7h1.4M346.9,325.6h1.4M354.4,316.1V324.9M353.7,316.1h1.4M353.7,324.9h1.4M361.1,315.5V325.5M360.4,315.5h1.4M360.4,325.5h1.4M367.9,320.3V325.0M367.2,320.3h1.4M367.2,325.0h1.4M374.7,322.9V328.9M374.0,322.9h1.4M374.0,328.9h1.4M381.4,331.6V338.2M380.7,331.6h1.4M380.7,338.2h1.4" stroke="#69b34c" stroke-width="0.5" fill="none"/>
<polyline points="313.8,323.5 315.7,323.5 317.6,323.5 319.5,323.5 321.4,323.5 323.2,323.5 325.1,323.5 327.0,323.5 328.9,323.5 330.7,323.5 332.6,323.5 334.5,323.5 336.4,323.5 338.2,323.5 340.1,323.5 342.0,323.6 343.9,323.6 345.8,323.6 347.6,323.6 349.5,323.7 351.4,323.8 353.3,323.9 355.1,324.0 357.0,324.1 358.9,324.4 360.8,324.7 362.7,325.1 364.5,325.6 366.4,326.3 368.3,327.2 370.2,328.4 372.0,329.8 373.9,331.6 375.8,333.7 377.7,336.0 379.5,338.6 381.4,341.2" fill="none" stroke="#f2911e" stroke-width="0.85"/>
<circle cx="313.8" cy="322.5" r="0.95" fill="#f2911e"/>
<circle cx="320.6" cy="324.6" r="0.95" fill="#f2911e"/>
<circle cx="327.4" cy="325.0" r="0.95" fill="#f2911e"/>
<circle cx="334.1" cy="323.2" r="0.95" fill="#f2911e"/>
<circle cx="340.9" cy="324.0" r="0.95" fill="#f2911e"/>
<circle cx="347.6" cy="323.6" r="0.95" fill="#f2911e"/>
<circle cx="354.4" cy="322.6" r="0.95" fill="#f2911e"/>
<circle cx="361.1" cy="322.7" r="0.95" fill="#f2911e"/>
<circle cx="367.9" cy="327.1" r="0.95" fill="#f2911e"/>
<circle cx="374.7" cy="331.0" r="0.95" fill="#f2911e"/>
<circle cx="381.4" cy="343.1" r="0.95" fill="#f2911e"/>
<path d="M313.8,321.2V323.8M313.1,321.2h1.4M313.1,323.8h1.4M320.6,323.1V326.0M319.9,323.1h1.4M319.9,326.0h1.4M327.4,322.4V327.5M326.7,322.4h1.4M326.7,327.5h1.4M334.1,321.6V324.8M333.4,321.6h1.4M333.4,324.8h1.4M340.9,321.2V326.8M340.2,321.2h1.4M340.2,326.8h1.4M347.6,322.2V325.0M346.9,322.2h1.4M346.9,325.0h1.4M354.4,320.5V324.8M353.7,320.5h1.4M353.7,324.8h1.4M361.1,321.5V323.9M360.4,321.5h1.4M360.4,323.9h1.4M367.9,324.7V329.6M367.2,324.7h1.4M367.2,329.6h1.4M374.7,328.3V333.6M374.0,328.3h1.4M374.0,333.6h1.4M381.4,341.6V344.7M380.7,341.6h1.4M380.7,344.7h1.4" stroke="#f2911e" stroke-width="0.5" fill="none"/>
<polyline points="313.8,325.2 315.7,325.2 317.6,325.2 319.5,325.2 321.4,325.2 323.2,325.2 325.1,325.2 327.0,325.2 328.9,325.2 330.7,325.2 332.6,325.2 334.5,325.3 336.4,325.3 338.2,325.3 340.1,325.3 342.0,325.3 343.9,325.3 345.8,325.3 347.6,325.3 349.5,325.4 351.4,325.4 353.3,325.5 355.1,325.5 357.0,325.6 358.9,325.8 360.8,325.9 362.7,326.2 364.5,326.5 366.4,326.8 368.3,327.3 370.2,328.0 372.0,328.8 373.9,329.8 375.8,331.1 377.7,332.6 379.5,334.4 381.4,336.4" fill="none" stroke="#5b2b84" stroke-width="0.85"/>
<circle cx="313.8" cy="326.6" r="0.95" fill="#5b2b84"/>
<circle cx="320.6" cy="323.6" r="0.95" fill="#5b2b84"/>
<circle cx="327.4" cy="323.7" r="0.95" fill="#5b2b84"/>
<circle cx="334.1" cy="324.0" r="0.95" fill="#5b2b84"/>
<circle cx="340.9" cy="326.1" r="0.95" fill="#5b2b84"/>
<circle cx="347.6" cy="323.8" r="0.95" fill="#5b2b84"/>
<circle cx="354.4" cy="325.2" r="0.95" fill="#5b2b84"/>
<circle cx="361.1" cy="327.0" r="0.95" fill="#5b2b84"/>
<circle cx="367.9" cy="328.5" r="0.95" fill="#5b2b84"/>
<circle cx="374.7" cy="331.2" r="0.95" fill="#5b2b84"/>
<circle cx="381.4" cy="335.9" r="0.95" fill="#5b2b84"/>
<path d="M313.8,324.9V328.2M313.1,324.9h1.4M313.1,328.2h1.4M320.6,321.1V326.1M319.9,321.1h1.4M319.9,326.1h1.4M327.4,321.7V325.8M326.7,321.7h1.4M326.7,325.8h1.4M334.1,321.7V326.2M333.4,321.7h1.4M333.4,326.2h1.4M340.9,323.1V329.1M340.2,323.1h1.4M340.2,329.1h1.4M347.6,322.3V325.2M346.9,322.3h1.4M346.9,325.2h1.4M354.4,322.5V327.8M353.7,322.5h1.4M353.7,327.8h1.4M361.1,324.9V329.0M360.4,324.9h1.4M360.4,329.0h1.4M367.9,326.8V330.2M367.2,326.8h1.4M367.2,330.2h1.4M374.7,328.6V333.7M374.0,328.6h1.4M374.0,333.7h1.4M381.4,334.2V337.6M380.7,334.2h1.4M380.7,337.6h1.4" stroke="#5b2b84" stroke-width="0.5" fill="none"/>
<polyline points="313.8,322.8 315.7,322.8 317.6,322.8 319.5,322.8 321.4,322.8 323.2,322.8 325.1,322.8 327.0,322.8 328.9,322.8 330.7,322.8 332.6,322.8 334.5,322.8 336.4,322.8 338.2,322.8 340.1,322.8 342.0,322.8 343.9,322.8 345.8,322.8 347.6,322.9 349.5,322.9 351.4,322.9 353.3,323.0 355.1,323.1 357.0,323.2 358.9,323.4 360.8,323.6 362.7,324.0 364.5,324.5 366.4,325.3 368.3,326.3 370.2,327.8 372.0,329.6 373.9,332.0 375.8,334.9 377.7,338.1 379.5,341.5 381.4,344.8" fill="none" stroke="#e1258c" stroke-width="0.85"/>
<circle cx="313.8" cy="324.5" r="0.95" fill="#e1258c"/>
<circle cx="320.6" cy="322.2" r="0.95" fill="#e1258c"/>
<circle cx="327.4" cy="323.5" r="0.95" fill="#e1258c"/>
<circle cx="334.1" cy="321.8" r="0.95" fill="#e1258c"/>
<circle cx="340.9" cy="324.3" r="0.95" fill="#e1258c"/>
<circle cx="347.6" cy="323.2" r="0.95" fill="#e1258c"/>
<circle cx="354.4" cy="322.5" r="0.95" fill="#e1258c"/>
<circle cx="361.1" cy="324.9" r="0.95" fill="#e1258c"/>
<circle cx="367.9" cy="326.4" r="0.95" fill="#e1258c"/>
<circle cx="374.7" cy="333.8" r="0.95" fill="#e1258c"/>
<circle cx="381.4" cy="345.5" r="0.95" fill="#e1258c"/>
<path d="M313.8,322.9V326.1M313.1,322.9h1.4M313.1,326.1h1.4M320.6,320.9V323.5M319.9,320.9h1.4M319.9,323.5h1.4M327.4,322.1V324.8M326.7,322.1h1.4M326.7,324.8h1.4M334.1,319.8V323.7M333.4,319.8h1.4M333.4,323.7h1.4M340.9,323.2V325.5M340.2,323.2h1.4M340.2,325.5h1.4M347.6,321.3V325.2M346.9,321.3h1.4M346.9,325.2h1.4M354.4,321.4V323.7M353.7,321.4h1.4M353.7,323.7h1.4M361.1,322.6V327.1M360.4,322.6h1.4M360.4,327.1h1.4M367.9,324.9V327.9M367.2,324.9h1.4M367.2,327.9h1.4M374.7,331.1V336.5M374.0,331.1h1.4M374.0,336.5h1.4M381.4,343.5V347.5M380.7,343.5h1.4M380.7,347.5h1.4" stroke="#e1258c" stroke-width="0.5" fill="none"/>
<polyline points="313.8,322.5 315.7,322.5 317.6,322.5 319.5,322.5 321.4,322.5 323.2,322.5 325.1,322.5 327.0,322.5 328.9,322.5 330.7,322.5 332.6,322.5 334.5,322.5 336.4,322.5 338.2,322.5 340.1,322.5 342.0,322.5 343.9,322.5 345.8,322.5 347.6,322.5 349.5,322.5 351.4,322.5 353.3,322.6 355.1,322.7 357.0,322.8 358.9,323.1 360.8,323.4 362.7,324.0 364.5,324.7 366.4,325.4 368.3,326.1 370.2,326.7 372.0,327.1 373.9,327.3 375.8,327.5 377.7,327.6 379.5,327.6 381.4,327.6" fill="none" stroke="#b8183f" stroke-width="0.85"/>
<circle cx="313.8" cy="323.0" r="0.95" fill="#b8183f"/>
<circle cx="320.6" cy="321.2" r="0.95" fill="#b8183f"/>
<circle cx="327.4" cy="322.9" r="0.95" fill="#b8183f"/>
<circle cx="334.1" cy="321.7" r="0.95" fill="#b8183f"/>
<circle cx="340.9" cy="324.2" r="0.95" fill="#b8183f"/>
<circle cx="347.6" cy="322.7" r="0.95" fill="#b8183f"/>
<circle cx="354.4" cy="322.9" r="0.95" fill="#b8183f"/>
<circle cx="361.1" cy="323.7" r="0.95" fill="#b8183f"/>
<circle cx="367.9" cy="327.7" r="0.95" fill="#b8183f"/>
<circle cx="374.7" cy="326.9" r="0.95" fill="#b8183f"/>
<circle cx="381.4" cy="329.1" r="0.95" fill="#b8183f"/>
<path d="M313.8,321.2V324.7M313.1,321.2h1.4M313.1,324.7h1.4M320.6,318.4V324.0M319.9,318.4h1.4M319.9,324.0h1.4M327.4,321.6V324.3M326.7,321.6h1.4M326.7,324.3h1.4M334.1,320.3V323.0M333.4,320.3h1.4M333.4,323.0h1.4M340.9,321.6V326.8M340.2,321.6h1.4M340.2,326.8h1.4M347.6,320.3V325.2M346.9,320.3h1.4M346.9,325.2h1.4M354.4,320.4V325.5M353.7,320.4h1.4M353.7,325.5h1.4M361.1,322.4V324.9M360.4,322.4h1.4M360.4,324.9h1.4M367.9,325.7V329.7M367.2,325.7h1.4M367.2,329.7h1.4M374.7,324.3V329.5M374.0,324.3h1.4M374.0,329.5h1.4M381.4,327.0V331.2M380.7,327.0h1.4M380.7,331.2h1.4" stroke="#b8183f" stroke-width="0.5" fill="none"/>
<polyline points="313.8,326.3 315.7,326.3 317.6,326.3 319.5,326.3 321.4,326.3 323.2,326.3 325.1,326.3 327.0,326.3 328.9,326.3 330.7,326.3 332.6,326.3 334.5,326.3 336.4,326.3 338.2,326.3 340.1,326.3 342.0,326.3 343.9,326.3 345.8,326.4 347.6,326.4 349.5,326.4 351.4,326.4 353.3,326.5 355.1,326.5 357.0,326.6 358.9,326.7 360.8,326.8 362.7,326.9 364.5,327.1 366.4,327.3 368.3,327.6 370.2,328.0 372.0,328.4 373.9,329.0 375.8,329.6 377.7,330.5 379.5,331.5 381.4,332.6" fill="none" stroke="#26418f" stroke-width="0.85"/>
<circle cx="313.8" cy="326.7" r="0.95" fill="#26418f"/>
<circle cx="320.6" cy="327.5" r="0.95" fill="#26418f"/>
<circle cx="327.4" cy="326.2" r="0.95" fill="#26418f"/>
<circle cx="334.1" cy="327.7" r="0.95" fill="#26418f"/>
<circle cx="340.9" cy="325.3" r="0.95" fill="#26418f"/>
<circle cx="347.6" cy="327.4" r="0.95" fill="#26418f"/>
<circle cx="354.4" cy="325.0" r="0.95" fill="#26418f"/>
<circle cx="361.1" cy="326.9" r="0.95" fill="#26418f"/>
<circle cx="367.9" cy="326.1" r="0.95" fill="#26418f"/>
<circle cx="374.7" cy="327.8" r="0.95" fill="#26418f"/>
<circle cx="381.4" cy="331.5" r="0.95" fill="#26418f"/>
<path d="M313.8,324.8V328.6M313.1,324.8h1.4M313.1,328.6h1.4M320.6,326.0V329.0M319.9,326.0h1.4M319.9,329.0h1.4M327.4,323.6V328.9M326.7,323.6h1.4M326.7,328.9h1.4M334.1,325.8V329.5M333.4,325.8h1.4M333.4,329.5h1.4M340.9,322.5V328.0M340.2,322.5h1.4M340.2,328.0h1.4M347.6,326.2V328.6M346.9,326.2h1.4M346.9,328.6h1.4M354.4,322.2V327.7M353.7,322.2h1.4M353.7,327.7h1.4M361.1,325.8V327.9M360.4,325.8h1.4M360.4,327.9h1.4M367.9,324.4V327.7M367.2,324.4h1.4M367.2,327.7h1.4M374.7,325.7V329.9M374.0,325.7h1.4M374.0,329.9h1.4M381.4,330.2V332.8M380.7,330.2h1.4M380.7,332.8h1.4" stroke="#26418f" stroke-width="0.5" fill="none"/>
<line x1="309.60" y1="303.10" x2="309.60" y2="358.80" stroke="#000" stroke-width="1.05" />
<line x1="309.10" y1="358.30" x2="391.00" y2="358.30" stroke="#000" stroke-width="1.05" />
<line x1="307.20" y1="358.30" x2="309.60" y2="358.30" stroke="#000" stroke-width="0.7" />
<text x="303.60" y="360.70" font-size="7.76" stroke="#231f20" stroke-width="0.1" text-anchor="end">0</text>
<line x1="307.20" y1="340.90" x2="309.60" y2="340.90" stroke="#000" stroke-width="0.7" />
<text x="303.60" y="343.30" font-size="7.76" stroke="#231f20" stroke-width="0.1" text-anchor="end">50</text>
<line x1="307.20" y1="323.50" x2="309.60" y2="323.50" stroke="#000" stroke-width="0.7" />
<text x="303.60" y="325.90" font-size="7.76" stroke="#231f20" stroke-width="0.1" text-anchor="end">100</text>
<line x1="307.20" y1="306.10" x2="309.60" y2="306.10" stroke="#000" stroke-width="0.7" />
<text x="303.60" y="308.50" font-size="7.76" stroke="#231f20" stroke-width="0.1" text-anchor="end">150</text>
<line x1="320.60" y1="358.30" x2="320.60" y2="360.50" stroke="#000" stroke-width="0.7" />
<text x="320.60" y="371.40" font-size="7.76" stroke="#231f20" stroke-width="0.1" text-anchor="middle">0.1</text>
<line x1="343.05" y1="358.30" x2="343.05" y2="360.50" stroke="#000" stroke-width="0.7" />
<text x="343.05" y="371.40" font-size="7.76" stroke="#231f20" stroke-width="0.1" text-anchor="middle">1</text>
<line x1="365.50" y1="358.30" x2="365.50" y2="360.50" stroke="#000" stroke-width="0.7" />
<text x="365.50" y="371.40" font-size="7.76" stroke="#231f20" stroke-width="0.1" text-anchor="middle">10</text>
<line x1="387.95" y1="358.30" x2="387.95" y2="360.50" stroke="#000" stroke-width="0.7" />
<text x="387.95" y="371.40" font-size="7.76" stroke="#231f20" stroke-width="0.1" text-anchor="middle">100</text>
<line x1="311.67" y1="358.30" x2="311.67" y2="359.50" stroke="#000" stroke-width="0.45" />
<line x1="313.84" y1="358.30" x2="313.84" y2="359.50" stroke="#000" stroke-width="0.45" />
<line x1="315.62" y1="358.30" x2="315.62" y2="359.50" stroke="#000" stroke-width="0.45" />
<line x1="317.12" y1="358.30" x2="317.12" y2="359.50" stroke="#000" stroke-width="0.45" />
<line x1="318.42" y1="358.30" x2="318.42" y2="359.50" stroke="#000" stroke-width="0.45" />
<line x1="319.57" y1="358.30" x2="319.57" y2="359.50" stroke="#000" stroke-width="0.45" />
<line x1="327.36" y1="358.30" x2="327.36" y2="359.50" stroke="#000" stroke-width="0.45" />
<line x1="331.31" y1="358.30" x2="331.31" y2="359.50" stroke="#000" stroke-width="0.45" />
<line x1="334.12" y1="358.30" x2="334.12" y2="359.50" stroke="#000" stroke-width="0.45" />
<line x1="336.29" y1="358.30" x2="336.29" y2="359.50" stroke="#000" stroke-width="0.45" />
<line x1="338.07" y1="358.30" x2="338.07" y2="359.50" stroke="#000" stroke-width="0.45" />
<line x1="339.57" y1="358.30" x2="339.57" y2="359.50" stroke="#000" stroke-width="0.45" />
<line x1="340.87" y1="358.30" x2="340.87" y2="359.50" stroke="#000" stroke-width="0.45" />
<line x1="342.02" y1="358.30" x2="342.02" y2="359.50" stroke="#000" stroke-width="0.45" />
<line x1="349.81" y1="358.30" x2="349.81" y2="359.50" stroke="#000" stroke-width="0.45" />
<line x1="353.76" y1="358.30" x2="353.76" y2="359.50" stroke="#000" stroke-width="0.45" />
<line x1="356.57" y1="358.30" x2="356.57" y2="359.50" stroke="#000" stroke-width="0.45" />
<line x1="358.74" y1="358.30" x2="358.74" y2="359.50" stroke="#000" stroke-width="0.45" />
<line x1="360.52" y1="358.30" x2="360.52" y2="359.50" stroke="#000" stroke-width="0.45" />
<line x1="362.02" y1="358.30" x2="362.02" y2="359.50" stroke="#000" stroke-width="0.45" />
<line x1="363.32" y1="358.30" x2="363.32" y2="359.50" stroke="#000" stroke-width="0.45" />
<line x1="364.47" y1="358.30" x2="364.47" y2="359.50" stroke="#000" stroke-width="0.45" />
<line x1="372.26" y1="358.30" x2="372.26" y2="359.50" stroke="#000" stroke-width="0.45" />
<line x1="376.21" y1="358.30" x2="376.21" y2="359.50" stroke="#000" stroke-width="0.45" />
<line x1="379.02" y1="358.30" x2="379.02" y2="359.50" stroke="#000" stroke-width="0.45" />
<line x1="381.19" y1="358.30" x2="381.19" y2="359.50" stroke="#000" stroke-width="0.45" />
<line x1="382.97" y1="358.30" x2="382.97" y2="359.50" stroke="#000" stroke-width="0.45" />
<line x1="384.47" y1="358.30" x2="384.47" y2="359.50" stroke="#000" stroke-width="0.45" />
<line x1="385.77" y1="358.30" x2="385.77" y2="359.50" stroke="#000" stroke-width="0.45" />
<line x1="386.92" y1="358.30" x2="386.92" y2="359.50" stroke="#000" stroke-width="0.45" />
<text x="350.50" y="297.80" font-size="8.66" textLength="72.44" lengthAdjust="spacingAndGlyphs" stroke="#231f20" stroke-width="0.1" text-anchor="middle">CA-4948 (IRAK4)</text>
<polyline points="426.7,325.3 428.7,325.4 430.8,325.4 432.8,325.5 434.8,325.6 436.9,325.7 438.9,325.8 440.9,326.0 443.0,326.2 445.0,326.6 447.0,327.0 449.1,327.5 451.1,328.2 453.1,329.0 455.1,330.0 457.2,331.3 459.2,332.7 461.2,334.3 463.3,336.1 465.3,338.0 467.3,339.9 469.4,341.7 471.4,343.4 473.4,344.9 475.5,346.2 477.5,347.3 479.5,348.2 481.6,348.9 483.6,349.5 485.6,349.9 487.7,350.2 489.7,350.5 491.7,350.7 493.8,350.9 495.8,351.0 497.8,351.1 499.9,351.1" fill="none" stroke="#b7cb8f" stroke-width="0.85"/>
<circle cx="426.7" cy="324.5" r="0.95" fill="#b7cb8f"/>
<circle cx="434.0" cy="325.8" r="0.95" fill="#b7cb8f"/>
<circle cx="441.3" cy="325.1" r="0.95" fill="#b7cb8f"/>
<circle cx="448.6" cy="328.2" r="0.95" fill="#b7cb8f"/>
<circle cx="456.0" cy="330.5" r="0.95" fill="#b7cb8f"/>
<circle cx="463.3" cy="337.2" r="0.95" fill="#b7cb8f"/>
<circle cx="470.6" cy="342.1" r="0.95" fill="#b7cb8f"/>
<circle cx="477.9" cy="348.7" r="0.95" fill="#b7cb8f"/>
<circle cx="485.2" cy="349.1" r="0.95" fill="#b7cb8f"/>
<circle cx="492.5" cy="349.8" r="0.95" fill="#b7cb8f"/>
<circle cx="499.9" cy="350.9" r="0.95" fill="#b7cb8f"/>
<path d="M426.7,323.5V325.6M426.0,323.5h1.4M426.0,325.6h1.4M434.0,323.9V327.7M433.3,323.9h1.4M433.3,327.7h1.4M441.3,324.1V326.1M440.6,324.1h1.4M440.6,326.1h1.4M448.6,326.9V329.4M447.9,326.9h1.4M447.9,329.4h1.4M456.0,329.2V331.7M455.3,329.2h1.4M455.3,331.7h1.4M463.3,336.1V338.2M462.6,336.1h1.4M462.6,338.2h1.4M470.6,340.1V344.0M469.9,340.1h1.4M469.9,344.0h1.4M477.9,347.2V350.2M477.2,347.2h1.4M477.2,350.2h1.4M485.2,348.3V349.9M484.5,348.3h1.4M484.5,349.9h1.4M492.5,349.0V350.7M491.8,349.0h1.4M491.8,350.7h1.4M499.9,349.4V352.3M499.2,349.4h1.4M499.2,352.3h1.4" stroke="#b7cb8f" stroke-width="0.5" fill="none"/>
<polyline points="426.7,325.6 428.7,325.6 430.8,325.7 432.8,325.9 434.8,326.0 436.9,326.2 438.9,326.5 440.9,326.7 443.0,327.1 445.0,327.5 447.0,328.0 449.1,328.6 451.1,329.3 453.1,330.1 455.1,331.0 457.2,332.0 459.2,333.0 461.2,334.1 463.3,335.2 465.3,336.3 467.3,337.3 469.4,338.3 471.4,339.2 473.4,340.1 475.5,340.8 477.5,341.4 479.5,341.9 481.6,342.4 483.6,342.8 485.6,343.1 487.7,343.3 489.7,343.5 491.7,343.7 493.8,343.8 495.8,344.0 497.8,344.0 499.9,344.1" fill="none" stroke="#9a93d8" stroke-width="0.85"/>
<circle cx="426.7" cy="325.1" r="0.95" fill="#9a93d8"/>
<circle cx="434.0" cy="326.2" r="0.95" fill="#9a93d8"/>
<circle cx="441.3" cy="327.1" r="0.95" fill="#9a93d8"/>
<circle cx="448.6" cy="328.7" r="0.95" fill="#9a93d8"/>
<circle cx="456.0" cy="333.0" r="0.95" fill="#9a93d8"/>
<circle cx="463.3" cy="335.2" r="0.95" fill="#9a93d8"/>
<circle cx="470.6" cy="338.0" r="0.95" fill="#9a93d8"/>
<circle cx="477.9" cy="341.7" r="0.95" fill="#9a93d8"/>
<circle cx="485.2" cy="343.1" r="0.95" fill="#9a93d8"/>
<circle cx="492.5" cy="345.1" r="0.95" fill="#9a93d8"/>
<circle cx="499.9" cy="345.5" r="0.95" fill="#9a93d8"/>
<path d="M426.7,323.2V327.0M426.0,323.2h1.4M426.0,327.0h1.4M434.0,323.7V328.8M433.3,323.7h1.4M433.3,328.8h1.4M441.3,324.4V329.8M440.6,324.4h1.4M440.6,329.8h1.4M448.6,326.5V330.9M447.9,326.5h1.4M447.9,330.9h1.4M456.0,330.4V335.6M455.3,330.4h1.4M455.3,335.6h1.4M463.3,333.5V337.0M462.6,333.5h1.4M462.6,337.0h1.4M470.6,335.0V340.9M469.9,335.0h1.4M469.9,340.9h1.4M477.9,340.0V343.3M477.2,340.0h1.4M477.2,343.3h1.4M485.2,341.7V344.6M484.5,341.7h1.4M484.5,344.6h1.4M492.5,342.9V347.2M491.8,342.9h1.4M491.8,347.2h1.4M499.9,343.3V347.7M499.2,343.3h1.4M499.2,347.7h1.4" stroke="#9a93d8" stroke-width="0.5" fill="none"/>
<polyline points="426.7,325.4 428.7,325.6 430.8,325.8 432.8,326.0 434.8,326.4 436.9,326.9 438.9,327.4 440.9,328.2 443.0,329.0 445.0,330.1 447.0,331.3 449.1,332.7 451.1,334.1 453.1,335.7 455.1,337.2 457.2,338.6 459.2,340.0 461.2,341.1 463.3,342.2 465.3,343.0 467.3,343.7 469.4,344.3 471.4,344.7 473.4,345.0 475.5,345.3 477.5,345.5 479.5,345.6 481.6,345.8 483.6,345.9 485.6,345.9 487.7,346.0 489.7,346.0 491.7,346.0 493.8,346.1 495.8,346.1 497.8,346.1 499.9,346.1" fill="none" stroke="#f2911e" stroke-width="0.85"/>
<circle cx="426.7" cy="325.4" r="0.95" fill="#f2911e"/>
<circle cx="434.0" cy="325.9" r="0.95" fill="#f2911e"/>
<circle cx="441.3" cy="327.7" r="0.95" fill="#f2911e"/>
<circle cx="448.6" cy="332.3" r="0.95" fill="#f2911e"/>
<circle cx="456.0" cy="337.8" r="0.95" fill="#f2911e"/>
<circle cx="463.3" cy="340.9" r="0.95" fill="#f2911e"/>
<circle cx="470.6" cy="343.5" r="0.95" fill="#f2911e"/>
<circle cx="477.9" cy="344.9" r="0.95" fill="#f2911e"/>
<circle cx="485.2" cy="346.8" r="0.95" fill="#f2911e"/>
<circle cx="492.5" cy="346.1" r="0.95" fill="#f2911e"/>
<circle cx="499.9" cy="344.9" r="0.95" fill="#f2911e"/>
<path d="M426.7,324.3V326.4M426.0,324.3h1.4M426.0,326.4h1.4M434.0,324.7V327.0M433.3,324.7h1.4M433.3,327.0h1.4M441.3,325.3V330.0M440.6,325.3h1.4M440.6,330.0h1.4M448.6,331.3V333.4M447.9,331.3h1.4M447.9,333.4h1.4M456.0,336.1V339.4M455.3,336.1h1.4M455.3,339.4h1.4M463.3,339.7V342.1M462.6,339.7h1.4M462.6,342.1h1.4M470.6,340.8V346.3M469.9,340.8h1.4M469.9,346.3h1.4M477.9,342.4V347.3M477.2,342.4h1.4M477.2,347.3h1.4M485.2,344.0V349.5M484.5,344.0h1.4M484.5,349.5h1.4M492.5,343.4V348.8M491.8,343.4h1.4M491.8,348.8h1.4M499.9,343.7V346.2M499.2,343.7h1.4M499.2,346.2h1.4" stroke="#f2911e" stroke-width="0.5" fill="none"/>
<polyline points="426.7,324.2 428.7,324.3 430.8,324.3 432.8,324.4 434.8,324.4 436.9,324.6 438.9,324.7 440.9,325.0 443.0,325.3 445.0,325.8 447.0,326.5 449.1,327.5 451.1,328.8 453.1,330.6 455.1,332.8 457.2,335.4 459.2,338.5 461.2,341.6 463.3,344.7 465.3,347.6 467.3,350.0 469.4,351.9 471.4,353.4 473.4,354.6 475.5,355.4 477.5,355.9 479.5,356.4 481.6,356.6 483.6,356.8 485.6,357.0 487.7,357.1 489.7,357.1 491.7,357.2 493.8,357.2 495.8,357.2 497.8,357.2 499.9,357.2" fill="none" stroke="#69b34c" stroke-width="0.85"/>
<circle cx="426.7" cy="323.4" r="0.95" fill="#69b34c"/>
<circle cx="434.0" cy="325.6" r="0.95" fill="#69b34c"/>
<circle cx="441.3" cy="324.3" r="0.95" fill="#69b34c"/>
<circle cx="448.6" cy="326.2" r="0.95" fill="#69b34c"/>
<circle cx="456.0" cy="332.9" r="0.95" fill="#69b34c"/>
<circle cx="463.3" cy="344.7" r="0.95" fill="#69b34c"/>
<circle cx="470.6" cy="353.7" r="0.95" fill="#69b34c"/>
<circle cx="477.9" cy="356.0" r="0.95" fill="#69b34c"/>
<circle cx="485.2" cy="358.2" r="0.95" fill="#69b34c"/>
<circle cx="492.5" cy="358.1" r="0.95" fill="#69b34c"/>
<circle cx="499.9" cy="356.7" r="0.95" fill="#69b34c"/>
<path d="M426.7,320.8V326.1M426.0,320.8h1.4M426.0,326.1h1.4M434.0,324.0V327.2M433.3,324.0h1.4M433.3,327.2h1.4M441.3,323.0V325.6M440.6,323.0h1.4M440.6,325.6h1.4M448.6,324.7V327.6M447.9,324.7h1.4M447.9,327.6h1.4M456.0,331.7V334.2M455.3,331.7h1.4M455.3,334.2h1.4M463.3,342.1V347.4M462.6,342.1h1.4M462.6,347.4h1.4M470.6,353.2V354.2M469.9,353.2h1.4M469.9,354.2h1.4M477.9,355.5V356.6M477.2,355.5h1.4M477.2,356.6h1.4M485.2,357.8V358.7M484.5,357.8h1.4M484.5,358.7h1.4M492.5,357.2V359.1M491.8,357.2h1.4M491.8,359.1h1.4M499.9,355.8V357.6M499.2,355.8h1.4M499.2,357.6h1.4" stroke="#69b34c" stroke-width="0.5" fill="none"/>
<polyline points="426.7,325.3 428.7,325.3 430.8,325.3 432.8,325.3 434.8,325.4 436.9,325.4 438.9,325.5 440.9,325.7 443.0,325.9 445.0,326.2 447.0,326.6 449.1,327.2 451.1,328.0 453.1,329.1 455.1,330.6 457.2,332.4 459.2,334.6 461.2,337.1 463.3,339.7 465.3,342.2 467.3,344.5 469.4,346.5 471.4,348.1 473.4,349.3 475.5,350.2 477.5,350.9 479.5,351.3 481.6,351.7 483.6,351.9 485.6,352.0 487.7,352.2 489.7,352.2 491.7,352.3 493.8,352.3 495.8,352.3 497.8,352.3 499.9,352.4" fill="none" stroke="#b8183f" stroke-width="0.85"/>
<circle cx="426.7" cy="326.2" r="0.95" fill="#b8183f"/>
<circle cx="434.0" cy="326.4" r="0.95" fill="#b8183f"/>
<circle cx="441.3" cy="325.3" r="0.95" fill="#b8183f"/>
<circle cx="448.6" cy="326.0" r="0.95" fill="#b8183f"/>
<circle cx="456.0" cy="331.0" r="0.95" fill="#b8183f"/>
<circle cx="463.3" cy="340.8" r="0.95" fill="#b8183f"/>
<circle cx="470.6" cy="347.1" r="0.95" fill="#b8183f"/>
<circle cx="477.9" cy="350.1" r="0.95" fill="#b8183f"/>
<circle cx="485.2" cy="350.7" r="0.95" fill="#b8183f"/>
<circle cx="492.5" cy="352.7" r="0.95" fill="#b8183f"/>
<circle cx="499.9" cy="352.5" r="0.95" fill="#b8183f"/>
<path d="M426.7,323.8V328.6M426.0,323.8h1.4M426.0,328.6h1.4M434.0,324.5V328.4M433.3,324.5h1.4M433.3,328.4h1.4M441.3,323.7V327.0M440.6,323.7h1.4M440.6,327.0h1.4M448.6,324.0V328.0M447.9,324.0h1.4M447.9,328.0h1.4M456.0,328.5V333.6M455.3,328.5h1.4M455.3,333.6h1.4M463.3,338.0V343.6M462.6,338.0h1.4M462.6,343.6h1.4M470.6,345.4V348.8M469.9,345.4h1.4M469.9,348.8h1.4M477.9,348.7V351.6M477.2,348.7h1.4M477.2,351.6h1.4M485.2,348.6V352.7M484.5,348.6h1.4M484.5,352.7h1.4M492.5,350.3V355.0M491.8,350.3h1.4M491.8,355.0h1.4M499.9,351.2V353.8M499.2,351.2h1.4M499.2,353.8h1.4" stroke="#b8183f" stroke-width="0.5" fill="none"/>
<polyline points="426.7,325.3 428.7,325.3 430.8,325.3 432.8,325.3 434.8,325.4 436.9,325.4 438.9,325.5 440.9,325.6 443.0,325.8 445.0,326.1 447.0,326.5 449.1,327.0 451.1,327.8 453.1,328.8 455.1,330.2 457.2,331.9 459.2,334.0 461.2,336.5 463.3,339.2 465.3,341.8 467.3,344.3 469.4,346.4 471.4,348.2 473.4,349.5 475.5,350.6 477.5,351.3 479.5,351.9 481.6,352.2 483.6,352.5 485.6,352.7 487.7,352.8 489.7,352.9 491.7,353.0 493.8,353.0 495.8,353.0 497.8,353.0 499.9,353.1" fill="none" stroke="#e1258c" stroke-width="0.85"/>
<circle cx="426.7" cy="324.6" r="0.95" fill="#e1258c"/>
<circle cx="434.0" cy="324.5" r="0.95" fill="#e1258c"/>
<circle cx="441.3" cy="325.3" r="0.95" fill="#e1258c"/>
<circle cx="448.6" cy="326.6" r="0.95" fill="#e1258c"/>
<circle cx="456.0" cy="331.3" r="0.95" fill="#e1258c"/>
<circle cx="463.3" cy="340.5" r="0.95" fill="#e1258c"/>
<circle cx="470.6" cy="347.2" r="0.95" fill="#e1258c"/>
<circle cx="477.9" cy="351.4" r="0.95" fill="#e1258c"/>
<circle cx="485.2" cy="353.7" r="0.95" fill="#e1258c"/>
<circle cx="492.5" cy="352.5" r="0.95" fill="#e1258c"/>
<circle cx="499.9" cy="354.4" r="0.95" fill="#e1258c"/>
<path d="M426.7,323.5V325.7M426.0,323.5h1.4M426.0,325.7h1.4M434.0,323.0V325.9M433.3,323.0h1.4M433.3,325.9h1.4M441.3,322.5V328.0M440.6,322.5h1.4M440.6,328.0h1.4M448.6,324.5V328.8M447.9,324.5h1.4M447.9,328.8h1.4M456.0,330.4V332.3M455.3,330.4h1.4M455.3,332.3h1.4M463.3,339.2V341.7M462.6,339.2h1.4M462.6,341.7h1.4M470.6,345.4V348.9M469.9,345.4h1.4M469.9,348.9h1.4M477.9,348.8V354.0M477.2,348.8h1.4M477.2,354.0h1.4M485.2,353.2V354.2M484.5,353.2h1.4M484.5,354.2h1.4M492.5,351.5V353.6M491.8,351.5h1.4M491.8,353.6h1.4M499.9,353.9V355.0M499.2,353.9h1.4M499.2,355.0h1.4" stroke="#e1258c" stroke-width="0.5" fill="none"/>
<polyline points="426.7,326.6 428.7,327.0 430.8,327.6 432.8,328.3 434.8,329.1 436.9,330.2 438.9,331.6 440.9,333.2 443.0,335.0 445.0,337.0 447.0,339.3 449.1,341.5 451.1,343.8 453.1,345.9 455.1,347.9 457.2,349.7 459.2,351.1 461.2,352.4 463.3,353.4 465.3,354.2 467.3,354.8 469.4,355.3 471.4,355.7 473.4,356.0 475.5,356.2 477.5,356.4 479.5,356.5 481.6,356.6 483.6,356.7 485.6,356.7 487.7,356.8 489.7,356.8 491.7,356.8 493.8,356.9 495.8,356.9 497.8,356.9 499.9,356.9" fill="none" stroke="#5b2b84" stroke-width="0.85"/>
<circle cx="426.7" cy="327.7" r="0.95" fill="#5b2b84"/>
<circle cx="434.0" cy="329.5" r="0.95" fill="#5b2b84"/>
<circle cx="441.3" cy="333.3" r="0.95" fill="#5b2b84"/>
<circle cx="448.6" cy="340.7" r="0.95" fill="#5b2b84"/>
<circle cx="456.0" cy="349.7" r="0.95" fill="#5b2b84"/>
<circle cx="463.3" cy="354.1" r="0.95" fill="#5b2b84"/>
<circle cx="470.6" cy="356.7" r="0.95" fill="#5b2b84"/>
<circle cx="477.9" cy="355.4" r="0.95" fill="#5b2b84"/>
<circle cx="485.2" cy="357.0" r="0.95" fill="#5b2b84"/>
<circle cx="492.5" cy="358.2" r="0.95" fill="#5b2b84"/>
<circle cx="499.9" cy="356.7" r="0.95" fill="#5b2b84"/>
<path d="M426.7,326.1V329.3M426.0,326.1h1.4M426.0,329.3h1.4M434.0,327.5V331.6M433.3,327.5h1.4M433.3,331.6h1.4M441.3,331.9V334.6M440.6,331.9h1.4M440.6,334.6h1.4M448.6,338.9V342.6M447.9,338.9h1.4M447.9,342.6h1.4M456.0,347.0V352.3M455.3,347.0h1.4M455.3,352.3h1.4M463.3,353.7V354.5M462.6,353.7h1.4M462.6,354.5h1.4M470.6,355.9V357.4M469.9,355.9h1.4M469.9,357.4h1.4M477.9,354.6V356.2M477.2,354.6h1.4M477.2,356.2h1.4M485.2,356.5V357.5M484.5,356.5h1.4M484.5,357.5h1.4M492.5,357.5V359.0M491.8,357.5h1.4M491.8,359.0h1.4M499.9,356.1V357.3M499.2,356.1h1.4M499.2,357.3h1.4" stroke="#5b2b84" stroke-width="0.5" fill="none"/>
<polyline points="426.7,326.5 428.7,326.6 430.8,326.6 432.8,326.7 434.8,326.8 436.9,326.9 438.9,327.1 440.9,327.3 443.0,327.5 445.0,327.8 447.0,328.2 449.1,328.6 451.1,329.1 453.1,329.7 455.1,330.3 457.2,331.0 459.2,331.8 461.2,332.7 463.3,333.5 465.3,334.4 467.3,335.3 469.4,336.1 471.4,336.9 473.4,337.6 475.5,338.3 477.5,338.8 479.5,339.3 481.6,339.7 483.6,340.1 485.6,340.4 487.7,340.6 489.7,340.8 491.7,341.0 493.8,341.1 495.8,341.2 497.8,341.3 499.9,341.3" fill="none" stroke="#26418f" stroke-width="0.85"/>
<circle cx="426.7" cy="326.0" r="0.95" fill="#26418f"/>
<circle cx="434.0" cy="325.2" r="0.95" fill="#26418f"/>
<circle cx="441.3" cy="328.2" r="0.95" fill="#26418f"/>
<circle cx="448.6" cy="330.1" r="0.95" fill="#26418f"/>
<circle cx="456.0" cy="330.9" r="0.95" fill="#26418f"/>
<circle cx="463.3" cy="335.1" r="0.95" fill="#26418f"/>
<circle cx="470.6" cy="338.3" r="0.95" fill="#26418f"/>
<circle cx="477.9" cy="337.4" r="0.95" fill="#26418f"/>
<circle cx="485.2" cy="341.4" r="0.95" fill="#26418f"/>
<circle cx="492.5" cy="341.0" r="0.95" fill="#26418f"/>
<circle cx="499.9" cy="340.2" r="0.95" fill="#26418f"/>
<path d="M426.7,323.3V328.7M426.0,323.3h1.4M426.0,328.7h1.4M434.0,321.8V328.7M433.3,321.8h1.4M433.3,328.7h1.4M441.3,324.3V332.1M440.6,324.3h1.4M440.6,332.1h1.4M448.6,327.2V333.0M447.9,327.2h1.4M447.9,333.0h1.4M456.0,328.8V333.0M455.3,328.8h1.4M455.3,333.0h1.4M463.3,331.5V338.6M462.6,331.5h1.4M462.6,338.6h1.4M470.6,335.3V341.3M469.9,335.3h1.4M469.9,341.3h1.4M477.9,335.5V339.2M477.2,335.5h1.4M477.2,339.2h1.4M485.2,338.2V344.5M484.5,338.2h1.4M484.5,344.5h1.4M492.5,337.8V344.2M491.8,337.8h1.4M491.8,344.2h1.4M499.9,338.3V342.2M499.2,338.3h1.4M499.2,342.2h1.4" stroke="#26418f" stroke-width="0.5" fill="none"/>
<line x1="421.20" y1="303.10" x2="421.20" y2="358.80" stroke="#000" stroke-width="1.05" />
<line x1="420.70" y1="358.30" x2="502.00" y2="358.30" stroke="#000" stroke-width="1.05" />
<line x1="418.80" y1="358.30" x2="421.20" y2="358.30" stroke="#000" stroke-width="0.7" />
<text x="415.20" y="360.70" font-size="7.76" stroke="#231f20" stroke-width="0.1" text-anchor="end">0</text>
<line x1="418.80" y1="340.90" x2="421.20" y2="340.90" stroke="#000" stroke-width="0.7" />
<text x="415.20" y="343.30" font-size="7.76" stroke="#231f20" stroke-width="0.1" text-anchor="end">50</text>
<line x1="418.80" y1="323.50" x2="421.20" y2="323.50" stroke="#000" stroke-width="0.7" />
<text x="415.20" y="325.90" font-size="7.76" stroke="#231f20" stroke-width="0.1" text-anchor="end">100</text>
<line x1="418.80" y1="306.10" x2="421.20" y2="306.10" stroke="#000" stroke-width="0.7" />
<text x="415.20" y="308.50" font-size="7.76" stroke="#231f20" stroke-width="0.1" text-anchor="end">150</text>
<line x1="426.70" y1="358.30" x2="426.70" y2="360.50" stroke="#000" stroke-width="0.7" />
<text x="426.70" y="371.40" font-size="7.76" stroke="#231f20" stroke-width="0.1" text-anchor="middle">0.001</text>
<line x1="451.00" y1="358.30" x2="451.00" y2="360.50" stroke="#000" stroke-width="0.7" />
<text x="451.00" y="371.40" font-size="7.76" stroke="#231f20" stroke-width="0.1" text-anchor="middle">0.01</text>
<line x1="475.30" y1="358.30" x2="475.30" y2="360.50" stroke="#000" stroke-width="0.7" />
<text x="475.30" y="371.40" font-size="7.76" stroke="#231f20" stroke-width="0.1" text-anchor="middle">0.1</text>
<line x1="499.60" y1="358.30" x2="499.60" y2="360.50" stroke="#000" stroke-width="0.7" />
<text x="499.60" y="371.40" font-size="7.76" stroke="#231f20" stroke-width="0.1" text-anchor="middle">1</text>
<line x1="422.94" y1="358.30" x2="422.94" y2="359.50" stroke="#000" stroke-width="0.45" />
<line x1="424.35" y1="358.30" x2="424.35" y2="359.50" stroke="#000" stroke-width="0.45" />
<line x1="425.59" y1="358.30" x2="425.59" y2="359.50" stroke="#000" stroke-width="0.45" />
<line x1="434.02" y1="358.30" x2="434.02" y2="359.50" stroke="#000" stroke-width="0.45" />
<line x1="438.29" y1="358.30" x2="438.29" y2="359.50" stroke="#000" stroke-width="0.45" />
<line x1="441.33" y1="358.30" x2="441.33" y2="359.50" stroke="#000" stroke-width="0.45" />
<line x1="443.68" y1="358.30" x2="443.68" y2="359.50" stroke="#000" stroke-width="0.45" />
<line x1="445.61" y1="358.30" x2="445.61" y2="359.50" stroke="#000" stroke-width="0.45" />
<line x1="447.24" y1="358.30" x2="447.24" y2="359.50" stroke="#000" stroke-width="0.45" />
<line x1="448.65" y1="358.30" x2="448.65" y2="359.50" stroke="#000" stroke-width="0.45" />
<line x1="449.89" y1="358.30" x2="449.89" y2="359.50" stroke="#000" stroke-width="0.45" />
<line x1="458.32" y1="358.30" x2="458.32" y2="359.50" stroke="#000" stroke-width="0.45" />
<line x1="462.59" y1="358.30" x2="462.59" y2="359.50" stroke="#000" stroke-width="0.45" />
<line x1="465.63" y1="358.30" x2="465.63" y2="359.50" stroke="#000" stroke-width="0.45" />
<line x1="467.98" y1="358.30" x2="467.98" y2="359.50" stroke="#000" stroke-width="0.45" />
<line x1="469.91" y1="358.30" x2="469.91" y2="359.50" stroke="#000" stroke-width="0.45" />
<line x1="471.54" y1="358.30" x2="471.54" y2="359.50" stroke="#000" stroke-width="0.45" />
<line x1="472.95" y1="358.30" x2="472.95" y2="359.50" stroke="#000" stroke-width="0.45" />
<line x1="474.19" y1="358.30" x2="474.19" y2="359.50" stroke="#000" stroke-width="0.45" />
<line x1="482.62" y1="358.30" x2="482.62" y2="359.50" stroke="#000" stroke-width="0.45" />
<line x1="486.89" y1="358.30" x2="486.89" y2="359.50" stroke="#000" stroke-width="0.45" />
<line x1="489.93" y1="358.30" x2="489.93" y2="359.50" stroke="#000" stroke-width="0.45" />
<line x1="492.28" y1="358.30" x2="492.28" y2="359.50" stroke="#000" stroke-width="0.45" />
<line x1="494.21" y1="358.30" x2="494.21" y2="359.50" stroke="#000" stroke-width="0.45" />
<line x1="495.84" y1="358.30" x2="495.84" y2="359.50" stroke="#000" stroke-width="0.45" />
<line x1="497.25" y1="358.30" x2="497.25" y2="359.50" stroke="#000" stroke-width="0.45" />
<line x1="498.49" y1="358.30" x2="498.49" y2="359.50" stroke="#000" stroke-width="0.45" />
<text x="461.80" y="297.80" font-size="8.66" textLength="67.08" lengthAdjust="spacingAndGlyphs" stroke="#231f20" stroke-width="0.1" text-anchor="middle">INK128 (mTOR)</text>
<polyline points="313.8,418.1 315.9,418.1 318.0,418.1 320.0,418.1 322.1,418.1 324.2,418.1 326.3,418.1 328.4,418.1 330.5,418.2 332.5,418.2 334.6,418.2 336.7,418.3 338.8,418.6 340.9,419.0 342.9,420.0 345.0,421.9 347.1,425.3 349.2,430.5 351.3,436.8 353.4,442.5 355.4,446.5 357.5,448.8 359.6,450.1 361.7,450.7 363.8,451.0 365.9,451.1 367.9,451.1 370.0,451.2 372.1,451.2 374.2,451.2 376.3,451.2 378.3,451.2 380.4,451.2 382.5,451.2 384.6,451.2 386.7,451.2 388.8,451.2" fill="none" stroke="#9a93d8" stroke-width="0.85"/>
<circle cx="313.8" cy="418.7" r="0.95" fill="#9a93d8"/>
<circle cx="321.3" cy="419.4" r="0.95" fill="#9a93d8"/>
<circle cx="328.8" cy="417.4" r="0.95" fill="#9a93d8"/>
<circle cx="336.3" cy="419.7" r="0.95" fill="#9a93d8"/>
<circle cx="343.8" cy="419.9" r="0.95" fill="#9a93d8"/>
<circle cx="351.3" cy="436.1" r="0.95" fill="#9a93d8"/>
<circle cx="358.8" cy="450.4" r="0.95" fill="#9a93d8"/>
<circle cx="366.3" cy="451.5" r="0.95" fill="#9a93d8"/>
<circle cx="373.8" cy="451.5" r="0.95" fill="#9a93d8"/>
<circle cx="381.3" cy="450.7" r="0.95" fill="#9a93d8"/>
<circle cx="388.8" cy="450.6" r="0.95" fill="#9a93d8"/>
<path d="M313.8,417.5V419.8M313.1,417.5h1.4M313.1,419.8h1.4M321.3,417.5V421.3M320.6,417.5h1.4M320.6,421.3h1.4M328.8,415.7V419.1M328.1,415.7h1.4M328.1,419.1h1.4M336.3,417.8V421.6M335.6,417.8h1.4M335.6,421.6h1.4M343.8,418.6V421.3M343.1,418.6h1.4M343.1,421.3h1.4M351.3,434.8V437.5M350.6,434.8h1.4M350.6,437.5h1.4M358.8,450.1V450.7M358.1,450.1h1.4M358.1,450.7h1.4M366.3,451.3V451.8M365.6,451.3h1.4M365.6,451.8h1.4M373.8,450.9V452.2M373.1,450.9h1.4M373.1,452.2h1.4M381.3,450.0V451.3M380.6,450.0h1.4M380.6,451.3h1.4M388.8,450.2V451.0M388.1,450.2h1.4M388.1,451.0h1.4" stroke="#9a93d8" stroke-width="0.5" fill="none"/>
<polyline points="313.8,416.4 315.9,416.4 318.0,416.4 320.0,416.4 322.1,416.4 324.2,416.4 326.3,416.4 328.4,416.4 330.5,416.4 332.5,416.4 334.6,416.5 336.7,416.5 338.8,416.6 340.9,416.9 342.9,417.5 345.0,418.7 347.1,420.9 349.2,424.9 351.3,430.7 353.4,437.3 355.4,443.0 357.5,446.9 359.6,449.1 361.7,450.2 363.8,450.7 365.9,451.0 367.9,451.1 370.0,451.2 372.1,451.2 374.2,451.2 376.3,451.2 378.3,451.2 380.4,451.2 382.5,451.2 384.6,451.2 386.7,451.2 388.8,451.2" fill="none" stroke="#b7cb8f" stroke-width="0.85"/>
<circle cx="313.8" cy="416.3" r="0.95" fill="#b7cb8f"/>
<circle cx="321.3" cy="415.6" r="0.95" fill="#b7cb8f"/>
<circle cx="328.8" cy="417.1" r="0.95" fill="#b7cb8f"/>
<circle cx="336.3" cy="415.2" r="0.95" fill="#b7cb8f"/>
<circle cx="343.8" cy="416.8" r="0.95" fill="#b7cb8f"/>
<circle cx="351.3" cy="431.4" r="0.95" fill="#b7cb8f"/>
<circle cx="358.8" cy="447.7" r="0.95" fill="#b7cb8f"/>
<circle cx="366.3" cy="450.3" r="0.95" fill="#b7cb8f"/>
<circle cx="373.8" cy="450.1" r="0.95" fill="#b7cb8f"/>
<circle cx="381.3" cy="451.5" r="0.95" fill="#b7cb8f"/>
<circle cx="388.8" cy="450.8" r="0.95" fill="#b7cb8f"/>
<path d="M313.8,414.9V417.6M313.1,414.9h1.4M313.1,417.6h1.4M321.3,414.2V417.0M320.6,414.2h1.4M320.6,417.0h1.4M328.8,415.5V418.7M328.1,415.5h1.4M328.1,418.7h1.4M336.3,414.2V416.2M335.6,414.2h1.4M335.6,416.2h1.4M343.8,416.0V417.5M343.1,416.0h1.4M343.1,417.5h1.4M351.3,430.3V432.4M350.6,430.3h1.4M350.6,432.4h1.4M358.8,447.0V448.4M358.1,447.0h1.4M358.1,448.4h1.4M366.3,449.9V450.7M365.6,449.9h1.4M365.6,450.7h1.4M373.8,449.7V450.5M373.1,449.7h1.4M373.1,450.5h1.4M381.3,450.9V452.2M380.6,450.9h1.4M380.6,452.2h1.4M388.8,450.3V451.4M388.1,450.3h1.4M388.1,451.4h1.4" stroke="#b7cb8f" stroke-width="0.5" fill="none"/>
<polyline points="313.8,423.4 315.9,423.4 318.0,423.4 320.0,423.4 322.1,423.4 324.2,423.4 326.3,423.4 328.4,423.4 330.5,423.4 332.5,423.4 334.6,423.5 336.7,423.7 338.8,424.1 340.9,424.9 342.9,426.4 345.0,429.2 347.1,433.5 349.2,438.8 351.3,443.6 353.4,447.1 355.4,449.1 357.5,450.2 359.6,450.7 361.7,451.0 363.8,451.1 365.9,451.2 367.9,451.2 370.0,451.2 372.1,451.2 374.2,451.2 376.3,451.2 378.3,451.2 380.4,451.2 382.5,451.2 384.6,451.2 386.7,451.2 388.8,451.2" fill="none" stroke="#f2911e" stroke-width="0.85"/>
<circle cx="313.8" cy="423.0" r="0.95" fill="#f2911e"/>
<circle cx="321.3" cy="423.4" r="0.95" fill="#f2911e"/>
<circle cx="328.8" cy="423.0" r="0.95" fill="#f2911e"/>
<circle cx="336.3" cy="423.8" r="0.95" fill="#f2911e"/>
<circle cx="343.8" cy="427.2" r="0.95" fill="#f2911e"/>
<circle cx="351.3" cy="444.2" r="0.95" fill="#f2911e"/>
<circle cx="358.8" cy="451.4" r="0.95" fill="#f2911e"/>
<circle cx="366.3" cy="451.5" r="0.95" fill="#f2911e"/>
<circle cx="373.8" cy="451.5" r="0.95" fill="#f2911e"/>
<circle cx="381.3" cy="451.5" r="0.95" fill="#f2911e"/>
<circle cx="388.8" cy="451.5" r="0.95" fill="#f2911e"/>
<path d="M313.8,421.0V425.1M313.1,421.0h1.4M313.1,425.1h1.4M321.3,421.6V425.3M320.6,421.6h1.4M320.6,425.3h1.4M328.8,421.1V424.9M328.1,421.1h1.4M328.1,424.9h1.4M336.3,422.1V425.5M335.6,422.1h1.4M335.6,425.5h1.4M343.8,426.1V428.4M343.1,426.1h1.4M343.1,428.4h1.4M351.3,442.7V445.8M350.6,442.7h1.4M350.6,445.8h1.4M358.8,450.8V452.1M358.1,450.8h1.4M358.1,452.1h1.4M366.3,451.3V451.8M365.6,451.3h1.4M365.6,451.8h1.4M373.8,450.9V452.2M373.1,450.9h1.4M373.1,452.2h1.4M381.3,451.2V451.8M380.6,451.2h1.4M380.6,451.8h1.4M388.8,451.3V451.8M388.1,451.3h1.4M388.1,451.8h1.4" stroke="#f2911e" stroke-width="0.5" fill="none"/>
<polyline points="313.8,418.1 315.9,418.1 318.0,418.2 320.0,418.2 322.1,418.2 324.2,418.2 326.3,418.3 328.4,418.4 330.5,418.6 332.5,418.9 334.6,419.4 336.7,420.4 338.8,421.9 340.9,424.3 342.9,427.7 345.0,432.0 347.1,436.8 349.2,441.2 351.3,444.7 353.4,447.2 355.4,448.8 357.5,449.8 359.6,450.4 361.7,450.8 363.8,450.9 365.9,451.1 367.9,451.1 370.0,451.2 372.1,451.2 374.2,451.2 376.3,451.2 378.3,451.2 380.4,451.2 382.5,451.2 384.6,451.2 386.7,451.2 388.8,451.2" fill="none" stroke="#e1258c" stroke-width="0.85"/>
<circle cx="313.8" cy="417.6" r="0.95" fill="#e1258c"/>
<circle cx="321.3" cy="417.6" r="0.95" fill="#e1258c"/>
<circle cx="328.8" cy="419.6" r="0.95" fill="#e1258c"/>
<circle cx="336.3" cy="420.5" r="0.95" fill="#e1258c"/>
<circle cx="343.8" cy="428.4" r="0.95" fill="#e1258c"/>
<circle cx="351.3" cy="445.9" r="0.95" fill="#e1258c"/>
<circle cx="358.8" cy="449.1" r="0.95" fill="#e1258c"/>
<circle cx="366.3" cy="451.5" r="0.95" fill="#e1258c"/>
<circle cx="373.8" cy="451.5" r="0.95" fill="#e1258c"/>
<circle cx="381.3" cy="450.2" r="0.95" fill="#e1258c"/>
<circle cx="388.8" cy="450.8" r="0.95" fill="#e1258c"/>
<path d="M313.8,415.5V419.7M313.1,415.5h1.4M313.1,419.7h1.4M321.3,415.3V419.9M320.6,415.3h1.4M320.6,419.9h1.4M328.8,417.6V421.7M328.1,417.6h1.4M328.1,421.7h1.4M336.3,418.1V423.0M335.6,418.1h1.4M335.6,423.0h1.4M343.8,425.9V431.0M343.1,425.9h1.4M343.1,431.0h1.4M351.3,443.4V448.5M350.6,443.4h1.4M350.6,448.5h1.4M358.8,448.1V450.0M358.1,448.1h1.4M358.1,450.0h1.4M366.3,451.1V452.0M365.6,451.1h1.4M365.6,452.0h1.4M373.8,451.2V451.9M373.1,451.2h1.4M373.1,451.9h1.4M381.3,449.4V451.1M380.6,449.4h1.4M380.6,451.1h1.4M388.8,450.0V451.7M388.1,450.0h1.4M388.1,451.7h1.4" stroke="#e1258c" stroke-width="0.5" fill="none"/>
<polyline points="313.8,415.4 315.9,415.4 318.0,415.4 320.0,415.4 322.1,415.4 324.2,415.4 326.3,415.4 328.4,415.4 330.5,415.4 332.5,415.4 334.6,415.5 336.7,415.6 338.8,415.8 340.9,416.3 342.9,417.4 345.0,419.4 347.1,423.1 349.2,428.8 351.3,435.6 353.4,441.8 355.4,446.1 357.5,448.6 359.6,450.0 361.7,450.6 363.8,450.9 365.9,451.1 367.9,451.1 370.0,451.2 372.1,451.2 374.2,451.2 376.3,451.2 378.3,451.2 380.4,451.2 382.5,451.2 384.6,451.2 386.7,451.2 388.8,451.2" fill="none" stroke="#b8183f" stroke-width="0.85"/>
<circle cx="313.8" cy="414.9" r="0.95" fill="#b8183f"/>
<circle cx="321.3" cy="416.7" r="0.95" fill="#b8183f"/>
<circle cx="328.8" cy="414.5" r="0.95" fill="#b8183f"/>
<circle cx="336.3" cy="416.2" r="0.95" fill="#b8183f"/>
<circle cx="343.8" cy="419.7" r="0.95" fill="#b8183f"/>
<circle cx="351.3" cy="436.3" r="0.95" fill="#b8183f"/>
<circle cx="358.8" cy="450.0" r="0.95" fill="#b8183f"/>
<circle cx="366.3" cy="449.5" r="0.95" fill="#b8183f"/>
<circle cx="373.8" cy="450.0" r="0.95" fill="#b8183f"/>
<circle cx="381.3" cy="451.5" r="0.95" fill="#b8183f"/>
<circle cx="388.8" cy="451.4" r="0.95" fill="#b8183f"/>
<path d="M313.8,413.0V416.8M313.1,413.0h1.4M313.1,416.8h1.4M321.3,415.3V418.2M320.6,415.3h1.4M320.6,418.2h1.4M328.8,412.8V416.2M328.1,412.8h1.4M328.1,416.2h1.4M336.3,414.0V418.3M335.6,414.0h1.4M335.6,418.3h1.4M343.8,417.9V421.5M343.1,417.9h1.4M343.1,421.5h1.4M351.3,433.5V439.2M350.6,433.5h1.4M350.6,439.2h1.4M358.8,449.3V450.7M358.1,449.3h1.4M358.1,450.7h1.4M366.3,448.7V450.3M365.6,448.7h1.4M365.6,450.3h1.4M373.8,449.1V450.9M373.1,449.1h1.4M373.1,450.9h1.4M381.3,450.8V452.3M380.6,450.8h1.4M380.6,452.3h1.4M388.8,450.4V452.5M388.1,450.4h1.4M388.1,452.5h1.4" stroke="#b8183f" stroke-width="0.5" fill="none"/>
<polyline points="313.8,417.1 315.9,417.1 318.0,417.1 320.0,417.1 322.1,417.1 324.2,417.1 326.3,417.2 328.4,417.2 330.5,417.3 332.5,417.4 334.6,417.7 336.7,418.2 338.8,419.0 340.9,420.3 342.9,422.4 345.0,425.5 347.1,429.7 349.2,434.5 351.3,439.3 353.4,443.3 355.4,446.3 357.5,448.2 359.6,449.5 361.7,450.2 363.8,450.6 365.9,450.9 367.9,451.0 370.0,451.1 372.1,451.1 374.2,451.2 376.3,451.2 378.3,451.2 380.4,451.2 382.5,451.2 384.6,451.2 386.7,451.2 388.8,451.2" fill="none" stroke="#5b2b84" stroke-width="0.85"/>
<circle cx="313.8" cy="417.5" r="0.95" fill="#5b2b84"/>
<circle cx="321.3" cy="417.0" r="0.95" fill="#5b2b84"/>
<circle cx="328.8" cy="416.2" r="0.95" fill="#5b2b84"/>
<circle cx="336.3" cy="417.2" r="0.95" fill="#5b2b84"/>
<circle cx="343.8" cy="424.9" r="0.95" fill="#5b2b84"/>
<circle cx="351.3" cy="438.6" r="0.95" fill="#5b2b84"/>
<circle cx="358.8" cy="450.4" r="0.95" fill="#5b2b84"/>
<circle cx="366.3" cy="450.9" r="0.95" fill="#5b2b84"/>
<circle cx="373.8" cy="451.5" r="0.95" fill="#5b2b84"/>
<circle cx="381.3" cy="451.5" r="0.95" fill="#5b2b84"/>
<circle cx="388.8" cy="451.5" r="0.95" fill="#5b2b84"/>
<path d="M313.8,415.8V419.2M313.1,415.8h1.4M313.1,419.2h1.4M321.3,416.0V418.0M320.6,416.0h1.4M320.6,418.0h1.4M328.8,415.4V417.1M328.1,415.4h1.4M328.1,417.1h1.4M336.3,416.2V418.1M335.6,416.2h1.4M335.6,418.1h1.4M343.8,423.9V425.9M343.1,423.9h1.4M343.1,425.9h1.4M351.3,436.5V440.6M350.6,436.5h1.4M350.6,440.6h1.4M358.8,449.9V450.9M358.1,449.9h1.4M358.1,450.9h1.4M366.3,450.3V451.6M365.6,450.3h1.4M365.6,451.6h1.4M373.8,451.1V452.0M373.1,451.1h1.4M373.1,452.0h1.4M381.3,450.9V452.2M380.6,450.9h1.4M380.6,452.2h1.4M388.8,450.8V452.3M388.1,450.8h1.4M388.1,452.3h1.4" stroke="#5b2b84" stroke-width="0.5" fill="none"/>
<polyline points="313.8,414.7 315.9,414.7 318.0,414.7 320.0,414.7 322.1,414.7 324.2,414.7 326.3,414.7 328.4,414.7 330.5,414.7 332.5,414.7 334.6,414.7 336.7,414.7 338.8,414.7 340.9,414.7 342.9,414.8 345.0,415.0 347.1,415.7 349.2,417.9 351.3,423.2 353.4,432.6 355.4,442.2 357.5,447.8 359.6,450.1 361.7,450.8 363.8,451.1 365.9,451.2 367.9,451.2 370.0,451.2 372.1,451.2 374.2,451.2 376.3,451.2 378.3,451.2 380.4,451.2 382.5,451.2 384.6,451.2 386.7,451.2 388.8,451.2" fill="none" stroke="#69b34c" stroke-width="0.85"/>
<circle cx="313.8" cy="415.3" r="0.95" fill="#69b34c"/>
<circle cx="321.3" cy="414.1" r="0.95" fill="#69b34c"/>
<circle cx="328.8" cy="415.7" r="0.95" fill="#69b34c"/>
<circle cx="336.3" cy="415.8" r="0.95" fill="#69b34c"/>
<circle cx="343.8" cy="414.3" r="0.95" fill="#69b34c"/>
<circle cx="351.3" cy="422.8" r="0.95" fill="#69b34c"/>
<circle cx="358.8" cy="449.7" r="0.95" fill="#69b34c"/>
<circle cx="366.3" cy="450.1" r="0.95" fill="#69b34c"/>
<circle cx="373.8" cy="450.1" r="0.95" fill="#69b34c"/>
<circle cx="381.3" cy="451.5" r="0.95" fill="#69b34c"/>
<circle cx="388.8" cy="450.1" r="0.95" fill="#69b34c"/>
<path d="M313.8,413.6V417.0M313.1,413.6h1.4M313.1,417.0h1.4M321.3,411.8V416.4M320.6,411.8h1.4M320.6,416.4h1.4M328.8,413.1V418.4M328.1,413.1h1.4M328.1,418.4h1.4M336.3,412.8V418.8M335.6,412.8h1.4M335.6,418.8h1.4M343.8,411.3V417.3M343.1,411.3h1.4M343.1,417.3h1.4M351.3,420.8V424.9M350.6,420.8h1.4M350.6,424.9h1.4M358.8,449.0V450.4M358.1,449.0h1.4M358.1,450.4h1.4M366.3,449.6V450.6M365.6,449.6h1.4M365.6,450.6h1.4M373.8,449.7V450.6M373.1,449.7h1.4M373.1,450.6h1.4M381.3,450.9V452.2M380.6,450.9h1.4M380.6,452.2h1.4M388.8,449.3V450.9M388.1,449.3h1.4M388.1,450.9h1.4" stroke="#69b34c" stroke-width="0.5" fill="none"/>
<polyline points="313.8,416.4 315.9,416.4 318.0,416.4 320.0,416.4 322.1,416.4 324.2,416.4 326.3,416.4 328.4,416.4 330.5,416.4 332.5,416.4 334.6,416.4 336.7,416.4 338.8,416.4 340.9,416.4 342.9,416.5 345.0,416.7 347.1,417.4 349.2,419.5 351.3,424.5 353.4,433.5 355.4,442.7 357.5,448.0 359.6,450.1 361.7,450.8 363.8,451.1 365.9,451.2 367.9,451.2 370.0,451.2 372.1,451.2 374.2,451.2 376.3,451.2 378.3,451.2 380.4,451.2 382.5,451.2 384.6,451.2 386.7,451.2 388.8,451.2" fill="none" stroke="#26418f" stroke-width="0.85"/>
<circle cx="313.8" cy="416.7" r="0.95" fill="#26418f"/>
<circle cx="321.3" cy="417.1" r="0.95" fill="#26418f"/>
<circle cx="328.8" cy="416.3" r="0.95" fill="#26418f"/>
<circle cx="336.3" cy="415.7" r="0.95" fill="#26418f"/>
<circle cx="343.8" cy="417.0" r="0.95" fill="#26418f"/>
<circle cx="351.3" cy="425.5" r="0.95" fill="#26418f"/>
<circle cx="358.8" cy="449.1" r="0.95" fill="#26418f"/>
<circle cx="366.3" cy="451.5" r="0.95" fill="#26418f"/>
<circle cx="373.8" cy="450.4" r="0.95" fill="#26418f"/>
<circle cx="381.3" cy="451.5" r="0.95" fill="#26418f"/>
<circle cx="388.8" cy="450.1" r="0.95" fill="#26418f"/>
<path d="M313.8,414.2V419.3M313.1,414.2h1.4M313.1,419.3h1.4M321.3,415.3V419.0M320.6,415.3h1.4M320.6,419.0h1.4M328.8,414.0V418.7M328.1,414.0h1.4M328.1,418.7h1.4M336.3,413.6V417.8M335.6,413.6h1.4M335.6,417.8h1.4M343.8,415.4V418.6M343.1,415.4h1.4M343.1,418.6h1.4M351.3,423.0V428.0M350.6,423.0h1.4M350.6,428.0h1.4M358.8,448.2V449.9M358.1,448.2h1.4M358.1,449.9h1.4M366.3,450.9V452.2M365.6,450.9h1.4M365.6,452.2h1.4M373.8,449.7V451.1M373.1,449.7h1.4M373.1,451.1h1.4M381.3,450.9V452.2M380.6,450.9h1.4M380.6,452.2h1.4M388.8,449.6V450.6M388.1,449.6h1.4M388.1,450.6h1.4" stroke="#26418f" stroke-width="0.5" fill="none"/>
<line x1="309.60" y1="396.00" x2="309.60" y2="451.70" stroke="#000" stroke-width="1.05" />
<line x1="309.10" y1="451.20" x2="391.00" y2="451.20" stroke="#000" stroke-width="1.05" />
<line x1="307.20" y1="451.20" x2="309.60" y2="451.20" stroke="#000" stroke-width="0.7" />
<text x="303.60" y="453.60" font-size="7.76" stroke="#231f20" stroke-width="0.1" text-anchor="end">0</text>
<line x1="307.20" y1="433.80" x2="309.60" y2="433.80" stroke="#000" stroke-width="0.7" />
<text x="303.60" y="436.20" font-size="7.76" stroke="#231f20" stroke-width="0.1" text-anchor="end">50</text>
<line x1="307.20" y1="416.40" x2="309.60" y2="416.40" stroke="#000" stroke-width="0.7" />
<text x="303.60" y="418.80" font-size="7.76" stroke="#231f20" stroke-width="0.1" text-anchor="end">100</text>
<line x1="307.20" y1="399.00" x2="309.60" y2="399.00" stroke="#000" stroke-width="0.7" />
<text x="303.60" y="401.40" font-size="7.76" stroke="#231f20" stroke-width="0.1" text-anchor="end">150</text>
<line x1="313.80" y1="451.20" x2="313.80" y2="453.40" stroke="#000" stroke-width="0.7" />
<text x="313.80" y="464.30" font-size="7.76" stroke="#231f20" stroke-width="0.1" text-anchor="middle">0.1</text>
<line x1="338.70" y1="451.20" x2="338.70" y2="453.40" stroke="#000" stroke-width="0.7" />
<text x="338.70" y="464.30" font-size="7.76" stroke="#231f20" stroke-width="0.1" text-anchor="middle">1</text>
<line x1="363.60" y1="451.20" x2="363.60" y2="453.40" stroke="#000" stroke-width="0.7" />
<text x="363.60" y="464.30" font-size="7.76" stroke="#231f20" stroke-width="0.1" text-anchor="middle">10</text>
<line x1="388.50" y1="451.20" x2="388.50" y2="453.40" stroke="#000" stroke-width="0.7" />
<text x="388.50" y="464.30" font-size="7.76" stroke="#231f20" stroke-width="0.1" text-anchor="middle">100</text>
<line x1="311.39" y1="451.20" x2="311.39" y2="452.40" stroke="#000" stroke-width="0.45" />
<line x1="312.66" y1="451.20" x2="312.66" y2="452.40" stroke="#000" stroke-width="0.45" />
<line x1="321.30" y1="451.20" x2="321.30" y2="452.40" stroke="#000" stroke-width="0.45" />
<line x1="325.68" y1="451.20" x2="325.68" y2="452.40" stroke="#000" stroke-width="0.45" />
<line x1="328.79" y1="451.20" x2="328.79" y2="452.40" stroke="#000" stroke-width="0.45" />
<line x1="331.20" y1="451.20" x2="331.20" y2="452.40" stroke="#000" stroke-width="0.45" />
<line x1="333.18" y1="451.20" x2="333.18" y2="452.40" stroke="#000" stroke-width="0.45" />
<line x1="334.84" y1="451.20" x2="334.84" y2="452.40" stroke="#000" stroke-width="0.45" />
<line x1="336.29" y1="451.20" x2="336.29" y2="452.40" stroke="#000" stroke-width="0.45" />
<line x1="337.56" y1="451.20" x2="337.56" y2="452.40" stroke="#000" stroke-width="0.45" />
<line x1="346.20" y1="451.20" x2="346.20" y2="452.40" stroke="#000" stroke-width="0.45" />
<line x1="350.58" y1="451.20" x2="350.58" y2="452.40" stroke="#000" stroke-width="0.45" />
<line x1="353.69" y1="451.20" x2="353.69" y2="452.40" stroke="#000" stroke-width="0.45" />
<line x1="356.10" y1="451.20" x2="356.10" y2="452.40" stroke="#000" stroke-width="0.45" />
<line x1="358.08" y1="451.20" x2="358.08" y2="452.40" stroke="#000" stroke-width="0.45" />
<line x1="359.74" y1="451.20" x2="359.74" y2="452.40" stroke="#000" stroke-width="0.45" />
<line x1="361.19" y1="451.20" x2="361.19" y2="452.40" stroke="#000" stroke-width="0.45" />
<line x1="362.46" y1="451.20" x2="362.46" y2="452.40" stroke="#000" stroke-width="0.45" />
<line x1="371.10" y1="451.20" x2="371.10" y2="452.40" stroke="#000" stroke-width="0.45" />
<line x1="375.48" y1="451.20" x2="375.48" y2="452.40" stroke="#000" stroke-width="0.45" />
<line x1="378.59" y1="451.20" x2="378.59" y2="452.40" stroke="#000" stroke-width="0.45" />
<line x1="381.00" y1="451.20" x2="381.00" y2="452.40" stroke="#000" stroke-width="0.45" />
<line x1="382.98" y1="451.20" x2="382.98" y2="452.40" stroke="#000" stroke-width="0.45" />
<line x1="384.64" y1="451.20" x2="384.64" y2="452.40" stroke="#000" stroke-width="0.45" />
<line x1="386.09" y1="451.20" x2="386.09" y2="452.40" stroke="#000" stroke-width="0.45" />
<line x1="387.36" y1="451.20" x2="387.36" y2="452.40" stroke="#000" stroke-width="0.45" />
<text x="350.30" y="390.70" font-size="8.66" textLength="108.64" lengthAdjust="spacingAndGlyphs" stroke="#231f20" stroke-width="0.1" text-anchor="middle">NVP-BGJ398 (pan-FGFR)</text>
<polyline points="431.4,419.9 433.3,419.9 435.2,419.9 437.2,419.9 439.1,419.9 441.0,419.9 442.9,419.9 444.8,419.9 446.7,419.9 448.6,419.9 450.5,419.9 452.4,419.9 454.3,419.9 456.3,419.9 458.2,419.9 460.1,419.9 462.0,419.9 463.9,419.9 465.8,419.9 467.7,419.9 469.6,420.0 471.5,420.0 473.5,420.1 475.4,420.3 477.3,420.6 479.2,421.0 481.1,421.7 483.0,422.7 484.9,424.3 486.8,426.5 488.7,429.5 490.7,433.2 492.6,437.1 494.5,440.8 496.4,443.9 498.3,446.3 500.2,448.1" fill="none" stroke="#9a93d8" stroke-width="0.85"/>
<circle cx="431.4" cy="420.7" r="0.95" fill="#9a93d8"/>
<circle cx="438.3" cy="419.3" r="0.95" fill="#9a93d8"/>
<circle cx="445.2" cy="420.8" r="0.95" fill="#9a93d8"/>
<circle cx="452.1" cy="420.6" r="0.95" fill="#9a93d8"/>
<circle cx="458.9" cy="419.8" r="0.95" fill="#9a93d8"/>
<circle cx="465.8" cy="420.4" r="0.95" fill="#9a93d8"/>
<circle cx="472.7" cy="418.8" r="0.95" fill="#9a93d8"/>
<circle cx="479.6" cy="422.2" r="0.95" fill="#9a93d8"/>
<circle cx="486.4" cy="427.1" r="0.95" fill="#9a93d8"/>
<circle cx="493.3" cy="437.2" r="0.95" fill="#9a93d8"/>
<circle cx="500.2" cy="447.4" r="0.95" fill="#9a93d8"/>
<path d="M431.4,419.2V422.3M430.7,419.2h1.4M430.7,422.3h1.4M438.3,416.8V421.8M437.6,416.8h1.4M437.6,421.8h1.4M445.2,419.6V422.1M444.5,419.6h1.4M444.5,422.1h1.4M452.1,419.0V422.1M451.4,419.0h1.4M451.4,422.1h1.4M458.9,418.6V421.1M458.2,418.6h1.4M458.2,421.1h1.4M465.8,419.1V421.7M465.1,419.1h1.4M465.1,421.7h1.4M472.7,416.5V421.1M472.0,416.5h1.4M472.0,421.1h1.4M479.6,419.5V424.9M478.9,419.5h1.4M478.9,424.9h1.4M486.4,425.5V428.8M485.7,425.5h1.4M485.7,428.8h1.4M493.3,434.8V439.7M492.6,434.8h1.4M492.6,439.7h1.4M500.2,446.8V448.0M499.5,446.8h1.4M499.5,448.0h1.4" stroke="#9a93d8" stroke-width="0.5" fill="none"/>
<polyline points="431.4,423.4 433.3,423.4 435.2,423.4 437.2,423.4 439.1,423.4 441.0,423.4 442.9,423.4 444.8,423.4 446.7,423.4 448.6,423.4 450.5,423.4 452.4,423.4 454.3,423.4 456.3,423.4 458.2,423.4 460.1,423.4 462.0,423.4 463.9,423.4 465.8,423.4 467.7,423.4 469.6,423.5 471.5,423.5 473.5,423.6 475.4,423.8 477.3,424.1 479.2,424.6 481.1,425.4 483.0,426.5 484.9,428.2 486.8,430.5 488.7,433.5 490.7,436.9 492.6,440.3 494.5,443.4 496.4,445.9 498.3,447.7 500.2,449.0" fill="none" stroke="#b7cb8f" stroke-width="0.85"/>
<circle cx="431.4" cy="424.2" r="0.95" fill="#b7cb8f"/>
<circle cx="438.3" cy="424.5" r="0.95" fill="#b7cb8f"/>
<circle cx="445.2" cy="423.7" r="0.95" fill="#b7cb8f"/>
<circle cx="452.1" cy="423.6" r="0.95" fill="#b7cb8f"/>
<circle cx="458.9" cy="422.8" r="0.95" fill="#b7cb8f"/>
<circle cx="465.8" cy="423.0" r="0.95" fill="#b7cb8f"/>
<circle cx="472.7" cy="424.6" r="0.95" fill="#b7cb8f"/>
<circle cx="479.6" cy="425.0" r="0.95" fill="#b7cb8f"/>
<circle cx="486.4" cy="428.9" r="0.95" fill="#b7cb8f"/>
<circle cx="493.3" cy="441.4" r="0.95" fill="#b7cb8f"/>
<circle cx="500.2" cy="449.2" r="0.95" fill="#b7cb8f"/>
<path d="M431.4,422.1V426.3M430.7,422.1h1.4M430.7,426.3h1.4M438.3,423.1V425.8M437.6,423.1h1.4M437.6,425.8h1.4M445.2,422.6V424.7M444.5,422.6h1.4M444.5,424.7h1.4M452.1,421.2V426.0M451.4,421.2h1.4M451.4,426.0h1.4M458.9,420.9V424.7M458.2,420.9h1.4M458.2,424.7h1.4M465.8,421.2V424.8M465.1,421.2h1.4M465.1,424.8h1.4M472.7,422.5V426.7M472.0,422.5h1.4M472.0,426.7h1.4M479.6,422.7V427.3M478.9,422.7h1.4M478.9,427.3h1.4M486.4,427.1V430.6M485.7,427.1h1.4M485.7,430.6h1.4M493.3,439.1V443.7M492.6,439.1h1.4M492.6,443.7h1.4M500.2,448.7V449.7M499.5,448.7h1.4M499.5,449.7h1.4" stroke="#b7cb8f" stroke-width="0.5" fill="none"/>
<polyline points="431.4,428.6 433.3,428.6 435.2,428.6 437.2,428.6 439.1,428.6 441.0,428.6 442.9,428.6 444.8,428.6 446.7,428.6 448.6,428.6 450.5,428.6 452.4,428.6 454.3,428.6 456.3,428.6 458.2,428.6 460.1,428.6 462.0,428.6 463.9,428.6 465.8,428.6 467.7,428.7 469.6,428.7 471.5,428.8 473.5,428.9 475.4,429.1 477.3,429.4 479.2,429.8 481.1,430.5 483.0,431.5 484.9,432.9 486.8,434.8 488.7,437.0 490.7,439.6 492.6,442.2 494.5,444.5 496.4,446.5 498.3,448.0 500.2,449.1" fill="none" stroke="#69b34c" stroke-width="0.85"/>
<circle cx="431.4" cy="428.0" r="0.95" fill="#69b34c"/>
<circle cx="438.3" cy="427.8" r="0.95" fill="#69b34c"/>
<circle cx="445.2" cy="427.6" r="0.95" fill="#69b34c"/>
<circle cx="452.1" cy="428.2" r="0.95" fill="#69b34c"/>
<circle cx="458.9" cy="429.1" r="0.95" fill="#69b34c"/>
<circle cx="465.8" cy="429.8" r="0.95" fill="#69b34c"/>
<circle cx="472.7" cy="428.1" r="0.95" fill="#69b34c"/>
<circle cx="479.6" cy="429.6" r="0.95" fill="#69b34c"/>
<circle cx="486.4" cy="434.6" r="0.95" fill="#69b34c"/>
<circle cx="493.3" cy="442.8" r="0.95" fill="#69b34c"/>
<circle cx="500.2" cy="448.6" r="0.95" fill="#69b34c"/>
<path d="M431.4,425.4V430.5M430.7,425.4h1.4M430.7,430.5h1.4M438.3,425.6V430.1M437.6,425.6h1.4M437.6,430.1h1.4M445.2,425.4V429.8M444.5,425.4h1.4M444.5,429.8h1.4M452.1,426.4V430.0M451.4,426.4h1.4M451.4,430.0h1.4M458.9,427.0V431.2M458.2,427.0h1.4M458.2,431.2h1.4M465.8,428.0V431.5M465.1,428.0h1.4M465.1,431.5h1.4M472.7,425.8V430.3M472.0,425.8h1.4M472.0,430.3h1.4M479.6,428.2V431.0M478.9,428.2h1.4M478.9,431.0h1.4M486.4,432.8V436.4M485.7,432.8h1.4M485.7,436.4h1.4M493.3,441.1V444.5M492.6,441.1h1.4M492.6,444.5h1.4M500.2,447.6V449.5M499.5,447.6h1.4M499.5,449.5h1.4" stroke="#69b34c" stroke-width="0.5" fill="none"/>
<polyline points="431.4,421.6 433.3,421.6 435.2,421.6 437.2,421.6 439.1,421.6 441.0,421.6 442.9,421.6 444.8,421.6 446.7,421.6 448.6,421.6 450.5,421.6 452.4,421.6 454.3,421.6 456.3,421.6 458.2,421.6 460.1,421.6 462.0,421.6 463.9,421.6 465.8,421.7 467.7,421.7 469.6,421.7 471.5,421.8 473.5,421.9 475.4,422.0 477.3,422.3 479.2,422.7 481.1,423.3 483.0,424.3 484.9,425.8 486.8,427.9 488.7,430.7 490.7,434.2 492.6,437.8 494.5,441.3 496.4,444.3 498.3,446.6 500.2,448.2" fill="none" stroke="#f2911e" stroke-width="0.85"/>
<circle cx="431.4" cy="422.5" r="0.95" fill="#f2911e"/>
<circle cx="438.3" cy="420.8" r="0.95" fill="#f2911e"/>
<circle cx="445.2" cy="421.6" r="0.95" fill="#f2911e"/>
<circle cx="452.1" cy="422.9" r="0.95" fill="#f2911e"/>
<circle cx="458.9" cy="422.6" r="0.95" fill="#f2911e"/>
<circle cx="465.8" cy="420.4" r="0.95" fill="#f2911e"/>
<circle cx="472.7" cy="422.9" r="0.95" fill="#f2911e"/>
<circle cx="479.6" cy="422.7" r="0.95" fill="#f2911e"/>
<circle cx="486.4" cy="427.4" r="0.95" fill="#f2911e"/>
<circle cx="493.3" cy="438.4" r="0.95" fill="#f2911e"/>
<circle cx="500.2" cy="448.5" r="0.95" fill="#f2911e"/>
<path d="M431.4,420.3V424.7M430.7,420.3h1.4M430.7,424.7h1.4M438.3,419.2V422.5M437.6,419.2h1.4M437.6,422.5h1.4M445.2,418.9V424.4M444.5,418.9h1.4M444.5,424.4h1.4M452.1,420.9V424.9M451.4,420.9h1.4M451.4,424.9h1.4M458.9,420.2V425.0M458.2,420.2h1.4M458.2,425.0h1.4M465.8,418.5V422.3M465.1,418.5h1.4M465.1,422.3h1.4M472.7,420.9V424.9M472.0,420.9h1.4M472.0,424.9h1.4M479.6,420.4V424.9M478.9,420.4h1.4M478.9,424.9h1.4M486.4,425.3V429.5M485.7,425.3h1.4M485.7,429.5h1.4M493.3,436.5V440.3M492.6,436.5h1.4M492.6,440.3h1.4M500.2,447.5V449.4M499.5,447.5h1.4M499.5,449.4h1.4" stroke="#f2911e" stroke-width="0.5" fill="none"/>
<polyline points="431.4,420.6 433.3,420.6 435.2,420.6 437.2,420.6 439.1,420.6 441.0,420.6 442.9,420.6 444.8,420.6 446.7,420.6 448.6,420.6 450.5,420.6 452.4,420.6 454.3,420.6 456.3,420.6 458.2,420.6 460.1,420.6 462.0,420.6 463.9,420.6 465.8,420.6 467.7,420.6 469.6,420.6 471.5,420.7 473.5,420.8 475.4,420.9 477.3,421.1 479.2,421.4 481.1,422.0 483.0,422.8 484.9,424.1 486.8,426.0 488.7,428.6 490.7,431.9 492.6,435.6 494.5,439.4 496.4,442.8 498.3,445.5 500.2,447.5" fill="none" stroke="#5b2b84" stroke-width="0.85"/>
<circle cx="431.4" cy="421.4" r="0.95" fill="#5b2b84"/>
<circle cx="438.3" cy="420.9" r="0.95" fill="#5b2b84"/>
<circle cx="445.2" cy="421.6" r="0.95" fill="#5b2b84"/>
<circle cx="452.1" cy="421.0" r="0.95" fill="#5b2b84"/>
<circle cx="458.9" cy="421.2" r="0.95" fill="#5b2b84"/>
<circle cx="465.8" cy="422.0" r="0.95" fill="#5b2b84"/>
<circle cx="472.7" cy="421.0" r="0.95" fill="#5b2b84"/>
<circle cx="479.6" cy="421.9" r="0.95" fill="#5b2b84"/>
<circle cx="486.4" cy="426.3" r="0.95" fill="#5b2b84"/>
<circle cx="493.3" cy="435.9" r="0.95" fill="#5b2b84"/>
<circle cx="500.2" cy="448.2" r="0.95" fill="#5b2b84"/>
<path d="M431.4,419.2V423.6M430.7,419.2h1.4M430.7,423.6h1.4M438.3,418.5V423.2M437.6,418.5h1.4M437.6,423.2h1.4M445.2,418.9V424.4M444.5,418.9h1.4M444.5,424.4h1.4M452.1,419.9V422.1M451.4,419.9h1.4M451.4,422.1h1.4M458.9,419.5V422.9M458.2,419.5h1.4M458.2,422.9h1.4M465.8,420.2V423.7M465.1,420.2h1.4M465.1,423.7h1.4M472.7,418.7V423.2M472.0,418.7h1.4M472.0,423.2h1.4M479.6,420.5V423.4M478.9,420.5h1.4M478.9,423.4h1.4M486.4,424.0V428.7M485.7,424.0h1.4M485.7,428.7h1.4M493.3,434.0V437.9M492.6,434.0h1.4M492.6,437.9h1.4M500.2,447.4V449.1M499.5,447.4h1.4M499.5,449.1h1.4" stroke="#5b2b84" stroke-width="0.5" fill="none"/>
<polyline points="431.4,418.1 433.3,418.1 435.2,418.1 437.2,418.1 439.1,418.1 441.0,418.1 442.9,418.1 444.8,418.1 446.7,418.1 448.6,418.1 450.5,418.1 452.4,418.1 454.3,418.1 456.3,418.1 458.2,418.2 460.1,418.2 462.0,418.2 463.9,418.2 465.8,418.3 467.7,418.3 469.6,418.5 471.5,418.7 473.5,419.0 475.4,419.5 477.3,420.4 479.2,421.6 481.1,423.5 483.0,426.2 484.9,429.6 486.8,433.6 488.7,437.7 490.7,441.4 492.6,444.5 494.5,446.8 496.4,448.4 498.3,449.4 500.2,450.1" fill="none" stroke="#e1258c" stroke-width="0.85"/>
<circle cx="431.4" cy="418.5" r="0.95" fill="#e1258c"/>
<circle cx="438.3" cy="419.4" r="0.95" fill="#e1258c"/>
<circle cx="445.2" cy="417.1" r="0.95" fill="#e1258c"/>
<circle cx="452.1" cy="418.3" r="0.95" fill="#e1258c"/>
<circle cx="458.9" cy="419.1" r="0.95" fill="#e1258c"/>
<circle cx="465.8" cy="418.8" r="0.95" fill="#e1258c"/>
<circle cx="472.7" cy="417.7" r="0.95" fill="#e1258c"/>
<circle cx="479.6" cy="422.1" r="0.95" fill="#e1258c"/>
<circle cx="486.4" cy="432.6" r="0.95" fill="#e1258c"/>
<circle cx="493.3" cy="444.3" r="0.95" fill="#e1258c"/>
<circle cx="500.2" cy="448.9" r="0.95" fill="#e1258c"/>
<path d="M431.4,416.8V420.2M430.7,416.8h1.4M430.7,420.2h1.4M438.3,416.5V422.4M437.6,416.5h1.4M437.6,422.4h1.4M445.2,414.4V419.7M444.5,414.4h1.4M444.5,419.7h1.4M452.1,415.8V420.7M451.4,415.8h1.4M451.4,420.7h1.4M458.9,415.7V422.5M458.2,415.7h1.4M458.2,422.5h1.4M465.8,416.1V421.4M465.1,416.1h1.4M465.1,421.4h1.4M472.7,414.7V420.8M472.0,414.7h1.4M472.0,420.8h1.4M479.6,420.2V424.0M478.9,420.2h1.4M478.9,424.0h1.4M486.4,431.1V434.1M485.7,431.1h1.4M485.7,434.1h1.4M493.3,442.3V446.4M492.6,442.3h1.4M492.6,446.4h1.4M500.2,448.2V449.5M499.5,448.2h1.4M499.5,449.5h1.4" stroke="#e1258c" stroke-width="0.5" fill="none"/>
<polyline points="431.4,415.7 433.3,415.7 435.2,415.7 437.2,415.7 439.1,415.7 441.0,415.7 442.9,415.7 444.8,415.7 446.7,415.7 448.6,415.7 450.5,415.7 452.4,415.7 454.3,415.7 456.3,415.7 458.2,415.7 460.1,415.7 462.0,415.7 463.9,415.7 465.8,415.7 467.7,415.7 469.6,415.8 471.5,415.8 473.5,415.9 475.4,416.0 477.3,416.3 479.2,416.7 481.1,417.5 483.0,418.7 484.9,420.7 486.8,423.8 488.7,427.9 490.7,432.8 492.6,437.9 494.5,442.2 496.4,445.6 498.3,447.8 500.2,449.2" fill="none" stroke="#b8183f" stroke-width="0.85"/>
<circle cx="431.4" cy="416.1" r="0.95" fill="#b8183f"/>
<circle cx="438.3" cy="416.0" r="0.95" fill="#b8183f"/>
<circle cx="445.2" cy="417.4" r="0.95" fill="#b8183f"/>
<circle cx="452.1" cy="416.5" r="0.95" fill="#b8183f"/>
<circle cx="458.9" cy="416.4" r="0.95" fill="#b8183f"/>
<circle cx="465.8" cy="416.0" r="0.95" fill="#b8183f"/>
<circle cx="472.7" cy="415.3" r="0.95" fill="#b8183f"/>
<circle cx="479.6" cy="415.3" r="0.95" fill="#b8183f"/>
<circle cx="486.4" cy="424.6" r="0.95" fill="#b8183f"/>
<circle cx="493.3" cy="438.3" r="0.95" fill="#b8183f"/>
<circle cx="500.2" cy="450.5" r="0.95" fill="#b8183f"/>
<path d="M431.4,414.0V418.3M430.7,414.0h1.4M430.7,418.3h1.4M438.3,414.0V417.9M437.6,414.0h1.4M437.6,417.9h1.4M445.2,414.0V420.9M444.5,414.0h1.4M444.5,420.9h1.4M452.1,414.3V418.6M451.4,414.3h1.4M451.4,418.6h1.4M458.9,413.6V419.2M458.2,413.6h1.4M458.2,419.2h1.4M465.8,412.8V419.2M465.1,412.8h1.4M465.1,419.2h1.4M472.7,412.8V417.7M472.0,412.8h1.4M472.0,417.7h1.4M479.6,411.6V419.1M478.9,411.6h1.4M478.9,419.1h1.4M486.4,420.9V428.3M485.7,420.9h1.4M485.7,428.3h1.4M493.3,434.7V441.9M492.6,434.7h1.4M492.6,441.9h1.4M500.2,449.2V451.8M499.5,449.2h1.4M499.5,451.8h1.4" stroke="#b8183f" stroke-width="0.5" fill="none"/>
<polyline points="431.4,421.6 433.3,421.6 435.2,421.6 437.2,421.6 439.1,421.6 441.0,421.6 442.9,421.6 444.8,421.6 446.7,421.6 448.6,421.6 450.5,421.6 452.4,421.6 454.3,421.6 456.3,421.6 458.2,421.6 460.1,421.6 462.0,421.6 463.9,421.6 465.8,421.6 467.7,421.7 469.6,421.7 471.5,421.7 473.5,421.8 475.4,421.9 477.3,422.1 479.2,422.4 481.1,422.8 483.0,423.6 484.9,424.7 486.8,426.4 488.7,428.8 490.7,431.8 492.6,435.4 494.5,439.1 496.4,442.4 498.3,445.2 500.2,447.2" fill="none" stroke="#26418f" stroke-width="0.85"/>
<circle cx="431.4" cy="421.2" r="0.95" fill="#26418f"/>
<circle cx="438.3" cy="423.0" r="0.95" fill="#26418f"/>
<circle cx="445.2" cy="421.2" r="0.95" fill="#26418f"/>
<circle cx="452.1" cy="422.7" r="0.95" fill="#26418f"/>
<circle cx="458.9" cy="422.4" r="0.95" fill="#26418f"/>
<circle cx="465.8" cy="422.1" r="0.95" fill="#26418f"/>
<circle cx="472.7" cy="420.6" r="0.95" fill="#26418f"/>
<circle cx="479.6" cy="423.4" r="0.95" fill="#26418f"/>
<circle cx="486.4" cy="425.7" r="0.95" fill="#26418f"/>
<circle cx="493.3" cy="436.4" r="0.95" fill="#26418f"/>
<circle cx="500.2" cy="446.4" r="0.95" fill="#26418f"/>
<path d="M431.4,420.2V422.3M430.7,420.2h1.4M430.7,422.3h1.4M438.3,420.3V425.7M437.6,420.3h1.4M437.6,425.7h1.4M445.2,419.8V422.6M444.5,419.8h1.4M444.5,422.6h1.4M452.1,421.5V424.0M451.4,421.5h1.4M451.4,424.0h1.4M458.9,420.0V424.7M458.2,420.0h1.4M458.2,424.7h1.4M465.8,420.8V423.3M465.1,420.8h1.4M465.1,423.3h1.4M472.7,418.2V423.0M472.0,418.2h1.4M472.0,423.0h1.4M479.6,420.8V426.0M478.9,420.8h1.4M478.9,426.0h1.4M486.4,423.3V428.1M485.7,423.3h1.4M485.7,428.1h1.4M493.3,433.8V439.0M492.6,433.8h1.4M492.6,439.0h1.4M500.2,445.6V447.3M499.5,445.6h1.4M499.5,447.3h1.4" stroke="#26418f" stroke-width="0.5" fill="none"/>
<line x1="427.60" y1="396.00" x2="427.60" y2="451.70" stroke="#000" stroke-width="1.05" />
<line x1="427.10" y1="451.20" x2="508.00" y2="451.20" stroke="#000" stroke-width="1.05" />
<line x1="425.20" y1="451.20" x2="427.60" y2="451.20" stroke="#000" stroke-width="0.7" />
<text x="421.60" y="453.60" font-size="7.76" stroke="#231f20" stroke-width="0.1" text-anchor="end">0</text>
<line x1="425.20" y1="433.80" x2="427.60" y2="433.80" stroke="#000" stroke-width="0.7" />
<text x="421.60" y="436.20" font-size="7.76" stroke="#231f20" stroke-width="0.1" text-anchor="end">50</text>
<line x1="425.20" y1="416.40" x2="427.60" y2="416.40" stroke="#000" stroke-width="0.7" />
<text x="421.60" y="418.80" font-size="7.76" stroke="#231f20" stroke-width="0.1" text-anchor="end">100</text>
<line x1="425.20" y1="399.00" x2="427.60" y2="399.00" stroke="#000" stroke-width="0.7" />
<text x="421.60" y="401.40" font-size="7.76" stroke="#231f20" stroke-width="0.1" text-anchor="end">150</text>
<line x1="438.30" y1="451.20" x2="438.30" y2="453.40" stroke="#000" stroke-width="0.7" />
<text x="438.30" y="464.30" font-size="7.76" stroke="#231f20" stroke-width="0.1" text-anchor="middle">0.1</text>
<line x1="461.15" y1="451.20" x2="461.15" y2="453.40" stroke="#000" stroke-width="0.7" />
<text x="461.15" y="464.30" font-size="7.76" stroke="#231f20" stroke-width="0.1" text-anchor="middle">1</text>
<line x1="484.00" y1="451.20" x2="484.00" y2="453.40" stroke="#000" stroke-width="0.7" />
<text x="484.00" y="464.30" font-size="7.76" stroke="#231f20" stroke-width="0.1" text-anchor="middle">10</text>
<line x1="506.85" y1="451.20" x2="506.85" y2="453.40" stroke="#000" stroke-width="0.7" />
<text x="506.85" y="464.30" font-size="7.76" stroke="#231f20" stroke-width="0.1" text-anchor="middle">100</text>
<line x1="429.21" y1="451.20" x2="429.21" y2="452.40" stroke="#000" stroke-width="0.45" />
<line x1="431.42" y1="451.20" x2="431.42" y2="452.40" stroke="#000" stroke-width="0.45" />
<line x1="433.23" y1="451.20" x2="433.23" y2="452.40" stroke="#000" stroke-width="0.45" />
<line x1="434.76" y1="451.20" x2="434.76" y2="452.40" stroke="#000" stroke-width="0.45" />
<line x1="436.09" y1="451.20" x2="436.09" y2="452.40" stroke="#000" stroke-width="0.45" />
<line x1="437.25" y1="451.20" x2="437.25" y2="452.40" stroke="#000" stroke-width="0.45" />
<line x1="445.18" y1="451.20" x2="445.18" y2="452.40" stroke="#000" stroke-width="0.45" />
<line x1="449.20" y1="451.20" x2="449.20" y2="452.40" stroke="#000" stroke-width="0.45" />
<line x1="452.06" y1="451.20" x2="452.06" y2="452.40" stroke="#000" stroke-width="0.45" />
<line x1="454.27" y1="451.20" x2="454.27" y2="452.40" stroke="#000" stroke-width="0.45" />
<line x1="456.08" y1="451.20" x2="456.08" y2="452.40" stroke="#000" stroke-width="0.45" />
<line x1="457.61" y1="451.20" x2="457.61" y2="452.40" stroke="#000" stroke-width="0.45" />
<line x1="458.94" y1="451.20" x2="458.94" y2="452.40" stroke="#000" stroke-width="0.45" />
<line x1="460.10" y1="451.20" x2="460.10" y2="452.40" stroke="#000" stroke-width="0.45" />
<line x1="468.03" y1="451.20" x2="468.03" y2="452.40" stroke="#000" stroke-width="0.45" />
<line x1="472.05" y1="451.20" x2="472.05" y2="452.40" stroke="#000" stroke-width="0.45" />
<line x1="474.91" y1="451.20" x2="474.91" y2="452.40" stroke="#000" stroke-width="0.45" />
<line x1="477.12" y1="451.20" x2="477.12" y2="452.40" stroke="#000" stroke-width="0.45" />
<line x1="478.93" y1="451.20" x2="478.93" y2="452.40" stroke="#000" stroke-width="0.45" />
<line x1="480.46" y1="451.20" x2="480.46" y2="452.40" stroke="#000" stroke-width="0.45" />
<line x1="481.79" y1="451.20" x2="481.79" y2="452.40" stroke="#000" stroke-width="0.45" />
<line x1="482.95" y1="451.20" x2="482.95" y2="452.40" stroke="#000" stroke-width="0.45" />
<line x1="490.88" y1="451.20" x2="490.88" y2="452.40" stroke="#000" stroke-width="0.45" />
<line x1="494.90" y1="451.20" x2="494.90" y2="452.40" stroke="#000" stroke-width="0.45" />
<line x1="497.76" y1="451.20" x2="497.76" y2="452.40" stroke="#000" stroke-width="0.45" />
<line x1="499.97" y1="451.20" x2="499.97" y2="452.40" stroke="#000" stroke-width="0.45" />
<line x1="501.78" y1="451.20" x2="501.78" y2="452.40" stroke="#000" stroke-width="0.45" />
<line x1="503.31" y1="451.20" x2="503.31" y2="452.40" stroke="#000" stroke-width="0.45" />
<line x1="504.64" y1="451.20" x2="504.64" y2="452.40" stroke="#000" stroke-width="0.45" />
<line x1="505.80" y1="451.20" x2="505.80" y2="452.40" stroke="#000" stroke-width="0.45" />
<text x="468.30" y="390.70" font-size="8.66" textLength="72.59" lengthAdjust="spacingAndGlyphs" stroke="#231f20" stroke-width="0.1" text-anchor="middle">Trametinib (MEK)</text>
<text x="284.50" y="284.70" font-size="8.6" text-anchor="middle" textLength="77.0" lengthAdjust="spacingAndGlyphs" stroke="#231f20" stroke-width="0.12" transform="rotate(-90 284.50 284.70)">Percent viability vs control</text>
<text x="406.20" y="478.10" font-size="8.6" text-anchor="middle" textLength="35.0" lengthAdjust="spacingAndGlyphs" stroke="#231f20" stroke-width="0.08">[Drug] (uM)</text>
<line x1="301.00" y1="493.00" x2="310.30" y2="493.00" stroke="#26418f" stroke-width="1.0" />
<circle cx="305.65" cy="493.00" r="1.2" fill="#26418f"/>
<text x="313.00" y="495.90" font-size="8.61" textLength="42.07" lengthAdjust="spacingAndGlyphs" stroke="#231f20" stroke-width="0.1">AMO1 BtzR</text>
<line x1="301.00" y1="504.10" x2="310.30" y2="504.10" stroke="#69b34c" stroke-width="1.0" />
<circle cx="305.65" cy="504.10" r="1.2" fill="#69b34c"/>
<text x="313.00" y="507.00" font-size="8.61" textLength="37.19" lengthAdjust="spacingAndGlyphs" stroke="#231f20" stroke-width="0.1">AMO1 WT</text>
<line x1="363.40" y1="493.00" x2="372.70" y2="493.00" stroke="#e1258c" stroke-width="1.0" />
<circle cx="368.05" cy="493.00" r="1.2" fill="#e1258c"/>
<text x="377.80" y="495.90" font-size="8.61" textLength="17.72" lengthAdjust="spacingAndGlyphs" stroke="#231f20" stroke-width="0.1">INA6</text>
<line x1="363.40" y1="504.10" x2="372.70" y2="504.10" stroke="#f2911e" stroke-width="1.0" />
<circle cx="368.05" cy="504.10" r="1.2" fill="#f2911e"/>
<text x="377.80" y="507.00" font-size="8.61" textLength="25.54" lengthAdjust="spacingAndGlyphs" stroke="#231f20" stroke-width="0.1">KMS11</text>
<line x1="412.70" y1="493.00" x2="422.00" y2="493.00" stroke="#b7cb8f" stroke-width="1.0" />
<circle cx="417.35" cy="493.00" r="1.2" fill="#b7cb8f"/>
<text x="424.70" y="495.90" font-size="8.61" textLength="23.03" lengthAdjust="spacingAndGlyphs" stroke="#231f20" stroke-width="0.1">MM1S</text>
<line x1="412.70" y1="504.10" x2="422.00" y2="504.10" stroke="#9a93d8" stroke-width="1.0" />
<circle cx="417.35" cy="504.10" r="1.2" fill="#9a93d8"/>
<text x="424.70" y="507.00" font-size="8.61" textLength="37.65" lengthAdjust="spacingAndGlyphs" stroke="#231f20" stroke-width="0.1">RPMI8226</text>
<line x1="472.70" y1="493.00" x2="482.00" y2="493.00" stroke="#5b2b84" stroke-width="1.0" />
<circle cx="477.35" cy="493.00" r="1.2" fill="#5b2b84"/>
<text x="484.70" y="495.90" font-size="8.61" textLength="26.14" lengthAdjust="spacingAndGlyphs" stroke="#231f20" stroke-width="0.1">KMS34</text>
<line x1="472.70" y1="504.10" x2="482.00" y2="504.10" stroke="#b8183f" stroke-width="1.0" />
<circle cx="477.35" cy="504.10" r="1.2" fill="#b8183f"/>
<text x="484.70" y="507.00" font-size="8.61" textLength="17.73" lengthAdjust="spacingAndGlyphs" stroke="#231f20" stroke-width="0.1">L363</text>
<line x1="42.60" y1="382.60" x2="42.60" y2="455.40" stroke="#000" stroke-width="0.9" />
<line x1="42.20" y1="455.00" x2="128.80" y2="455.00" stroke="#000" stroke-width="0.9" />
<line x1="40.00" y1="387.00" x2="42.60" y2="387.00" stroke="#000" stroke-width="0.7" />
<text x="37.00" y="389.75" font-size="8.02" stroke="#231f20" stroke-width="0.1" text-anchor="end">&#8722;1.0</text>
<line x1="40.00" y1="404.80" x2="42.60" y2="404.80" stroke="#000" stroke-width="0.7" />
<text x="37.00" y="407.55" font-size="8.02" stroke="#231f20" stroke-width="0.1" text-anchor="end">&#8722;1.5</text>
<line x1="40.00" y1="422.90" x2="42.60" y2="422.90" stroke="#000" stroke-width="0.7" />
<text x="37.00" y="425.65" font-size="8.02" stroke="#231f20" stroke-width="0.1" text-anchor="end">&#8722;2.0</text>
<line x1="40.00" y1="441.00" x2="42.60" y2="441.00" stroke="#000" stroke-width="0.7" />
<text x="37.00" y="443.75" font-size="8.02" stroke="#231f20" stroke-width="0.1" text-anchor="end">&#8722;2.5</text>
<line x1="60.80" y1="455.00" x2="60.80" y2="457.40" stroke="#000" stroke-width="0.7" />
<text x="60.80" y="467.90" font-size="7.76" stroke="#231f20" stroke-width="0.1" text-anchor="middle">&#8722;0.25</text>
<line x1="80.50" y1="455.00" x2="80.50" y2="457.40" stroke="#000" stroke-width="0.7" />
<text x="80.50" y="467.90" font-size="7.76" stroke="#231f20" stroke-width="0.1" text-anchor="middle">0.00</text>
<line x1="100.00" y1="455.00" x2="100.00" y2="457.40" stroke="#000" stroke-width="0.7" />
<text x="100.00" y="467.90" font-size="7.76" stroke="#231f20" stroke-width="0.1" text-anchor="middle">0.25</text>
<line x1="119.70" y1="455.00" x2="119.70" y2="457.40" stroke="#000" stroke-width="0.7" />
<text x="119.70" y="467.90" font-size="7.76" stroke="#231f20" stroke-width="0.1" text-anchor="middle">0.50</text>
<text x="85.80" y="372.80" font-size="8.57" textLength="68.59" lengthAdjust="spacingAndGlyphs" stroke="#231f20" stroke-width="0.1" text-anchor="middle">INK128 (mTOR)</text>
<line x1="47.50" y1="402.40" x2="124.70" y2="430.80" stroke="#3c4a60" stroke-width="0.9" />
<circle cx="47.80" cy="403.80" r="1.75" fill="#5aae3c"/>
<circle cx="46.20" cy="408.60" r="1.75" fill="#e01a8a"/>
<circle cx="85.70" cy="397.00" r="1.75" fill="#1e3f8a"/>
<circle cx="76.10" cy="409.00" r="1.75" fill="#a8a0e0"/>
<circle cx="78.70" cy="412.10" r="1.75" fill="#b3c68a"/>
<circle cx="95.60" cy="416.00" r="1.75" fill="#a3142a"/>
<circle cx="89.10" cy="434.70" r="1.75" fill="#ef8a17"/>
<circle cx="125.50" cy="436.30" r="1.75" fill="#4a1a6e"/>
<text x="85.60" y="443.80" font-size="6.37" stroke="#231f20" stroke-width="0.05" text-anchor="middle">y = &#8722;1.8 + &#8722;0.78 x, r&#178; = 0.431</text>
<text x="85.60" y="450.80" font-size="6.37" stroke="#231f20" stroke-width="0.05" text-anchor="middle">p = 0.077</text>
<line x1="159.60" y1="381.70" x2="159.60" y2="455.40" stroke="#000" stroke-width="0.9" />
<line x1="159.20" y1="455.00" x2="246.00" y2="455.00" stroke="#000" stroke-width="0.9" />
<line x1="157.00" y1="384.20" x2="159.60" y2="384.20" stroke="#000" stroke-width="0.7" />
<text x="154.00" y="386.95" font-size="8.02" stroke="#231f20" stroke-width="0.1" text-anchor="end">&#8722;0.8</text>
<line x1="157.00" y1="403.20" x2="159.60" y2="403.20" stroke="#000" stroke-width="0.7" />
<text x="154.00" y="405.95" font-size="8.02" stroke="#231f20" stroke-width="0.1" text-anchor="end">&#8722;1.2</text>
<line x1="157.00" y1="421.90" x2="159.60" y2="421.90" stroke="#000" stroke-width="0.7" />
<text x="154.00" y="424.65" font-size="8.02" stroke="#231f20" stroke-width="0.1" text-anchor="end">&#8722;1.6</text>
<line x1="157.00" y1="441.20" x2="159.60" y2="441.20" stroke="#000" stroke-width="0.7" />
<text x="154.00" y="443.95" font-size="8.02" stroke="#231f20" stroke-width="0.1" text-anchor="end">&#8722;2.0</text>
<line x1="174.00" y1="455.00" x2="174.00" y2="457.40" stroke="#000" stroke-width="0.7" />
<text x="174.00" y="467.90" font-size="7.76" stroke="#231f20" stroke-width="0.1" text-anchor="middle">&#8722;0.2</text>
<line x1="191.30" y1="455.00" x2="191.30" y2="457.40" stroke="#000" stroke-width="0.7" />
<text x="191.30" y="467.90" font-size="7.76" stroke="#231f20" stroke-width="0.1" text-anchor="middle">0.0</text>
<line x1="208.60" y1="455.00" x2="208.60" y2="457.40" stroke="#000" stroke-width="0.7" />
<text x="208.60" y="467.90" font-size="7.76" stroke="#231f20" stroke-width="0.1" text-anchor="middle">0.2</text>
<line x1="225.20" y1="455.00" x2="225.20" y2="457.40" stroke="#000" stroke-width="0.7" />
<text x="225.20" y="467.90" font-size="7.76" stroke="#231f20" stroke-width="0.1" text-anchor="middle">0.4</text>
<line x1="242.40" y1="455.00" x2="242.40" y2="457.40" stroke="#000" stroke-width="0.7" />
<text x="242.40" y="467.90" font-size="7.76" stroke="#231f20" stroke-width="0.1" text-anchor="middle">0.6</text>
<text x="204.00" y="372.80" font-size="8.57" textLength="75.64" lengthAdjust="spacingAndGlyphs" stroke="#231f20" stroke-width="0.1" text-anchor="middle">Alisertib (AURKA)</text>
<line x1="163.40" y1="406.90" x2="241.90" y2="423.00" stroke="#3c4a60" stroke-width="0.9" />
<circle cx="184.10" cy="385.50" r="1.75" fill="#a3142a"/>
<circle cx="170.30" cy="412.40" r="1.75" fill="#1e3f8a"/>
<circle cx="174.50" cy="411.60" r="1.75" fill="#5aae3c"/>
<circle cx="173.70" cy="414.20" r="1.75" fill="#ef8a17"/>
<circle cx="163.50" cy="415.80" r="1.75" fill="#a8a0e0"/>
<circle cx="207.60" cy="415.50" r="1.75" fill="#4a1a6e"/>
<circle cx="242.40" cy="428.50" r="1.75" fill="#e01a8a"/>
<text x="203.00" y="443.80" font-size="6.37" stroke="#231f20" stroke-width="0.05" text-anchor="middle">y = &#8722;1.4 + &#8722;0.37 x, r&#178; = 0.186</text>
<text x="203.00" y="450.80" font-size="6.37" stroke="#231f20" stroke-width="0.05" text-anchor="middle">p = 0.335</text>
<text x="14.60" y="419.00" font-size="8.6" text-anchor="middle" textLength="61.2" lengthAdjust="spacingAndGlyphs" stroke="#231f20" stroke-width="0.14" transform="rotate(-90 14.60 419.00)">Sensitivity (log LC50)</text>
<text x="144.10" y="480.90" font-size="8.9" text-anchor="middle" textLength="65.8" lengthAdjust="spacingAndGlyphs" stroke="#231f20" stroke-width="0.28">Relative kinase activity</text>
<text x="60.00" y="492.90" font-size="7.60" textLength="30.91" lengthAdjust="spacingAndGlyphs" stroke="#444" stroke-width="0.1" fill="#444">Cell Lines</text>
<circle cx="61.80" cy="501.50" r="1.8" fill="#5aae3c"/>
<text x="66.70" y="503.80" font-size="7.77" textLength="20.38" lengthAdjust="spacingAndGlyphs" stroke="#231f20" stroke-width="0.1">AMO1</text>
<circle cx="61.80" cy="511.90" r="1.8" fill="#1e3f8a"/>
<text x="66.70" y="514.20" font-size="7.77" textLength="26.77" lengthAdjust="spacingAndGlyphs" stroke="#231f20" stroke-width="0.1">AMO1br</text>
<circle cx="105.30" cy="501.50" r="1.8" fill="#e01a8a"/>
<text x="110.20" y="503.80" font-size="7.77" textLength="15.98" lengthAdjust="spacingAndGlyphs" stroke="#231f20" stroke-width="0.1">INA6</text>
<circle cx="105.30" cy="511.90" r="1.8" fill="#ef8a17"/>
<text x="110.20" y="514.20" font-size="7.77" textLength="23.04" lengthAdjust="spacingAndGlyphs" stroke="#231f20" stroke-width="0.1">KMS11</text>
<circle cx="145.00" cy="501.50" r="1.8" fill="#4a1a6e"/>
<text x="149.90" y="503.80" font-size="7.77" textLength="23.58" lengthAdjust="spacingAndGlyphs" stroke="#231f20" stroke-width="0.1">KMS34</text>
<circle cx="145.00" cy="511.90" r="1.8" fill="#a3142a"/>
<text x="149.90" y="514.20" font-size="7.77" textLength="15.99" lengthAdjust="spacingAndGlyphs" stroke="#231f20" stroke-width="0.1">L363</text>
<circle cx="184.70" cy="501.50" r="1.8" fill="#b3c68a"/>
<text x="189.60" y="503.80" font-size="7.77" textLength="20.77" lengthAdjust="spacingAndGlyphs" stroke="#231f20" stroke-width="0.1">MM1S</text>
<circle cx="184.70" cy="511.90" r="1.8" fill="#a8a0e0"/>
<text x="189.60" y="514.20" font-size="7.77" textLength="33.97" lengthAdjust="spacingAndGlyphs" stroke="#231f20" stroke-width="0.1">RPMI8226</text>
</svg>
</body></html>
